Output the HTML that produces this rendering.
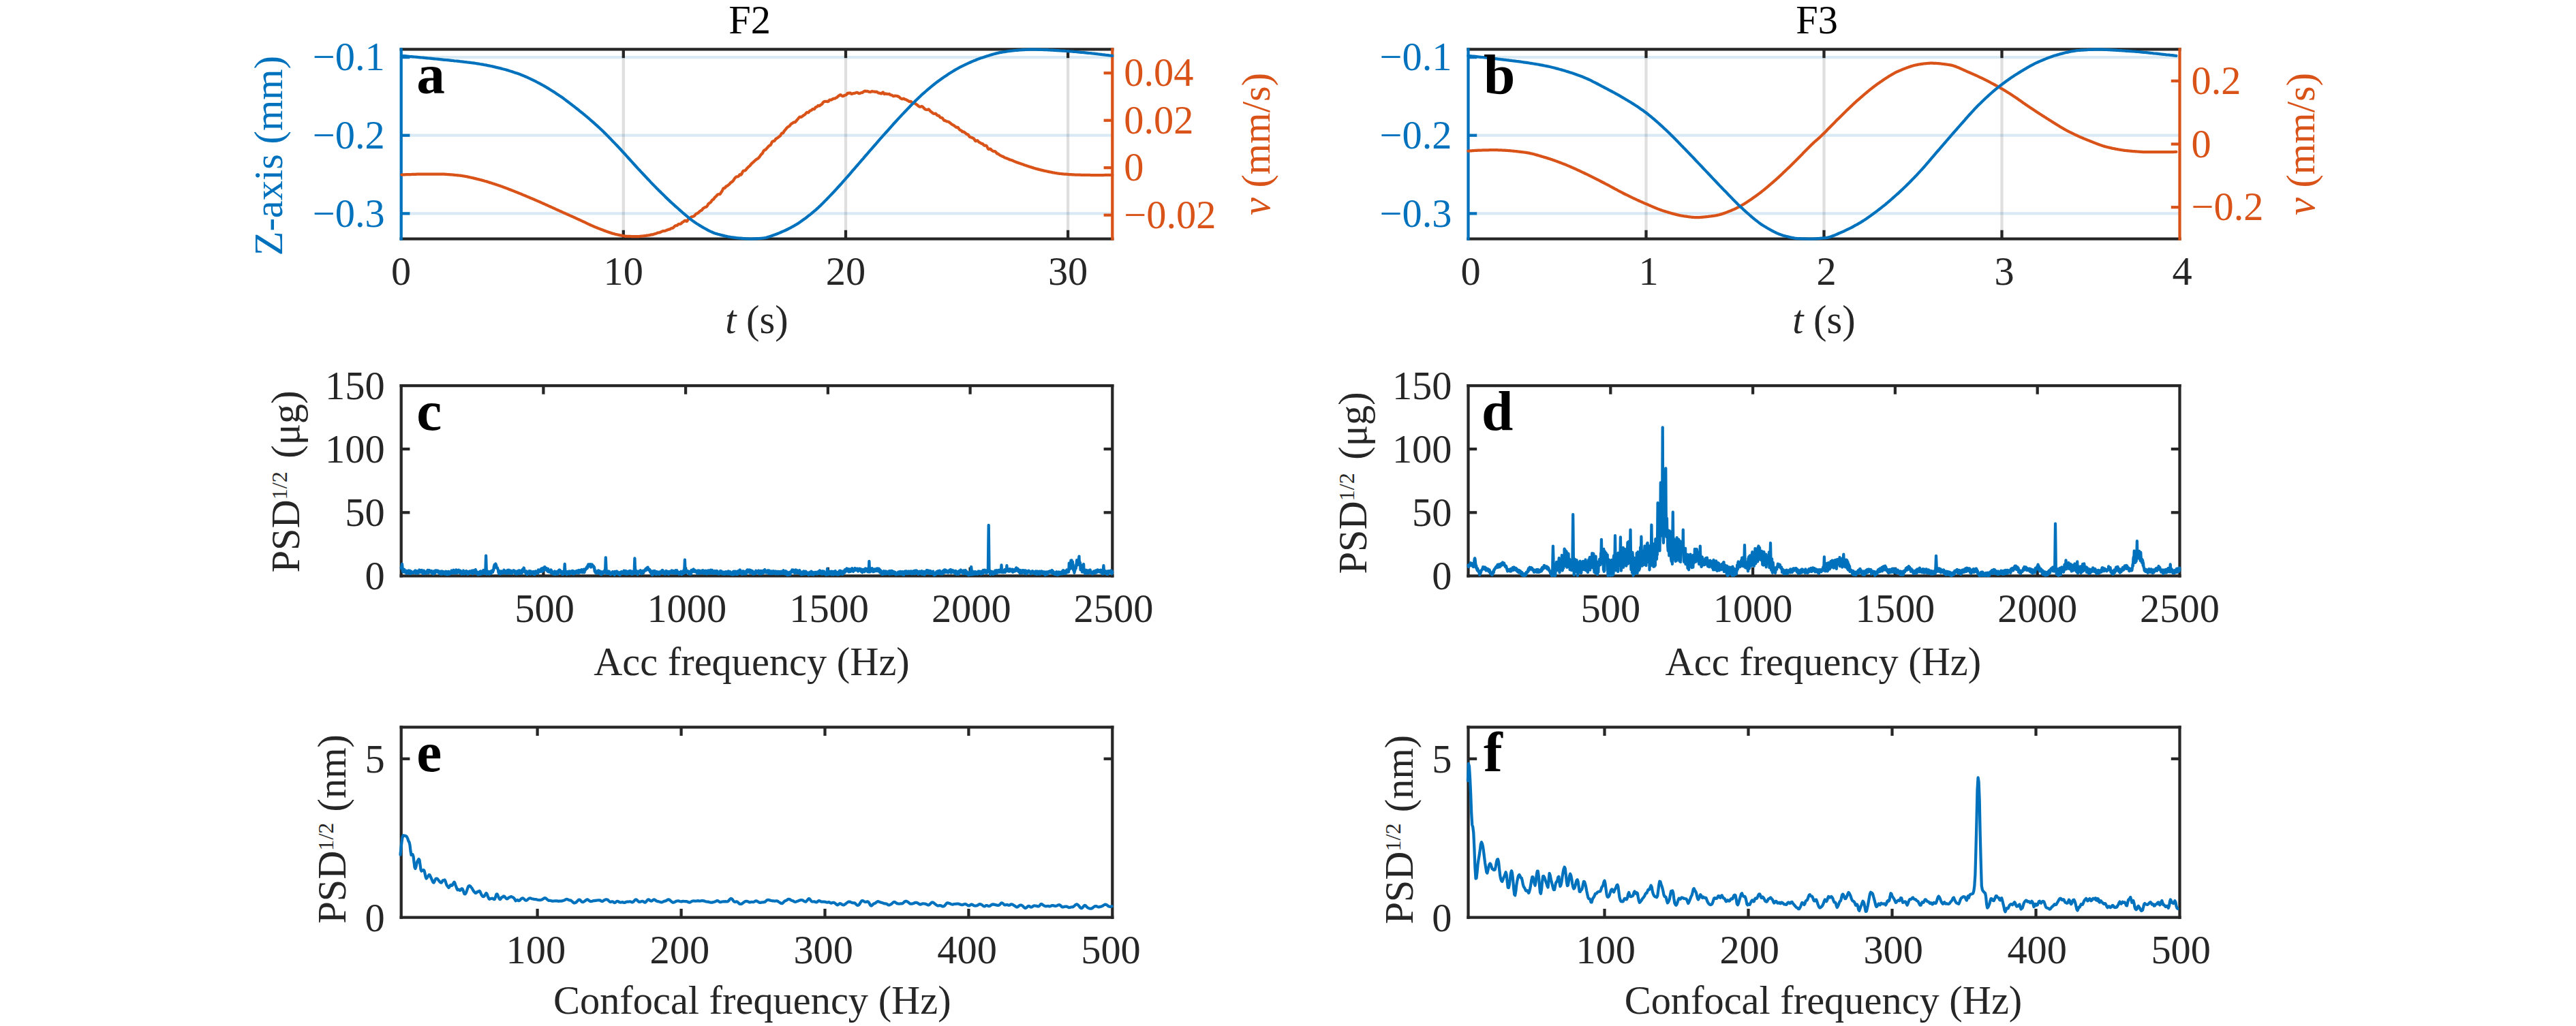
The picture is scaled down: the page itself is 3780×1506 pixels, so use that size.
<!DOCTYPE html>
<html><head><meta charset="utf-8"><title>Figure</title>
<style>html,body{margin:0;padding:0;background:#fff;overflow:hidden;}svg{display:block;}</style>
</head><body>
<svg width="3780" height="1506" viewBox="0 0 3780 1506" font-family="'Liberation Serif', serif">
<rect width="3780" height="1506" fill="#ffffff"/>
<line x1="914.8" y1="72.4" x2="914.8" y2="350.5" stroke="#262626" stroke-opacity="0.15" stroke-width="4.25"/>
<line x1="1241" y1="72.4" x2="1241" y2="350.5" stroke="#262626" stroke-opacity="0.15" stroke-width="4.25"/>
<line x1="1567.1" y1="72.4" x2="1567.1" y2="350.5" stroke="#262626" stroke-opacity="0.15" stroke-width="4.25"/>
<line x1="588.7" y1="84.1" x2="1632.3" y2="84.1" stroke="#0072BD" stroke-opacity="0.15" stroke-width="4.25"/>
<line x1="588.7" y1="198.7" x2="1632.3" y2="198.7" stroke="#0072BD" stroke-opacity="0.15" stroke-width="4.25"/>
<line x1="588.7" y1="313.4" x2="1632.3" y2="313.4" stroke="#0072BD" stroke-opacity="0.15" stroke-width="4.25"/>
<line x1="588.7" y1="72.4" x2="1632.3" y2="72.4" stroke="#262626" stroke-width="4.25" stroke-linecap="square"/>
<line x1="588.7" y1="350.5" x2="1632.3" y2="350.5" stroke="#262626" stroke-width="4.25" stroke-linecap="square"/>
<text x="588.7" y="417.7" font-size="58.4" fill="#262626" text-anchor="middle" font-weight="normal">0</text>
<line x1="914.8" y1="350.5" x2="914.8" y2="337.8" stroke="#262626" stroke-width="4.25" stroke-linecap="butt"/>
<line x1="914.8" y1="72.4" x2="914.8" y2="85.1" stroke="#262626" stroke-width="4.25" stroke-linecap="butt"/>
<text x="914.8" y="417.7" font-size="58.4" fill="#262626" text-anchor="middle" font-weight="normal">10</text>
<line x1="1241" y1="350.5" x2="1241" y2="337.8" stroke="#262626" stroke-width="4.25" stroke-linecap="butt"/>
<line x1="1241" y1="72.4" x2="1241" y2="85.1" stroke="#262626" stroke-width="4.25" stroke-linecap="butt"/>
<text x="1241" y="417.7" font-size="58.4" fill="#262626" text-anchor="middle" font-weight="normal">20</text>
<line x1="1567.1" y1="350.5" x2="1567.1" y2="337.8" stroke="#262626" stroke-width="4.25" stroke-linecap="butt"/>
<line x1="1567.1" y1="72.4" x2="1567.1" y2="85.1" stroke="#262626" stroke-width="4.25" stroke-linecap="butt"/>
<text x="1567.1" y="417.7" font-size="58.4" fill="#262626" text-anchor="middle" font-weight="normal">30</text>
<line x1="588.7" y1="72.4" x2="588.7" y2="350.5" stroke="#0072BD" stroke-width="4.25" stroke-linecap="square"/>
<line x1="1632.3" y1="72.4" x2="1632.3" y2="350.5" stroke="#D95319" stroke-width="4.25" stroke-linecap="square"/>
<line x1="588.7" y1="84.1" x2="601.4" y2="84.1" stroke="#0072BD" stroke-width="4.25" stroke-linecap="butt"/>
<text x="564.7" y="103.3" font-size="58.4" fill="#0072BD" text-anchor="end" font-weight="normal">−0.1</text>
<line x1="588.7" y1="198.7" x2="601.4" y2="198.7" stroke="#0072BD" stroke-width="4.25" stroke-linecap="butt"/>
<text x="564.7" y="217.9" font-size="58.4" fill="#0072BD" text-anchor="end" font-weight="normal">−0.2</text>
<line x1="588.7" y1="313.4" x2="601.4" y2="313.4" stroke="#0072BD" stroke-width="4.25" stroke-linecap="butt"/>
<text x="564.7" y="332.6" font-size="58.4" fill="#0072BD" text-anchor="end" font-weight="normal">−0.3</text>
<line x1="1632.3" y1="107.2" x2="1619.6" y2="107.2" stroke="#D95319" stroke-width="4.25" stroke-linecap="butt"/>
<text x="1649.3" y="126.4" font-size="58.4" fill="#D95319" text-anchor="start" font-weight="normal">0.04</text>
<line x1="1632.3" y1="176.7" x2="1619.6" y2="176.7" stroke="#D95319" stroke-width="4.25" stroke-linecap="butt"/>
<text x="1649.3" y="195.9" font-size="58.4" fill="#D95319" text-anchor="start" font-weight="normal">0.02</text>
<line x1="1632.3" y1="246.2" x2="1619.6" y2="246.2" stroke="#D95319" stroke-width="4.25" stroke-linecap="butt"/>
<text x="1649.3" y="265.4" font-size="58.4" fill="#D95319" text-anchor="start" font-weight="normal">0</text>
<line x1="1632.3" y1="315.7" x2="1619.6" y2="315.7" stroke="#D95319" stroke-width="4.25" stroke-linecap="butt"/>
<text x="1649.3" y="334.9" font-size="58.4" fill="#D95319" text-anchor="start" font-weight="normal">−0.02</text>
<polyline points="589.4,256.5 590.4,256.5 591.4,256.4 592.4,256.4 593.4,256.3 594.4,256.3 595.4,256.2 596.4,256.2 597.4,256.2 598.4,256.1 599.4,256.1 600.4,256.1 601.4,256 602.4,256 603.4,256 604.4,255.9 605.4,255.9 606.4,255.9 607.4,255.8 608.4,255.8 609.4,255.8 610.4,255.8 611.4,255.7 612.4,255.7 613.4,255.7 614.4,255.7 615.4,255.7 616.4,255.6 617.5,255.6 618.5,255.6 619.5,255.6 620.5,255.6 621.5,255.6 622.5,255.6 623.5,255.6 624.5,255.6 625.5,255.6 626.5,255.6 627.5,255.6 628.5,255.5 629.5,255.5 630.5,255.5 631.5,255.5 632.5,255.5 633.5,255.5 634.5,255.5 635.5,255.5 636.5,255.5 637.5,255.5 638.5,255.5 639.5,255.5 640.5,255.5 641.5,255.5 642.5,255.5 643.5,255.5 644.5,255.5 645.5,255.5 646.5,255.5 647.5,255.6 648.5,255.6 649.5,255.6 650.5,255.7 651.5,255.7 652.5,255.7 653.5,255.8 654.5,255.9 655.5,255.9 656.5,256 657.5,256.1 658.5,256.1 659.5,256.2 660.5,256.3 661.5,256.4 662.5,256.4 663.5,256.5 664.5,256.6 665.5,256.7 666.5,256.8 667.5,256.9 668.5,257 669.5,257.1 670.5,257.2 671.5,257.3 672.6,257.4 673.6,257.5 674.6,257.6 675.6,257.7 676.6,257.9 677.6,258 678.6,258.1 679.6,258.3 680.6,258.5 681.6,258.6 682.6,258.8 683.6,259 684.6,259.2 685.6,259.4 686.6,259.6 687.6,259.8 688.6,260 689.6,260.3 690.6,260.5 691.6,260.7 692.6,261 693.6,261.2 694.6,261.4 695.6,261.7 696.6,261.9 697.6,262.1 698.6,262.4 699.6,262.6 700.6,262.9 701.6,263.1 702.6,263.3 703.6,263.6 704.6,263.8 705.6,264.1 706.6,264.4 707.6,264.6 708.6,264.9 709.6,265.2 710.6,265.5 711.6,265.8 712.6,266 713.6,266.3 714.6,266.6 715.6,266.9 716.6,267.3 717.6,267.6 718.6,267.9 719.6,268.2 720.6,268.5 721.6,268.8 722.6,269.2 723.6,269.5 724.6,269.8 725.6,270.1 726.7,270.5 727.7,270.8 728.7,271.1 729.7,271.5 730.7,271.8 731.7,272.2 732.7,272.5 733.7,272.8 734.7,273.2 735.7,273.5 736.7,273.9 737.7,274.3 738.7,274.6 739.7,275 740.7,275.4 741.7,275.7 742.7,276.1 743.7,276.5 744.7,276.9 745.7,277.3 746.7,277.7 747.7,278.1 748.7,278.4 749.7,278.8 750.7,279.2 751.7,279.6 752.7,280 753.7,280.4 754.7,280.8 755.7,281.2 756.7,281.6 757.7,282 758.7,282.4 759.7,282.8 760.7,283.2 761.7,283.6 762.7,284 763.7,284.4 764.7,284.8 765.7,285.2 766.7,285.7 767.7,286.1 768.7,286.5 769.7,286.9 770.7,287.3 771.7,287.7 772.7,288.1 773.7,288.6 774.7,289 775.7,289.4 776.7,289.8 777.7,290.3 778.7,290.7 779.7,291.1 780.7,291.5 781.8,292 782.8,292.4 783.8,292.8 784.8,293.3 785.8,293.7 786.8,294.1 787.8,294.6 788.8,295 789.8,295.4 790.8,295.9 791.8,296.3 792.8,296.7 793.8,297.2 794.8,297.6 795.8,298.1 796.8,298.5 797.8,299 798.8,299.4 799.8,299.9 800.8,300.3 801.8,300.8 802.8,301.2 803.8,301.7 804.8,302.1 805.8,302.6 806.8,303 807.8,303.5 808.8,303.9 809.8,304.4 810.8,304.8 811.8,305.3 812.8,305.7 813.8,306.2 814.8,306.7 815.8,307.1 816.8,307.6 817.8,308 818.8,308.5 819.8,308.9 820.8,309.4 821.8,309.8 822.8,310.3 823.8,310.7 824.8,311.2 825.8,311.6 826.8,312.1 827.8,312.5 828.8,313 829.8,313.4 830.8,313.9 831.8,314.3 832.8,314.8 833.8,315.2 834.8,315.7 835.8,316.1 836.9,316.6 837.9,317 838.9,317.5 839.9,317.9 840.9,318.4 841.9,318.8 842.9,319.3 843.9,319.7 844.9,320.2 845.9,320.6 846.9,321.1 847.9,321.6 848.9,322 849.9,322.5 850.9,322.9 851.9,323.4 852.9,323.9 853.9,324.3 854.9,324.8 855.9,325.3 856.9,325.7 857.9,326.2 858.9,326.7 859.9,327.2 860.9,327.7 861.9,328.1 862.9,328.6 863.9,329.1 864.9,329.5 865.9,330 866.9,330.5 867.9,330.9 868.9,331.4 869.9,331.8 870.9,332.2 871.9,332.7 872.9,333.1 873.9,333.5 874.9,333.9 875.9,334.3 876.9,334.7 877.9,335.1 878.9,335.5 879.9,335.9 880.9,336.3 881.9,336.6 882.9,337 883.9,337.4 884.9,337.8 885.9,338.2 886.9,338.6 887.9,338.9 888.9,339.3 889.9,339.7 890.9,340 892,340.4 893,340.7 894,341.1 895,341.4 896,341.7 897,342.1 898,342.4 899,342.7 900,343 901,343.2 902,343.5 903,343.8 904,344 905,344.2 906,344.5 907,344.7 908,344.9 909,345.1 910,345.3 911,345.5 912,345.7 913,345.9 914,346.1 915,346.3 916,346.4 917,346.6 918,346.7 919,346.8 920,346.9 921,346.9 922,346.9 923,346.9 924,346.9 925,346.9 926,347 927,347 928,347 929,347 930,347 931,347 932,347 933,347 934,347 935,347 936,347 937,347 938,347 939,346.9 940,346.8 941,346.7 942,346.6 943,346.5 944,346.4 945,346.3 946,346.1 947.1,346 948.1,345.9 949.1,345.7 950.1,345.6 951.1,345.5 952.1,345.3 953.1,345.1 954.1,344.8 955.1,344.6 956.1,344.4 957.1,344.3 958.1,344.3 959.1,343.9 960.1,343.5 961.1,343.2 962.1,343 963.1,342.6 964.1,342.1 965.1,341.8 966.1,341.5 967.1,341.4 968.1,341.3 969.1,340.9 970.1,340.3 971.1,339.9 972.1,339.4 973.1,339 974.1,339 975.1,339 976.1,338.8 977.1,338.4 978.1,338 979.1,337.5 980.1,337.2 981.1,336.9 982.1,336.7 983.1,336.5 984.1,335.7 985.1,335.1 986.1,334.9 987.1,334.8 988.1,334.1 989.1,332.9 990.1,331.9 991.1,331.4 992.1,331.2 993.1,331.1 994.1,330.5 995.1,329.4 996.1,328.9 997.1,328.8 998.1,328.8 999.1,328.4 1000.1,327.4 1001.2,326.4 1002.2,325.9 1003.2,325.3 1004.2,324.3 1005.2,323.7 1006.2,324 1007.2,324.8 1008.2,324.6 1009.2,323 1010.2,321.4 1011.2,320.6 1012.2,320.1 1013.2,319.5 1014.2,318.7 1015.2,318.2 1016.2,318 1017.2,317.7 1018.2,317.3 1019.2,316.6 1020.2,315.3 1021.2,314 1022.2,313.7 1023.2,313.1 1024.2,312.5 1025.2,312 1026.2,310.8 1027.2,309.8 1028.2,309.3 1029.2,308.9 1030.2,307.9 1031.2,306.6 1032.2,305.6 1033.2,305.1 1034.2,304.4 1035.2,304 1036.2,303.8 1037.2,303.1 1038.2,301.6 1039.2,299.7 1040.2,298.6 1041.2,298 1042.2,297.4 1043.2,296.5 1044.2,294.9 1045.2,293.5 1046.2,292.9 1047.2,292.2 1048.2,290.7 1049.2,289.4 1050.2,288.6 1051.2,287.8 1052.2,286.4 1053.2,285.5 1054.2,285.2 1055.2,285.2 1056.3,285.2 1057.3,283.9 1058.3,282.2 1059.3,280.9 1060.3,278.8 1061.3,276.8 1062.3,276.1 1063.3,276.1 1064.3,275.2 1065.3,273.7 1066.3,273.2 1067.3,272.8 1068.3,272 1069.3,271.1 1070.3,270.3 1071.3,269.1 1072.3,268 1073.3,267.5 1074.3,266.8 1075.3,265.9 1076.3,264.7 1077.3,263 1078.3,261.6 1079.3,260.4 1080.3,259.6 1081.3,259.4 1082.3,259.3 1083.3,259 1084.3,258 1085.3,256.4 1086.3,256 1087.3,256.5 1088.3,255.5 1089.3,253.1 1090.3,251.2 1091.3,250.5 1092.3,250.5 1093.3,250.3 1094.3,249.5 1095.3,248.2 1096.3,246.9 1097.3,245.9 1098.3,245 1099.3,244.2 1100.3,243.4 1101.3,242.2 1102.3,240.7 1103.3,239.8 1104.3,239.1 1105.3,238.1 1106.3,237.2 1107.3,236.1 1108.3,235.3 1109.3,234.6 1110.3,233.7 1111.4,233.1 1112.4,232.6 1113.4,231.6 1114.4,230.4 1115.4,228.9 1116.4,227.4 1117.4,226.3 1118.4,225.6 1119.4,223.9 1120.4,221.7 1121.4,220.6 1122.4,220.3 1123.4,219.7 1124.4,218.6 1125.4,217.5 1126.4,216.4 1127.4,215.2 1128.4,214.1 1129.4,213.6 1130.4,213.2 1131.4,211.6 1132.4,209.3 1133.4,207.8 1134.4,207.2 1135.4,207.1 1136.4,206.8 1137.4,205.4 1138.4,203.8 1139.4,203.2 1140.4,202.8 1141.4,202.1 1142.4,201.3 1143.4,200.3 1144.4,199.8 1145.4,198.7 1146.4,196.6 1147.4,195.5 1148.4,195.6 1149.4,194.9 1150.4,192.9 1151.4,191.6 1152.4,190.6 1153.4,189.2 1154.4,187.9 1155.4,187 1156.4,186.1 1157.4,185.6 1158.4,185.1 1159.4,183.8 1160.4,182.5 1161.4,181.7 1162.4,181.1 1163.4,180.4 1164.4,179.6 1165.4,179.4 1166.5,179.5 1167.5,178.7 1168.5,177.3 1169.5,176.2 1170.5,175 1171.5,173.8 1172.5,172.5 1173.5,171.6 1174.5,171.6 1175.5,171.9 1176.5,171.4 1177.5,170.6 1178.5,169.7 1179.5,169.1 1180.5,168.5 1181.5,167.8 1182.5,166.5 1183.5,165.2 1184.5,164.9 1185.5,165.3 1186.5,165.1 1187.5,163.6 1188.5,162.5 1189.5,162.4 1190.5,161.9 1191.5,160.9 1192.5,160.1 1193.5,160 1194.5,160.3 1195.5,159.5 1196.5,157.8 1197.5,157.1 1198.5,156.9 1199.5,156.1 1200.5,155 1201.5,155.3 1202.5,155.4 1203.5,154.4 1204.5,153.7 1205.5,153.4 1206.5,152.3 1207.5,150.7 1208.5,149.6 1209.5,149.1 1210.5,148.9 1211.5,148.9 1212.5,148.9 1213.5,148.9 1214.5,149.2 1215.5,149 1216.5,147.6 1217.5,146.6 1218.5,146.7 1219.5,146.7 1220.5,146.3 1221.6,145.5 1222.6,145 1223.6,144.7 1224.6,144.6 1225.6,144.4 1226.6,143.6 1227.6,143.2 1228.6,142.6 1229.6,141.6 1230.6,140.7 1231.6,140.1 1232.6,139.3 1233.6,139.2 1234.6,140 1235.6,140.8 1236.6,141.1 1237.6,140.9 1238.6,140.2 1239.6,139.8 1240.6,139.6 1241.6,139.2 1242.6,138.3 1243.6,137 1244.6,136.6 1245.6,136.8 1246.6,136.5 1247.6,136.3 1248.6,137.2 1249.6,137.9 1250.6,137.6 1251.6,137.2 1252.6,137.1 1253.6,136.8 1254.6,136.6 1255.6,136.3 1256.6,135.9 1257.6,135.8 1258.6,136.1 1259.6,136.8 1260.6,137.2 1261.6,137.1 1262.6,136.6 1263.6,136.2 1264.6,136.1 1265.6,135.9 1266.6,135 1267.6,134.3 1268.6,133.9 1269.6,133.6 1270.6,133.8 1271.6,134 1272.6,133.8 1273.6,134.1 1274.6,134.6 1275.7,134.8 1276.7,135 1277.7,135 1278.7,134.4 1279.7,134 1280.7,134.4 1281.7,134.5 1282.7,134.4 1283.7,134.8 1284.7,134.9 1285.7,134.7 1286.7,134.8 1287.7,135.5 1288.7,136.3 1289.7,136.6 1290.7,136.6 1291.7,136.8 1292.7,137.4 1293.7,137.3 1294.7,136.1 1295.7,135.4 1296.7,136.7 1297.7,138.1 1298.7,137.7 1299.7,137.3 1300.7,137.8 1301.7,137.9 1302.7,138.1 1303.7,138.1 1304.7,137.8 1305.7,138.5 1306.7,139.3 1307.7,139.5 1308.7,139.7 1309.7,140.3 1310.7,141.1 1311.7,141.2 1312.7,140.5 1313.7,140.5 1314.7,140.9 1315.7,140.9 1316.7,141 1317.7,141.5 1318.7,142 1319.7,142.5 1320.7,143.5 1321.7,144.4 1322.7,144.9 1323.7,145.3 1324.7,145.1 1325.7,144.6 1326.7,145 1327.7,145.7 1328.7,146 1329.7,146.3 1330.8,147.1 1331.8,147.4 1332.8,148 1333.8,148.9 1334.8,149.1 1335.8,148.9 1336.8,149.1 1337.8,150.1 1338.8,151 1339.8,151.5 1340.8,151.3 1341.8,151.1 1342.8,151.7 1343.8,152.8 1344.8,153.2 1345.8,153.9 1346.8,154.8 1347.8,155.7 1348.8,156.4 1349.8,156.8 1350.8,156.7 1351.8,156.3 1352.8,156.1 1353.8,156.7 1354.8,157.6 1355.8,158.7 1356.8,159.8 1357.8,160.5 1358.8,160.9 1359.8,161 1360.8,161.1 1361.8,160.7 1362.8,160.4 1363.8,161.4 1364.8,162.8 1365.8,163.8 1366.8,164.4 1367.8,165.2 1368.8,166.1 1369.8,166.6 1370.8,166.8 1371.8,166.8 1372.8,166.7 1373.8,167.5 1374.8,168.9 1375.8,169.7 1376.8,169.6 1377.8,169.8 1378.8,171.2 1379.8,172.5 1380.8,172.7 1381.8,172.8 1382.8,173.4 1383.8,174.6 1384.8,176.1 1385.9,177 1386.9,177 1387.9,177.4 1388.9,178.2 1389.9,178.4 1390.9,178.5 1391.9,178.8 1392.9,179.4 1393.9,180.3 1394.9,181 1395.9,181.9 1396.9,182.6 1397.9,183.2 1398.9,183.6 1399.9,184.2 1400.9,185.1 1401.9,185.9 1402.9,186.7 1403.9,187.2 1404.9,186.8 1405.9,187.2 1406.9,188.7 1407.9,190.1 1408.9,190.9 1409.9,191.2 1410.9,191.8 1411.9,193.2 1412.9,193.6 1413.9,193.4 1414.9,193.9 1415.9,194.7 1416.9,195.5 1417.9,196.5 1418.9,197.1 1419.9,197.1 1420.9,197.9 1421.9,199.5 1422.9,200.9 1423.9,201.2 1424.9,201.5 1425.9,202.1 1426.9,202.4 1427.9,202.7 1428.9,203.5 1429.9,204.7 1430.9,206.6 1431.9,207.1 1432.9,206.5 1433.9,206.2 1434.9,206.7 1435.9,208 1436.9,208.9 1437.9,209.3 1438.9,209.9 1439.9,210.6 1441,210.8 1442,211.1 1443,212.3 1444,213.4 1445,213.8 1446,213.5 1447,213.5 1448,214.6 1449,216.6 1450,218.5 1451,219.1 1452,218.7 1453,218.4 1454,219.1 1455,220.3 1456,221.1 1457,221.8 1458,222.2 1459,222.1 1460,222.1 1461,222.9 1462,224.2 1463,225.4 1464,225.7 1465,225.9 1466,226.9 1467,227.7 1468,228.1 1469,228.7 1470,229.2 1471,229.6 1472,229.9 1473,230.5 1474,231.2 1475,231.6 1476,232 1477,232.4 1478,232.6 1479,233.1 1480,233.5 1481,234 1482,234.5 1483,234.8 1484,234.9 1485,235.3 1486,235.7 1487,236.2 1488,236.7 1489,237.1 1490,237.5 1491,237.9 1492,238.2 1493,238.6 1494,238.9 1495,239.3 1496.1,239.6 1497.1,240 1498.1,240.4 1499.1,240.7 1500.1,241 1501.1,241.4 1502.1,241.8 1503.1,242.1 1504.1,242.5 1505.1,242.8 1506.1,243.1 1507.1,243.5 1508.1,243.8 1509.1,244.1 1510.1,244.5 1511.1,244.8 1512.1,245.1 1513.1,245.4 1514.1,245.7 1515.1,246.1 1516.1,246.4 1517.1,246.7 1518.1,247 1519.1,247.3 1520.1,247.6 1521.1,247.8 1522.1,248.1 1523.1,248.4 1524.1,248.7 1525.1,248.9 1526.1,249.2 1527.1,249.4 1528.1,249.7 1529.1,249.9 1530.1,250.1 1531.1,250.3 1532.1,250.6 1533.1,250.8 1534.1,251 1535.1,251.2 1536.1,251.5 1537.1,251.7 1538.1,251.9 1539.1,252.1 1540.1,252.3 1541.1,252.5 1542.1,252.7 1543.1,252.9 1544.1,253.1 1545.1,253.3 1546.1,253.5 1547.1,253.7 1548.1,253.9 1549.1,254 1550.2,254.2 1551.2,254.4 1552.2,254.5 1553.2,254.6 1554.2,254.8 1555.2,254.9 1556.2,255 1557.2,255.1 1558.2,255.2 1559.2,255.3 1560.2,255.4 1561.2,255.5 1562.2,255.5 1563.2,255.6 1564.2,255.7 1565.2,255.7 1566.2,255.8 1567.2,255.9 1568.2,256 1569.2,256 1570.2,256.1 1571.2,256.1 1572.2,256.2 1573.2,256.3 1574.2,256.3 1575.2,256.4 1576.2,256.4 1577.2,256.5 1578.2,256.5 1579.2,256.5 1580.2,256.6 1581.2,256.6 1582.2,256.6 1583.2,256.7 1584.2,256.7 1585.2,256.7 1586.2,256.8 1587.2,256.8 1588.2,256.8 1589.2,256.8 1590.2,256.8 1591.2,256.8 1592.2,256.9 1593.2,256.9 1594.2,256.9 1595.2,256.9 1596.2,256.9 1597.2,256.9 1598.2,256.9 1599.2,256.9 1600.2,257 1601.2,257 1602.2,257 1603.2,257 1604.2,257 1605.3,257 1606.3,257 1607.3,257 1608.3,257 1609.3,257 1610.3,257 1611.3,257 1612.3,257 1613.3,257 1614.3,257 1615.3,257 1616.3,257 1617.3,257 1618.3,257 1619.3,257 1620.3,257 1621.3,256.9 1622.3,256.9 1623.3,256.9 1624.3,256.9 1625.3,256.9 1626.3,256.9 1627.3,256.9 1628.3,256.9 1629.3,256.9 1630.3,256.8 1631.3,256.8 1632.3,256.8" fill="none" stroke="#D95319" stroke-width="4.25" stroke-linejoin="round" stroke-linecap="round"/>
<polyline points="589.4,81.9 591.5,82.1 593.6,82.2 595.7,82.4 597.8,82.6 599.8,82.8 601.9,83 604,83.1 606.1,83.3 608.2,83.5 610.3,83.7 612.4,83.9 614.5,84.1 616.6,84.3 618.7,84.5 620.7,84.7 622.8,84.9 624.9,85.1 627,85.3 629.1,85.5 631.2,85.7 633.3,85.9 635.4,86.1 637.5,86.3 639.6,86.5 641.6,86.7 643.7,86.9 645.8,87.1 647.9,87.3 650,87.6 652.1,87.8 654.2,88 656.3,88.2 658.4,88.4 660.5,88.6 662.5,88.8 664.6,89 666.7,89.3 668.8,89.5 670.9,89.7 673,89.9 675.1,90.2 677.2,90.4 679.3,90.6 681.4,90.9 683.4,91.1 685.5,91.4 687.6,91.6 689.7,91.9 691.8,92.2 693.9,92.4 696,92.7 698.1,93 700.2,93.3 702.3,93.6 704.3,94 706.4,94.3 708.5,94.7 710.6,95.1 712.7,95.4 714.8,95.9 716.9,96.3 719,96.7 721.1,97.2 723.2,97.6 725.2,98.1 727.3,98.6 729.4,99.1 731.5,99.6 733.6,100.1 735.7,100.6 737.8,101.2 739.9,101.7 742,102.3 744.1,102.9 746.1,103.5 748.2,104.2 750.3,104.8 752.4,105.5 754.5,106.2 756.6,106.9 758.7,107.6 760.8,108.3 762.9,109.1 765,109.9 767,110.8 769.1,111.6 771.2,112.5 773.3,113.4 775.4,114.4 777.5,115.4 779.6,116.4 781.7,117.4 783.8,118.4 785.9,119.4 787.9,120.5 790,121.6 792.1,122.7 794.2,123.8 796.3,125 798.4,126.2 800.5,127.4 802.6,128.6 804.7,129.9 806.8,131.2 808.8,132.5 810.9,133.8 813,135.1 815.1,136.5 817.2,137.9 819.3,139.3 821.4,140.7 823.5,142.1 825.6,143.6 827.7,145.1 829.7,146.6 831.8,148.2 833.9,149.8 836,151.4 838.1,153 840.2,154.6 842.3,156.2 844.4,157.9 846.5,159.5 848.6,161.2 850.6,162.9 852.7,164.5 854.8,166.2 856.9,167.9 859,169.7 861.1,171.4 863.2,173.2 865.3,175 867.4,176.8 869.5,178.6 871.5,180.4 873.6,182.3 875.7,184.2 877.8,186.1 879.9,188 882,190 884.1,192 886.2,194.1 888.3,196.1 890.4,198.2 892.4,200.3 894.5,202.5 896.6,204.6 898.7,206.8 900.8,208.9 902.9,211.1 905,213.3 907.1,215.5 909.2,217.7 911.3,220 913.3,222.2 915.4,224.5 917.5,226.8 919.6,229.1 921.7,231.5 923.8,233.8 925.9,236.1 928,238.4 930.1,240.7 932.2,243 934.2,245.3 936.3,247.6 938.4,249.8 940.5,252.1 942.6,254.3 944.7,256.5 946.8,258.8 948.9,261 951,263.2 953.1,265.4 955.1,267.6 957.2,269.8 959.3,271.9 961.4,274.1 963.5,276.2 965.6,278.3 967.7,280.4 969.8,282.4 971.9,284.5 974,286.6 976,288.6 978.1,290.6 980.2,292.6 982.3,294.6 984.4,296.6 986.5,298.5 988.6,300.4 990.7,302.3 992.8,304.2 994.9,306 996.9,307.8 999,309.7 1001.1,311.5 1003.2,313.3 1005.3,315.1 1007.4,316.9 1009.5,318.6 1011.6,320.3 1013.7,322 1015.8,323.6 1017.8,325.1 1019.9,326.6 1022,328 1024.1,329.3 1026.2,330.6 1028.3,331.9 1030.4,333.1 1032.5,334.3 1034.6,335.5 1036.7,336.7 1038.7,337.8 1040.8,338.9 1042.9,339.9 1045,340.8 1047.1,341.7 1049.2,342.5 1051.3,343.1 1053.4,343.8 1055.5,344.3 1057.6,344.9 1059.6,345.4 1061.7,345.9 1063.8,346.4 1065.9,346.8 1068,347.3 1070.1,347.6 1072.2,348 1074.3,348.3 1076.4,348.6 1078.5,348.9 1080.5,349.2 1082.6,349.4 1084.7,349.6 1086.8,349.7 1088.9,349.9 1091,350.1 1093.1,350.2 1095.2,350.4 1097.3,350.4 1099.4,350.5 1101.4,350.5 1103.5,350.5 1105.6,350.4 1107.7,350.3 1109.8,350.2 1111.9,350.1 1114,350 1116.1,349.8 1118.2,349.7 1120.3,349.5 1122.3,349.2 1124.4,348.7 1126.5,348.1 1128.6,347.4 1130.7,346.7 1132.8,346 1134.9,345.2 1137,344.5 1139.1,343.7 1141.2,342.9 1143.2,342.1 1145.3,341.2 1147.4,340.3 1149.5,339.4 1151.6,338.5 1153.7,337.5 1155.8,336.5 1157.9,335.4 1160,334.3 1162.1,333.2 1164.1,332.1 1166.2,330.9 1168.3,329.7 1170.4,328.4 1172.5,327 1174.6,325.6 1176.7,324.1 1178.8,322.6 1180.9,321.1 1183,319.5 1185,317.9 1187.1,316.2 1189.2,314.6 1191.3,312.9 1193.4,311.1 1195.5,309.4 1197.6,307.6 1199.7,305.7 1201.8,303.7 1203.9,301.8 1205.9,299.7 1208,297.7 1210.1,295.6 1212.2,293.4 1214.3,291.3 1216.4,289.1 1218.5,286.9 1220.6,284.7 1222.7,282.6 1224.8,280.3 1226.8,278.1 1228.9,275.8 1231,273.5 1233.1,271.2 1235.2,268.8 1237.3,266.4 1239.4,264.1 1241.5,261.7 1243.6,259.3 1245.7,257 1247.7,254.6 1249.8,252.2 1251.9,249.7 1254,247.3 1256.1,244.9 1258.2,242.5 1260.3,240 1262.4,237.6 1264.5,235.2 1266.6,232.8 1268.6,230.4 1270.7,228 1272.8,225.6 1274.9,223.1 1277,220.7 1279.1,218.3 1281.2,215.9 1283.3,213.5 1285.4,211.1 1287.5,208.7 1289.5,206.3 1291.6,203.9 1293.7,201.6 1295.8,199.2 1297.9,196.9 1300,194.5 1302.1,192.2 1304.2,189.8 1306.3,187.5 1308.4,185.1 1310.4,182.8 1312.5,180.5 1314.6,178.2 1316.7,175.9 1318.8,173.6 1320.9,171.4 1323,169.1 1325.1,166.9 1327.2,164.7 1329.3,162.6 1331.3,160.4 1333.4,158.2 1335.5,156 1337.6,153.8 1339.7,151.7 1341.8,149.6 1343.9,147.5 1346,145.5 1348.1,143.4 1350.2,141.5 1352.2,139.5 1354.3,137.6 1356.4,135.8 1358.5,134 1360.6,132.2 1362.7,130.4 1364.8,128.6 1366.9,126.9 1369,125.2 1371.1,123.5 1373.1,121.9 1375.2,120.3 1377.3,118.7 1379.4,117.2 1381.5,115.7 1383.6,114.2 1385.7,112.8 1387.8,111.4 1389.9,110 1392,108.6 1394,107.3 1396.1,106 1398.2,104.7 1400.3,103.4 1402.4,102.2 1404.5,101 1406.6,99.8 1408.7,98.7 1410.8,97.6 1412.9,96.6 1414.9,95.6 1417,94.6 1419.1,93.6 1421.2,92.6 1423.3,91.7 1425.4,90.8 1427.5,89.9 1429.6,89 1431.7,88.2 1433.8,87.3 1435.8,86.6 1437.9,85.8 1440,85.1 1442.1,84.4 1444.2,83.7 1446.3,83 1448.4,82.3 1450.5,81.7 1452.6,81 1454.7,80.4 1456.7,79.8 1458.8,79.2 1460.9,78.6 1463,78.1 1465.1,77.6 1467.2,77.2 1469.3,76.8 1471.4,76.4 1473.5,76.1 1475.6,75.8 1477.6,75.5 1479.7,75.2 1481.8,74.9 1483.9,74.7 1486,74.5 1488.1,74.2 1490.2,74 1492.3,73.8 1494.4,73.6 1496.5,73.5 1498.5,73.3 1500.6,73.2 1502.7,73.1 1504.8,73 1506.9,72.8 1509,72.7 1511.1,72.7 1513.2,72.6 1515.3,72.6 1517.4,72.6 1519.4,72.7 1521.5,72.7 1523.6,72.8 1525.7,72.8 1527.8,72.9 1529.9,73 1532,73.1 1534.1,73.2 1536.2,73.2 1538.3,73.3 1540.3,73.5 1542.4,73.6 1544.5,73.7 1546.6,73.8 1548.7,73.9 1550.8,74.1 1552.9,74.2 1555,74.3 1557.1,74.5 1559.2,74.6 1561.2,74.7 1563.3,74.9 1565.4,75 1567.5,75.2 1569.6,75.4 1571.7,75.5 1573.8,75.7 1575.9,75.9 1578,76 1580.1,76.2 1582.1,76.4 1584.2,76.6 1586.3,76.8 1588.4,77 1590.5,77.2 1592.6,77.4 1594.7,77.6 1596.8,77.8 1598.9,78 1601,78.2 1603,78.5 1605.1,78.7 1607.2,78.9 1609.3,79.1 1611.4,79.4 1613.5,79.6 1615.6,79.8 1617.7,80.1 1619.8,80.3 1621.9,80.6 1623.9,80.8 1626,81.1 1628.1,81.4 1630.2,81.6 1632.3,81.9" fill="none" stroke="#0072BD" stroke-width="4.25" stroke-linejoin="round" stroke-linecap="round"/>
<text x="1100" y="49" font-size="58.4" fill="#000000" text-anchor="middle" font-weight="normal">F2</text>
<text x="1110.5" y="488.7" font-size="58.4" fill="#262626" text-anchor="middle" font-weight="normal"><tspan font-style="italic">t</tspan> (s)</text>
<text x="1862.7" y="211.5" font-size="58.4" fill="#D95319" text-anchor="middle" font-weight="normal" transform="rotate(-90 1862.7 211.5)"><tspan font-style="italic">v</tspan> (mm/s)</text>
<text x="611.2" y="136.9" font-size="83.3" font-weight="bold" fill="#000000">a</text>
<line x1="2415.5" y1="72.4" x2="2415.5" y2="350.5" stroke="#262626" stroke-opacity="0.15" stroke-width="4.25"/>
<line x1="2676.5" y1="72.4" x2="2676.5" y2="350.5" stroke="#262626" stroke-opacity="0.15" stroke-width="4.25"/>
<line x1="2937.5" y1="72.4" x2="2937.5" y2="350.5" stroke="#262626" stroke-opacity="0.15" stroke-width="4.25"/>
<line x1="2154.5" y1="84.1" x2="3198.5" y2="84.1" stroke="#0072BD" stroke-opacity="0.15" stroke-width="4.25"/>
<line x1="2154.5" y1="198.7" x2="3198.5" y2="198.7" stroke="#0072BD" stroke-opacity="0.15" stroke-width="4.25"/>
<line x1="2154.5" y1="313.4" x2="3198.5" y2="313.4" stroke="#0072BD" stroke-opacity="0.15" stroke-width="4.25"/>
<line x1="2154.5" y1="72.4" x2="3198.5" y2="72.4" stroke="#262626" stroke-width="4.25" stroke-linecap="square"/>
<line x1="2154.5" y1="350.5" x2="3198.5" y2="350.5" stroke="#262626" stroke-width="4.25" stroke-linecap="square"/>
<text x="2158" y="417.7" font-size="58.4" fill="#262626" text-anchor="middle" font-weight="normal">0</text>
<line x1="2415.5" y1="350.5" x2="2415.5" y2="337.8" stroke="#262626" stroke-width="4.25" stroke-linecap="butt"/>
<line x1="2415.5" y1="72.4" x2="2415.5" y2="85.1" stroke="#262626" stroke-width="4.25" stroke-linecap="butt"/>
<text x="2419" y="417.7" font-size="58.4" fill="#262626" text-anchor="middle" font-weight="normal">1</text>
<line x1="2676.5" y1="350.5" x2="2676.5" y2="337.8" stroke="#262626" stroke-width="4.25" stroke-linecap="butt"/>
<line x1="2676.5" y1="72.4" x2="2676.5" y2="85.1" stroke="#262626" stroke-width="4.25" stroke-linecap="butt"/>
<text x="2680" y="417.7" font-size="58.4" fill="#262626" text-anchor="middle" font-weight="normal">2</text>
<line x1="2937.5" y1="350.5" x2="2937.5" y2="337.8" stroke="#262626" stroke-width="4.25" stroke-linecap="butt"/>
<line x1="2937.5" y1="72.4" x2="2937.5" y2="85.1" stroke="#262626" stroke-width="4.25" stroke-linecap="butt"/>
<text x="2941" y="417.7" font-size="58.4" fill="#262626" text-anchor="middle" font-weight="normal">3</text>
<text x="3202" y="417.7" font-size="58.4" fill="#262626" text-anchor="middle" font-weight="normal">4</text>
<line x1="2154.5" y1="72.4" x2="2154.5" y2="350.5" stroke="#0072BD" stroke-width="4.25" stroke-linecap="square"/>
<line x1="3198.5" y1="72.4" x2="3198.5" y2="350.5" stroke="#D95319" stroke-width="4.25" stroke-linecap="square"/>
<line x1="2154.5" y1="84.1" x2="2167.2" y2="84.1" stroke="#0072BD" stroke-width="4.25" stroke-linecap="butt"/>
<text x="2130.5" y="103.3" font-size="58.4" fill="#0072BD" text-anchor="end" font-weight="normal">−0.1</text>
<line x1="2154.5" y1="198.7" x2="2167.2" y2="198.7" stroke="#0072BD" stroke-width="4.25" stroke-linecap="butt"/>
<text x="2130.5" y="217.9" font-size="58.4" fill="#0072BD" text-anchor="end" font-weight="normal">−0.2</text>
<line x1="2154.5" y1="313.4" x2="2167.2" y2="313.4" stroke="#0072BD" stroke-width="4.25" stroke-linecap="butt"/>
<text x="2130.5" y="332.6" font-size="58.4" fill="#0072BD" text-anchor="end" font-weight="normal">−0.3</text>
<line x1="3198.5" y1="118.8" x2="3185.8" y2="118.8" stroke="#D95319" stroke-width="4.25" stroke-linecap="butt"/>
<text x="3215.5" y="137.9" font-size="58.4" fill="#D95319" text-anchor="start" font-weight="normal">0.2</text>
<line x1="3198.5" y1="211.5" x2="3185.8" y2="211.5" stroke="#D95319" stroke-width="4.25" stroke-linecap="butt"/>
<text x="3215.5" y="230.7" font-size="58.4" fill="#D95319" text-anchor="start" font-weight="normal">0</text>
<line x1="3198.5" y1="304.2" x2="3185.8" y2="304.2" stroke="#D95319" stroke-width="4.25" stroke-linecap="butt"/>
<text x="3215.5" y="323.4" font-size="58.4" fill="#D95319" text-anchor="start" font-weight="normal">−0.2</text>
<polyline points="2154.4,221.7 2155.4,221.6 2156.4,221.5 2157.4,221.4 2158.4,221.4 2159.4,221.3 2160.4,221.2 2161.4,221.1 2162.4,221.1 2163.4,221 2164.4,220.9 2165.4,220.9 2166.4,220.8 2167.4,220.8 2168.4,220.7 2169.4,220.7 2170.4,220.6 2171.4,220.6 2172.4,220.5 2173.4,220.5 2174.4,220.5 2175.4,220.4 2176.4,220.4 2177.4,220.4 2178.4,220.4 2179.4,220.3 2180.4,220.3 2181.4,220.3 2182.4,220.3 2183.4,220.3 2184.4,220.3 2185.4,220.2 2186.4,220.2 2187.4,220.2 2188.4,220.2 2189.4,220.2 2190.4,220.2 2191.4,220.2 2192.4,220.2 2193.4,220.2 2194.4,220.2 2195.4,220.2 2196.4,220.2 2197.4,220.2 2198.4,220.3 2199.4,220.3 2200.4,220.3 2201.4,220.3 2202.4,220.4 2203.4,220.4 2204.4,220.5 2205.4,220.5 2206.5,220.6 2207.5,220.6 2208.5,220.7 2209.5,220.8 2210.5,220.8 2211.5,220.9 2212.5,221 2213.5,221.1 2214.5,221.1 2215.5,221.2 2216.5,221.3 2217.5,221.4 2218.5,221.5 2219.5,221.6 2220.5,221.7 2221.5,221.8 2222.5,221.9 2223.5,222 2224.5,222.1 2225.5,222.2 2226.5,222.3 2227.5,222.5 2228.5,222.6 2229.5,222.7 2230.5,222.8 2231.5,222.9 2232.5,223.1 2233.5,223.2 2234.5,223.3 2235.5,223.4 2236.5,223.5 2237.5,223.7 2238.5,223.8 2239.5,223.9 2240.5,224.1 2241.5,224.3 2242.5,224.4 2243.5,224.6 2244.5,224.8 2245.5,225.1 2246.5,225.3 2247.5,225.5 2248.5,225.7 2249.5,226 2250.5,226.2 2251.5,226.5 2252.5,226.8 2253.5,227.1 2254.5,227.3 2255.5,227.6 2256.5,227.9 2257.5,228.2 2258.5,228.5 2259.5,228.8 2260.5,229.1 2261.5,229.4 2262.5,229.7 2263.5,230 2264.5,230.3 2265.5,230.6 2266.5,230.9 2267.5,231.1 2268.5,231.4 2269.5,231.8 2270.5,232.1 2271.5,232.4 2272.5,232.7 2273.5,233 2274.5,233.3 2275.5,233.7 2276.5,234 2277.5,234.3 2278.5,234.7 2279.5,235 2280.5,235.4 2281.5,235.7 2282.5,236.1 2283.5,236.5 2284.5,236.8 2285.5,237.2 2286.5,237.6 2287.5,238 2288.5,238.3 2289.5,238.7 2290.5,239.1 2291.5,239.5 2292.5,239.9 2293.5,240.3 2294.5,240.6 2295.5,241 2296.5,241.4 2297.5,241.8 2298.5,242.2 2299.5,242.6 2300.5,243.1 2301.5,243.5 2302.5,243.9 2303.5,244.3 2304.5,244.8 2305.5,245.2 2306.5,245.7 2307.5,246.1 2308.5,246.5 2309.5,247 2310.6,247.4 2311.6,247.9 2312.6,248.4 2313.6,248.8 2314.6,249.3 2315.6,249.8 2316.6,250.2 2317.6,250.7 2318.6,251.2 2319.6,251.6 2320.6,252.1 2321.6,252.6 2322.6,253.1 2323.6,253.5 2324.6,254 2325.6,254.5 2326.6,255 2327.6,255.4 2328.6,255.9 2329.6,256.4 2330.6,256.9 2331.6,257.4 2332.6,257.9 2333.6,258.4 2334.6,258.9 2335.6,259.4 2336.6,259.8 2337.6,260.4 2338.6,260.9 2339.6,261.4 2340.6,261.9 2341.6,262.4 2342.6,262.9 2343.6,263.4 2344.6,263.9 2345.6,264.4 2346.6,264.9 2347.6,265.4 2348.6,266 2349.6,266.5 2350.6,267 2351.6,267.5 2352.6,268 2353.6,268.5 2354.6,269 2355.6,269.6 2356.6,270.1 2357.6,270.6 2358.6,271.1 2359.6,271.7 2360.6,272.2 2361.6,272.7 2362.6,273.3 2363.6,273.8 2364.6,274.4 2365.6,274.9 2366.6,275.5 2367.6,276 2368.6,276.5 2369.6,277.1 2370.6,277.6 2371.6,278.2 2372.6,278.7 2373.6,279.2 2374.6,279.8 2375.6,280.3 2376.6,280.8 2377.6,281.4 2378.6,281.9 2379.6,282.4 2380.6,282.9 2381.6,283.5 2382.6,284 2383.6,284.5 2384.6,285 2385.6,285.5 2386.6,285.9 2387.6,286.4 2388.6,286.9 2389.6,287.4 2390.6,287.9 2391.6,288.4 2392.6,288.9 2393.6,289.4 2394.6,289.8 2395.6,290.3 2396.6,290.8 2397.6,291.3 2398.6,291.7 2399.6,292.2 2400.6,292.7 2401.6,293.1 2402.6,293.6 2403.6,294 2404.6,294.5 2405.6,295 2406.6,295.4 2407.6,295.9 2408.6,296.3 2409.6,296.7 2410.6,297.2 2411.6,297.6 2412.6,298.1 2413.6,298.5 2414.7,298.9 2415.7,299.4 2416.7,299.8 2417.7,300.2 2418.7,300.7 2419.7,301.1 2420.7,301.5 2421.7,302 2422.7,302.4 2423.7,302.8 2424.7,303.3 2425.7,303.7 2426.7,304.1 2427.7,304.5 2428.7,305 2429.7,305.4 2430.7,305.8 2431.7,306.2 2432.7,306.6 2433.7,307 2434.7,307.3 2435.7,307.7 2436.7,308.1 2437.7,308.4 2438.7,308.8 2439.7,309.1 2440.7,309.5 2441.7,309.8 2442.7,310.1 2443.7,310.4 2444.7,310.7 2445.7,311 2446.7,311.3 2447.7,311.6 2448.7,311.9 2449.7,312.2 2450.7,312.5 2451.7,312.8 2452.7,313.1 2453.7,313.4 2454.7,313.6 2455.7,313.9 2456.7,314.2 2457.7,314.4 2458.7,314.7 2459.7,314.9 2460.7,315.2 2461.7,315.4 2462.7,315.7 2463.7,315.9 2464.7,316.1 2465.7,316.3 2466.7,316.5 2467.7,316.7 2468.7,316.8 2469.7,317 2470.7,317.2 2471.7,317.3 2472.7,317.5 2473.7,317.6 2474.7,317.7 2475.7,317.9 2476.7,318 2477.7,318.2 2478.7,318.3 2479.7,318.4 2480.7,318.5 2481.7,318.7 2482.7,318.8 2483.7,318.8 2484.7,318.9 2485.7,319 2486.7,319 2487.7,319.1 2488.7,319.1 2489.7,319.1 2490.7,319.1 2491.7,319.1 2492.7,319 2493.7,319 2494.7,319 2495.7,318.9 2496.7,318.8 2497.7,318.8 2498.7,318.7 2499.7,318.6 2500.7,318.5 2501.7,318.4 2502.7,318.3 2503.7,318.2 2504.7,318.1 2505.7,318 2506.7,317.9 2507.7,317.7 2508.7,317.6 2509.7,317.5 2510.7,317.4 2511.7,317.2 2512.7,317.1 2513.7,316.9 2514.7,316.8 2515.7,316.7 2516.7,316.5 2517.7,316.3 2518.8,316.1 2519.8,315.9 2520.8,315.7 2521.8,315.5 2522.8,315.2 2523.8,314.9 2524.8,314.7 2525.8,314.4 2526.8,314.1 2527.8,313.7 2528.8,313.4 2529.8,313.1 2530.8,312.7 2531.8,312.3 2532.8,312 2533.8,311.6 2534.8,311.2 2535.8,310.8 2536.8,310.4 2537.8,310 2538.8,309.6 2539.8,309.2 2540.8,308.8 2541.8,308.3 2542.8,307.9 2543.8,307.5 2544.8,307.1 2545.8,306.6 2546.8,306.2 2547.8,305.7 2548.8,305.2 2549.8,304.7 2550.8,304.2 2551.8,303.7 2552.8,303.1 2553.8,302.6 2554.8,302 2555.8,301.4 2556.8,300.8 2557.8,300.2 2558.8,299.6 2559.8,299 2560.8,298.4 2561.8,297.7 2562.8,297.1 2563.8,296.4 2564.8,295.8 2565.8,295.1 2566.8,294.4 2567.8,293.7 2568.8,293.1 2569.8,292.4 2570.8,291.7 2571.8,291 2572.8,290.3 2573.8,289.6 2574.8,288.9 2575.8,288.2 2576.8,287.5 2577.8,286.8 2578.8,286.1 2579.8,285.3 2580.8,284.6 2581.8,283.8 2582.8,283.1 2583.8,282.3 2584.8,281.5 2585.8,280.7 2586.8,279.9 2587.8,279.1 2588.8,278.3 2589.8,277.5 2590.8,276.6 2591.8,275.8 2592.8,275 2593.8,274.1 2594.8,273.3 2595.8,272.4 2596.8,271.6 2597.8,270.7 2598.8,269.9 2599.8,269 2600.8,268.2 2601.8,267.3 2602.8,266.4 2603.8,265.5 2604.8,264.7 2605.8,263.8 2606.8,262.9 2607.8,262 2608.8,261.1 2609.8,260.2 2610.8,259.2 2611.8,258.3 2612.8,257.4 2613.8,256.4 2614.8,255.5 2615.8,254.6 2616.8,253.6 2617.8,252.6 2618.8,251.7 2619.8,250.7 2620.8,249.8 2621.8,248.8 2622.9,247.8 2623.9,246.8 2624.9,245.9 2625.9,244.9 2626.9,243.9 2627.9,242.9 2628.9,242 2629.9,241 2630.9,240 2631.9,239 2632.9,238 2633.9,237.1 2634.9,236.1 2635.9,235.1 2636.9,234.1 2637.9,233.1 2638.9,232 2639.9,231 2640.9,230 2641.9,229 2642.9,227.9 2643.9,226.9 2644.9,225.9 2645.9,224.8 2646.9,223.8 2647.9,222.8 2648.9,221.8 2649.9,220.7 2650.9,219.7 2651.9,218.7 2652.9,217.7 2653.9,216.7 2654.9,215.7 2655.9,214.7 2656.9,213.7 2657.9,212.7 2658.9,211.8 2659.9,210.8 2660.9,209.9 2661.9,208.9 2662.9,208 2663.9,207.1 2664.9,206.3 2665.9,205.4 2666.9,204.6 2667.9,203.7 2668.9,202.8 2669.9,201.9 2670.9,201 2671.9,200 2672.9,199.1 2673.9,198.1 2674.9,197.1 2675.9,196.2 2676.9,195.2 2677.9,194.2 2678.9,193.2 2679.9,192.2 2680.9,191.1 2681.9,190.1 2682.9,189.1 2683.9,188.1 2684.9,187.1 2685.9,186 2686.9,185 2687.9,184 2688.9,182.9 2689.9,181.9 2690.9,180.9 2691.9,179.9 2692.9,178.9 2693.9,177.8 2694.9,176.8 2695.9,175.8 2696.9,174.8 2697.9,173.9 2698.9,172.9 2699.9,171.9 2700.9,170.9 2701.9,169.9 2702.9,169 2703.9,168 2704.9,167 2705.9,166 2706.9,165 2707.9,164.1 2708.9,163.1 2709.9,162.1 2710.9,161.1 2711.9,160.2 2712.9,159.2 2713.9,158.2 2714.9,157.3 2715.9,156.3 2716.9,155.4 2717.9,154.4 2718.9,153.5 2719.9,152.5 2720.9,151.6 2721.9,150.7 2722.9,149.8 2723.9,148.8 2724.9,147.9 2726,147 2727,146.2 2728,145.3 2729,144.4 2730,143.5 2731,142.7 2732,141.8 2733,140.9 2734,140.1 2735,139.2 2736,138.4 2737,137.5 2738,136.7 2739,135.8 2740,135 2741,134.2 2742,133.4 2743,132.5 2744,131.7 2745,130.9 2746,130.1 2747,129.3 2748,128.5 2749,127.8 2750,127 2751,126.2 2752,125.5 2753,124.8 2754,124 2755,123.3 2756,122.6 2757,121.9 2758,121.2 2759,120.5 2760,119.8 2761,119.2 2762,118.5 2763,117.8 2764,117.1 2765,116.4 2766,115.8 2767,115.1 2768,114.5 2769,113.8 2770,113.2 2771,112.5 2772,111.9 2773,111.3 2774,110.7 2775,110.1 2776,109.5 2777,108.9 2778,108.3 2779,107.8 2780,107.2 2781,106.7 2782,106.2 2783,105.7 2784,105.2 2785,104.8 2786,104.3 2787,103.9 2788,103.5 2789,103.1 2790,102.6 2791,102.2 2792,101.8 2793,101.4 2794,101 2795,100.6 2796,100.3 2797,99.9 2798,99.5 2799,99.1 2800,98.8 2801,98.4 2802,98.1 2803,97.7 2804,97.4 2805,97.1 2806,96.8 2807,96.5 2808,96.2 2809,96 2810,95.7 2811,95.5 2812,95.3 2813,95.1 2814,94.9 2815,94.7 2816,94.5 2817,94.4 2818,94.2 2819,94.1 2820,93.9 2821,93.8 2822,93.6 2823,93.5 2824,93.4 2825,93.3 2826,93.2 2827,93 2828,93 2829,92.9 2830.1,92.8 2831.1,92.8 2832.1,92.7 2833.1,92.7 2834.1,92.7 2835.1,92.7 2836.1,92.7 2837.1,92.8 2838.1,92.8 2839.1,92.8 2840.1,92.9 2841.1,92.9 2842.1,93 2843.1,93.1 2844.1,93.2 2845.1,93.2 2846.1,93.3 2847.1,93.4 2848.1,93.5 2849.1,93.7 2850.1,93.8 2851.1,93.9 2852.1,94 2853.1,94.1 2854.1,94.3 2855.1,94.4 2856.1,94.5 2857.1,94.7 2858.1,94.8 2859.1,95 2860.1,95.1 2861.1,95.3 2862.1,95.4 2863.1,95.7 2864.1,95.9 2865.1,96.2 2866.1,96.4 2867.1,96.8 2868.1,97.1 2869.1,97.4 2870.1,97.8 2871.1,98.2 2872.1,98.6 2873.1,99 2874.1,99.4 2875.1,99.8 2876.1,100.3 2877.1,100.7 2878.1,101.1 2879.1,101.6 2880.1,102.1 2881.1,102.5 2882.1,103 2883.1,103.4 2884.1,103.9 2885.1,104.4 2886.1,104.8 2887.1,105.3 2888.1,105.7 2889.1,106.1 2890.1,106.5 2891.1,107 2892.1,107.4 2893.1,107.8 2894.1,108.3 2895.1,108.7 2896.1,109.1 2897.1,109.6 2898.1,110 2899.1,110.5 2900.1,110.9 2901.1,111.4 2902.1,111.9 2903.1,112.3 2904.1,112.8 2905.1,113.3 2906.1,113.8 2907.1,114.2 2908.1,114.7 2909.1,115.2 2910.1,115.7 2911.1,116.2 2912.1,116.7 2913.1,117.2 2914.1,117.7 2915.1,118.2 2916.1,118.7 2917.1,119.2 2918.1,119.7 2919.1,120.2 2920.1,120.7 2921.1,121.3 2922.1,121.8 2923.1,122.3 2924.1,122.9 2925.1,123.4 2926.1,124 2927.1,124.5 2928.1,125 2929.1,125.6 2930.1,126.2 2931.1,126.7 2932.1,127.3 2933.1,127.9 2934.2,128.4 2935.2,129 2936.2,129.6 2937.2,130.2 2938.2,130.8 2939.2,131.4 2940.2,131.9 2941.2,132.5 2942.2,133.1 2943.2,133.8 2944.2,134.4 2945.2,135 2946.2,135.6 2947.2,136.2 2948.2,136.8 2949.2,137.5 2950.2,138.1 2951.2,138.7 2952.2,139.4 2953.2,140.1 2954.2,140.7 2955.2,141.4 2956.2,142.1 2957.2,142.8 2958.2,143.4 2959.2,144.1 2960.2,144.8 2961.2,145.5 2962.2,146.2 2963.2,146.9 2964.2,147.6 2965.2,148.3 2966.2,149 2967.2,149.7 2968.2,150.5 2969.2,151.2 2970.2,151.8 2971.2,152.5 2972.2,153.2 2973.2,153.9 2974.2,154.6 2975.2,155.3 2976.2,156 2977.2,156.6 2978.2,157.3 2979.2,158 2980.2,158.6 2981.2,159.3 2982.2,159.9 2983.2,160.6 2984.2,161.3 2985.2,161.9 2986.2,162.6 2987.2,163.2 2988.2,163.9 2989.2,164.6 2990.2,165.2 2991.2,165.9 2992.2,166.5 2993.2,167.2 2994.2,167.8 2995.2,168.5 2996.2,169.1 2997.2,169.7 2998.2,170.4 2999.2,171 3000.2,171.7 3001.2,172.3 3002.2,172.9 3003.2,173.6 3004.2,174.2 3005.2,174.8 3006.2,175.5 3007.2,176.1 3008.2,176.7 3009.2,177.3 3010.2,178 3011.2,178.6 3012.2,179.2 3013.2,179.9 3014.2,180.5 3015.2,181.1 3016.2,181.7 3017.2,182.4 3018.2,183 3019.2,183.6 3020.2,184.2 3021.2,184.8 3022.2,185.5 3023.2,186.1 3024.2,186.7 3025.2,187.3 3026.2,187.9 3027.2,188.4 3028.2,189 3029.2,189.6 3030.2,190.2 3031.2,190.7 3032.2,191.3 3033.2,191.8 3034.2,192.3 3035.2,192.9 3036.2,193.4 3037.2,193.9 3038.3,194.4 3039.3,194.9 3040.3,195.4 3041.3,195.9 3042.3,196.4 3043.3,196.9 3044.3,197.3 3045.3,197.8 3046.3,198.3 3047.3,198.7 3048.3,199.2 3049.3,199.7 3050.3,200.1 3051.3,200.6 3052.3,201 3053.3,201.5 3054.3,201.9 3055.3,202.3 3056.3,202.7 3057.3,203.2 3058.3,203.6 3059.3,204 3060.3,204.4 3061.3,204.8 3062.3,205.2 3063.3,205.6 3064.3,206 3065.3,206.4 3066.3,206.8 3067.3,207.2 3068.3,207.6 3069.3,208 3070.3,208.4 3071.3,208.8 3072.3,209.2 3073.3,209.6 3074.3,210 3075.3,210.4 3076.3,210.8 3077.3,211.1 3078.3,211.5 3079.3,211.9 3080.3,212.2 3081.3,212.6 3082.3,213 3083.3,213.3 3084.3,213.6 3085.3,214 3086.3,214.3 3087.3,214.6 3088.3,214.9 3089.3,215.2 3090.3,215.5 3091.3,215.7 3092.3,216 3093.3,216.2 3094.3,216.5 3095.3,216.7 3096.3,216.9 3097.3,217.1 3098.3,217.4 3099.3,217.6 3100.3,217.8 3101.3,218 3102.3,218.2 3103.3,218.4 3104.3,218.6 3105.3,218.8 3106.3,219 3107.3,219.2 3108.3,219.4 3109.3,219.5 3110.3,219.7 3111.3,219.9 3112.3,220 3113.3,220.2 3114.3,220.3 3115.3,220.5 3116.3,220.6 3117.3,220.8 3118.3,220.9 3119.3,221 3120.3,221.1 3121.3,221.2 3122.3,221.3 3123.3,221.4 3124.3,221.5 3125.3,221.6 3126.3,221.7 3127.3,221.8 3128.3,221.9 3129.3,222 3130.3,222 3131.3,222.1 3132.3,222.2 3133.3,222.3 3134.3,222.4 3135.3,222.4 3136.3,222.5 3137.3,222.6 3138.3,222.7 3139.3,222.7 3140.3,222.8 3141.3,222.9 3142.4,222.9 3143.4,223 3144.4,223 3145.4,223.1 3146.4,223.1 3147.4,223.1 3148.4,223.1 3149.4,223.2 3150.4,223.2 3151.4,223.2 3152.4,223.2 3153.4,223.2 3154.4,223.2 3155.4,223.2 3156.4,223.2 3157.4,223.2 3158.4,223.2 3159.4,223.2 3160.4,223.2 3161.4,223.2 3162.4,223.2 3163.4,223.2 3164.4,223.2 3165.4,223.2 3166.4,223.2 3167.4,223.2 3168.4,223.2 3169.4,223.2 3170.4,223.2 3171.4,223.2 3172.4,223.2 3173.4,223.2 3174.4,223.2 3175.4,223.1 3176.4,223.1 3177.4,223.1 3178.4,223.1 3179.4,223.1 3180.4,223.1 3181.4,223.1 3182.4,223.1 3183.4,223.1 3184.4,223.1 3185.4,223 3186.4,223 3187.4,223 3188.4,223 3189.4,223 3190.4,223 3191.4,222.9 3192.4,222.9 3193.4,222.9" fill="none" stroke="#D95319" stroke-width="4.25" stroke-linejoin="round" stroke-linecap="round"/>
<polyline points="2154.4,81.9 2156.5,82.1 2158.6,82.3 2160.6,82.5 2162.7,82.7 2164.8,82.9 2166.9,83.1 2169,83.4 2171.1,83.6 2173.1,83.8 2175.2,84 2177.3,84.2 2179.4,84.5 2181.5,84.7 2183.6,84.9 2185.6,85.1 2187.7,85.4 2189.8,85.6 2191.9,85.9 2194,86.1 2196,86.3 2198.1,86.6 2200.2,86.8 2202.3,87.1 2204.4,87.3 2206.5,87.6 2208.5,87.8 2210.6,88.1 2212.7,88.3 2214.8,88.6 2216.9,88.8 2218.9,89.1 2221,89.3 2223.1,89.6 2225.2,89.9 2227.3,90.1 2229.4,90.4 2231.4,90.7 2233.5,91 2235.6,91.3 2237.7,91.6 2239.8,91.9 2241.9,92.2 2243.9,92.5 2246,92.8 2248.1,93.2 2250.2,93.5 2252.3,93.8 2254.3,94.2 2256.4,94.5 2258.5,94.9 2260.6,95.3 2262.7,95.7 2264.8,96.1 2266.8,96.5 2268.9,96.9 2271,97.3 2273.1,97.8 2275.2,98.3 2277.2,98.8 2279.3,99.3 2281.4,99.8 2283.5,100.4 2285.6,100.9 2287.7,101.5 2289.7,102 2291.8,102.6 2293.9,103.2 2296,103.8 2298.1,104.5 2300.2,105.1 2302.2,105.7 2304.3,106.4 2306.4,107.1 2308.5,107.8 2310.6,108.5 2312.6,109.2 2314.7,110 2316.8,110.7 2318.9,111.5 2321,112.3 2323.1,113.1 2325.1,114 2327.2,114.9 2329.3,115.8 2331.4,116.7 2333.5,117.7 2335.5,118.7 2337.6,119.8 2339.7,120.8 2341.8,121.9 2343.9,123 2346,124.1 2348,125.2 2350.1,126.3 2352.2,127.4 2354.3,128.5 2356.4,129.6 2358.5,130.7 2360.5,131.8 2362.6,132.9 2364.7,134 2366.8,135.1 2368.9,136.2 2370.9,137.4 2373,138.5 2375.1,139.7 2377.2,140.9 2379.3,142.1 2381.4,143.3 2383.4,144.5 2385.5,145.8 2387.6,147 2389.7,148.3 2391.8,149.5 2393.8,150.8 2395.9,152.1 2398,153.4 2400.1,154.8 2402.2,156.1 2404.3,157.5 2406.3,158.9 2408.4,160.4 2410.5,161.8 2412.6,163.4 2414.7,164.9 2416.8,166.5 2418.8,168.1 2420.9,169.8 2423,171.5 2425.1,173.3 2427.2,175 2429.2,176.8 2431.3,178.7 2433.4,180.5 2435.5,182.4 2437.6,184.3 2439.7,186.2 2441.7,188.1 2443.8,190 2445.9,192 2448,194 2450.1,196 2452.1,198.1 2454.2,200.1 2456.3,202.2 2458.4,204.3 2460.5,206.5 2462.6,208.6 2464.6,210.7 2466.7,212.9 2468.8,215 2470.9,217.2 2473,219.3 2475.1,221.5 2477.1,223.6 2479.2,225.8 2481.3,228 2483.4,230.1 2485.5,232.3 2487.5,234.5 2489.6,236.7 2491.7,238.9 2493.8,241.1 2495.9,243.3 2498,245.5 2500,247.7 2502.1,249.9 2504.2,252.1 2506.3,254.3 2508.4,256.5 2510.5,258.7 2512.5,260.9 2514.6,263.1 2516.7,265.3 2518.8,267.5 2520.9,269.7 2522.9,271.9 2525,274.1 2527.1,276.2 2529.2,278.4 2531.3,280.5 2533.4,282.6 2535.4,284.8 2537.5,287 2539.6,289.1 2541.7,291.3 2543.8,293.4 2545.8,295.5 2547.9,297.6 2550,299.7 2552.1,301.7 2554.2,303.7 2556.3,305.6 2558.3,307.6 2560.4,309.4 2562.5,311.3 2564.6,313.1 2566.7,315 2568.8,316.8 2570.8,318.6 2572.9,320.3 2575,322.1 2577.1,323.7 2579.2,325.4 2581.2,326.9 2583.3,328.4 2585.4,329.9 2587.5,331.2 2589.6,332.5 2591.7,333.7 2593.7,335 2595.8,336.2 2597.9,337.3 2600,338.5 2602.1,339.6 2604.1,340.7 2606.2,341.7 2608.3,342.6 2610.4,343.5 2612.5,344.3 2614.6,345 2616.6,345.7 2618.7,346.2 2620.8,346.8 2622.9,347.3 2625,347.9 2627.1,348.4 2629.1,348.8 2631.2,349.2 2633.3,349.6 2635.4,349.8 2637.5,350.1 2639.5,350.2 2641.6,350.2 2643.7,350.3 2645.8,350.4 2647.9,350.4 2650,350.4 2652,350.5 2654.1,350.5 2656.2,350.5 2658.3,350.5 2660.4,350.5 2662.4,350.4 2664.5,350.3 2666.6,350.2 2668.7,350.1 2670.8,349.9 2672.9,349.7 2674.9,349.5 2677,349.3 2679.1,349.1 2681.2,348.8 2683.3,348.4 2685.4,347.8 2687.4,347.1 2689.5,346.3 2691.6,345.5 2693.7,344.6 2695.8,343.7 2697.8,342.8 2699.9,341.9 2702,341 2704.1,340.1 2706.2,339.2 2708.3,338.2 2710.3,337.2 2712.4,336.2 2714.5,335.2 2716.6,334.1 2718.7,333 2720.7,331.9 2722.8,330.7 2724.9,329.6 2727,328.4 2729.1,327.2 2731.2,325.9 2733.2,324.6 2735.3,323.3 2737.4,321.9 2739.5,320.5 2741.6,319 2743.7,317.6 2745.7,316.1 2747.8,314.6 2749.9,313 2752,311.5 2754.1,309.9 2756.1,308.3 2758.2,306.7 2760.3,305.1 2762.4,303.4 2764.5,301.8 2766.6,300.1 2768.6,298.3 2770.7,296.6 2772.8,294.8 2774.9,293 2777,291.2 2779,289.4 2781.1,287.5 2783.2,285.7 2785.3,283.8 2787.4,281.9 2789.5,279.9 2791.5,278 2793.6,276 2795.7,274 2797.8,271.9 2799.9,269.9 2802,267.8 2804,265.7 2806.1,263.6 2808.2,261.4 2810.3,259.3 2812.4,257.1 2814.4,254.9 2816.5,252.6 2818.6,250.4 2820.7,248.1 2822.8,245.8 2824.9,243.4 2826.9,241 2829,238.6 2831.1,236.1 2833.2,233.7 2835.3,231.2 2837.3,228.8 2839.4,226.3 2841.5,223.9 2843.6,221.5 2845.7,219.1 2847.8,216.7 2849.8,214.3 2851.9,211.9 2854,209.5 2856.1,207 2858.2,204.6 2860.3,202.2 2862.3,199.8 2864.4,197.4 2866.5,195 2868.6,192.6 2870.7,190.3 2872.7,187.9 2874.8,185.6 2876.9,183.2 2879,180.8 2881.1,178.5 2883.2,176.1 2885.2,173.7 2887.3,171.4 2889.4,169 2891.5,166.7 2893.6,164.4 2895.7,162.2 2897.7,159.9 2899.8,157.7 2901.9,155.6 2904,153.5 2906.1,151.5 2908.1,149.5 2910.2,147.5 2912.3,145.5 2914.4,143.5 2916.5,141.6 2918.6,139.7 2920.6,137.8 2922.7,136 2924.8,134.2 2926.9,132.4 2929,130.7 2931,129 2933.1,127.4 2935.2,125.7 2937.3,124.1 2939.4,122.5 2941.5,121 2943.5,119.5 2945.6,118 2947.7,116.5 2949.8,115 2951.9,113.6 2954,112.2 2956,110.8 2958.1,109.5 2960.2,108.2 2962.3,106.9 2964.4,105.6 2966.4,104.3 2968.5,103.1 2970.6,101.8 2972.7,100.6 2974.8,99.4 2976.9,98.2 2978.9,97 2981,95.9 2983.1,94.8 2985.2,93.7 2987.3,92.7 2989.3,91.7 2991.4,90.8 2993.5,89.9 2995.6,89 2997.7,88.1 2999.8,87.2 3001.8,86.4 3003.9,85.5 3006,84.7 3008.1,84 3010.2,83.2 3012.3,82.5 3014.3,81.8 3016.4,81.2 3018.5,80.6 3020.6,80 3022.7,79.4 3024.7,78.9 3026.8,78.4 3028.9,77.8 3031,77.3 3033.1,76.8 3035.2,76.4 3037.2,75.9 3039.3,75.5 3041.4,75.1 3043.5,74.8 3045.6,74.5 3047.6,74.2 3049.7,74 3051.8,73.9 3053.9,73.7 3056,73.6 3058.1,73.4 3060.1,73.3 3062.2,73.2 3064.3,73 3066.4,72.9 3068.5,72.8 3070.6,72.8 3072.6,72.7 3074.7,72.6 3076.8,72.6 3078.9,72.6 3081,72.6 3083,72.6 3085.1,72.7 3087.2,72.8 3089.3,72.8 3091.4,72.9 3093.5,73.1 3095.5,73.2 3097.6,73.3 3099.7,73.4 3101.8,73.6 3103.9,73.7 3105.9,73.8 3108,74 3110.1,74.1 3112.2,74.2 3114.3,74.3 3116.4,74.5 3118.4,74.6 3120.5,74.8 3122.6,74.9 3124.7,75.1 3126.8,75.2 3128.9,75.4 3130.9,75.5 3133,75.7 3135.1,75.9 3137.2,76 3139.3,76.2 3141.3,76.4 3143.4,76.6 3145.5,76.8 3147.6,77 3149.7,77.2 3151.8,77.4 3153.8,77.6 3155.9,77.8 3158,78 3160.1,78.3 3162.2,78.5 3164.2,78.7 3166.3,78.9 3168.4,79.1 3170.5,79.4 3172.6,79.6 3174.7,79.8 3176.7,80 3178.8,80.3 3180.9,80.5 3183,80.7 3185.1,81 3187.2,81.2 3189.2,81.4 3191.3,81.7 3193.4,81.9" fill="none" stroke="#0072BD" stroke-width="4.25" stroke-linejoin="round" stroke-linecap="round"/>
<text x="2666" y="49" font-size="58.4" fill="#000000" text-anchor="middle" font-weight="normal">F3</text>
<text x="2676.5" y="488.7" font-size="58.4" fill="#262626" text-anchor="middle" font-weight="normal"><tspan font-style="italic">t</tspan> (s)</text>
<text x="3395.6" y="211.5" font-size="58.4" fill="#D95319" text-anchor="middle" font-weight="normal" transform="rotate(-90 3395.6 211.5)"><tspan font-style="italic">v</tspan> (mm/s)</text>
<text x="2177" y="136.9" font-size="83.3" font-weight="bold" fill="#000000">b</text>
<text x="414.2" y="228.5" font-size="58.4" fill="#0072BD" text-anchor="middle" font-weight="normal" transform="rotate(-90 414.2 228.5)">Z-axis (mm)</text>
<line x1="588.7" y1="566" x2="1632.3" y2="566" stroke="#262626" stroke-width="4.25" stroke-linecap="square"/>
<line x1="588.7" y1="845.4" x2="1632.3" y2="845.4" stroke="#262626" stroke-width="4.25" stroke-linecap="square"/>
<line x1="588.7" y1="566" x2="588.7" y2="845.4" stroke="#262626" stroke-width="4.25" stroke-linecap="square"/>
<line x1="1632.3" y1="566" x2="1632.3" y2="845.4" stroke="#262626" stroke-width="4.25" stroke-linecap="square"/>
<line x1="797.4" y1="845.4" x2="797.4" y2="832.7" stroke="#262626" stroke-width="4.25" stroke-linecap="butt"/>
<line x1="797.4" y1="566" x2="797.4" y2="578.7" stroke="#262626" stroke-width="4.25" stroke-linecap="butt"/>
<text x="799.1" y="912.6" font-size="58.4" fill="#262626" text-anchor="middle" font-weight="normal">500</text>
<line x1="1006.1" y1="845.4" x2="1006.1" y2="832.7" stroke="#262626" stroke-width="4.25" stroke-linecap="butt"/>
<line x1="1006.1" y1="566" x2="1006.1" y2="578.7" stroke="#262626" stroke-width="4.25" stroke-linecap="butt"/>
<text x="1007.8" y="912.6" font-size="58.4" fill="#262626" text-anchor="middle" font-weight="normal">1000</text>
<line x1="1214.9" y1="845.4" x2="1214.9" y2="832.7" stroke="#262626" stroke-width="4.25" stroke-linecap="butt"/>
<line x1="1214.9" y1="566" x2="1214.9" y2="578.7" stroke="#262626" stroke-width="4.25" stroke-linecap="butt"/>
<text x="1216.6" y="912.6" font-size="58.4" fill="#262626" text-anchor="middle" font-weight="normal">1500</text>
<line x1="1423.6" y1="845.4" x2="1423.6" y2="832.7" stroke="#262626" stroke-width="4.25" stroke-linecap="butt"/>
<line x1="1423.6" y1="566" x2="1423.6" y2="578.7" stroke="#262626" stroke-width="4.25" stroke-linecap="butt"/>
<text x="1425.3" y="912.6" font-size="58.4" fill="#262626" text-anchor="middle" font-weight="normal">2000</text>
<text x="1634" y="912.6" font-size="58.4" fill="#262626" text-anchor="middle" font-weight="normal">2500</text>
<text x="564.7" y="865.4" font-size="58.4" fill="#262626" text-anchor="end" font-weight="normal">0</text>
<line x1="588.7" y1="752.3" x2="601.4" y2="752.3" stroke="#262626" stroke-width="4.25" stroke-linecap="butt"/>
<line x1="1632.3" y1="752.3" x2="1619.6" y2="752.3" stroke="#262626" stroke-width="4.25" stroke-linecap="butt"/>
<text x="564.7" y="772.3" font-size="58.4" fill="#262626" text-anchor="end" font-weight="normal">50</text>
<line x1="588.7" y1="659.1" x2="601.4" y2="659.1" stroke="#262626" stroke-width="4.25" stroke-linecap="butt"/>
<line x1="1632.3" y1="659.1" x2="1619.6" y2="659.1" stroke="#262626" stroke-width="4.25" stroke-linecap="butt"/>
<text x="564.7" y="679.1" font-size="58.4" fill="#262626" text-anchor="end" font-weight="normal">100</text>
<text x="564.7" y="586" font-size="58.4" fill="#262626" text-anchor="end" font-weight="normal">150</text>
<text x="1103" y="990.5" font-size="58.4" fill="#262626" text-anchor="middle" font-weight="normal">Acc frequency (Hz)</text>
<text x="439.3" y="840.5" font-size="58.4" fill="#262626" text-anchor="start" font-weight="normal" transform="rotate(-90 439.3 840.5)">PSD<tspan font-size="32.2" dy="-18">1/2</tspan><tspan dy="18" dx="5.0"> (μg)</tspan></text>
<text x="611.2" y="630.5" font-size="83.3" font-weight="bold" fill="#000000">c</text>
<polyline points="588.7,833.7 589.1,832.7 589.5,831.4 590,827.9 590.4,831.4 590.8,837.7 591.2,839.3 591.6,838.1 592,839.2 592.5,835.5 592.9,839.7 593.3,835.8 593.7,838.2 594.1,838.1 594.5,839.8 595,838.1 595.4,840.6 595.8,839.3 596.2,837.9 596.6,841.5 597,839.2 597.5,841.7 597.9,840.4 598.3,839.4 598.7,841.2 599.1,837.7 599.6,838.7 600,837.7 600.4,838.6 600.8,840.9 601.2,837.6 601.6,841.5 602.1,842 602.5,841.7 602.9,841.4 603.3,838.7 603.7,839.2 604.1,841.1 604.6,840.3 605,841.1 605.4,840.4 605.8,840.7 606.2,839.9 606.6,839.6 607.1,840.9 607.5,840.2 607.9,840.6 608.3,839.6 608.7,838 609.2,837.6 609.6,838.6 610,840.7 610.4,841.5 610.8,838 611.2,839.7 611.7,838.3 612.1,838.6 612.5,840.3 612.9,838.5 613.3,841.3 613.7,840.7 614.2,841 614.6,839.2 615,840 615.4,836.5 615.8,840 616.3,839.7 616.7,839.9 617.1,838.2 617.5,837.2 617.9,837.7 618.3,838.5 618.8,836.8 619.2,840.5 619.6,837.9 620,838.3 620.4,841.3 620.8,841.4 621.3,842 621.7,841.9 622.1,837.5 622.5,839.9 622.9,840.9 623.3,841.4 623.8,840.2 624.2,840.6 624.6,839.7 625,840.7 625.4,840.4 625.9,841.3 626.3,839 626.7,839.1 627.1,838.7 627.5,836.8 627.9,837.7 628.4,840.8 628.8,841 629.2,839.3 629.6,839.4 630,837 630.4,839.9 630.9,837.9 631.3,838 631.7,838.5 632.1,840.2 632.5,840.3 632.9,838.8 633.4,838.1 633.8,841.4 634.2,840.7 634.6,840 635,841 635.5,842.2 635.9,842.4 636.3,840.8 636.7,840.1 637.1,838.1 637.5,841.2 638,839 638.4,841.1 638.8,838.4 639.2,837.4 639.6,837.8 640,838.8 640.5,837.4 640.9,837.5 641.3,838.8 641.7,838.1 642.1,839.8 642.5,837.6 643,839 643.4,839.4 643.8,839.1 644.2,841.2 644.6,839.7 645.1,841.4 645.5,838.6 645.9,842.4 646.3,840.7 646.7,840 647.1,839.2 647.6,841.4 648,842.5 648.4,838.3 648.8,842.5 649.2,841.1 649.6,839 650.1,842 650.5,841.9 650.9,839.2 651.3,839.6 651.7,842 652.2,842 652.6,841.4 653,842.6 653.4,841.1 653.8,840 654.2,838.8 654.7,841.6 655.1,839.2 655.5,843.1 655.9,839.2 656.3,843.3 656.7,839.7 657.2,840.3 657.6,842.7 658,842.7 658.4,838.8 658.8,841.1 659.2,839.8 659.7,842.7 660.1,840.4 660.5,840.2 660.9,842 661.3,840.1 661.8,839 662.2,840.7 662.6,837.5 663,838.1 663.4,838 663.8,841.2 664.3,838.9 664.7,839 665.1,838.4 665.5,836.7 665.9,839.7 666.3,840.1 666.8,839.9 667.2,841.3 667.6,838.4 668,841.1 668.4,838.3 668.8,840 669.3,836.4 669.7,836.9 670.1,836.9 670.5,841.1 670.9,838.4 671.4,838.6 671.8,838.8 672.2,837.5 672.6,839.1 673,836.6 673.4,839.2 673.9,839.9 674.3,840.8 674.7,839 675.1,841.2 675.5,837.6 675.9,839.7 676.4,839.9 676.8,839 677.2,839.7 677.6,842.5 678,839.9 678.4,838.9 678.9,841.9 679.3,838.5 679.7,840.9 680.1,837.5 680.5,841.6 681,842.2 681.4,841.2 681.8,839.6 682.2,842 682.6,841.3 683,840.4 683.5,838.8 683.9,838.8 684.3,838.1 684.7,839.5 685.1,840.5 685.5,841.3 686,841.4 686.4,842.8 686.8,839.1 687.2,842.3 687.6,840.2 688.1,841.4 688.5,839.2 688.9,840.4 689.3,838.4 689.7,838.7 690.1,839.7 690.6,838.7 691,840.6 691.4,840.8 691.8,841.3 692.2,840.8 692.6,837.7 693.1,840.2 693.5,842.2 693.9,840.7 694.3,837.4 694.7,839.8 695.1,838.9 695.6,840.6 696,840.3 696.4,837.2 696.8,840.9 697.2,837.8 697.7,836.1 698.1,838.4 698.5,840.1 698.9,838.4 699.3,841.7 699.7,842 700.2,840.1 700.6,841.8 701,840.1 701.4,843.2 701.8,842.5 702.2,843.2 702.7,839.9 703.1,839.7 703.5,840.2 703.9,839.8 704.3,839.1 704.7,842.9 705.2,838.3 705.6,842.6 706,840 706.4,839.1 706.8,839.8 707.3,840 707.7,842 708.1,841.6 708.5,839 708.9,837.7 709.3,837 709.8,837.2 710.2,837.1 710.6,840.3 711,841.4 711.4,840.3 711.8,840 712.3,841.4 712.7,827.3 713.1,815.6 713.5,827.3 713.9,840.7 714.3,842.5 714.8,839.1 715.2,841.8 715.6,841.2 716,839.5 716.4,838.8 716.9,842.1 717.3,842.4 717.7,839.3 718.1,842.6 718.5,840.7 718.9,840.6 719.4,840.4 719.8,838.6 720.2,839.5 720.6,841.9 721,838.1 721.4,839.2 721.9,839.3 722.3,837.4 722.7,839.5 723.1,839.8 723.5,836.6 724,837.5 724.4,835.5 724.8,831.5 725.2,834.2 725.6,828.8 726,831.2 726.5,829.1 726.9,830.6 727.3,827.5 727.7,829.2 728.1,829.4 728.5,831.4 729,833.6 729.4,833.7 729.8,833.2 730.2,834.8 730.6,835.7 731,836.8 731.5,840.7 731.9,839.1 732.3,842.2 732.7,838.6 733.1,841.6 733.6,838.3 734,839.1 734.4,842.3 734.8,838.9 735.2,840.7 735.6,838.4 736.1,838.6 736.5,840.8 736.9,841.3 737.3,840.5 737.7,840.7 738.1,840.2 738.6,838.8 739,838.7 739.4,836.7 739.8,838.1 740.2,841.2 740.6,837.6 741.1,839.9 741.5,838 741.9,840 742.3,840.8 742.7,838.8 743.2,840.9 743.6,841.9 744,838 744.4,841 744.8,836.9 745.2,840.9 745.7,841.2 746.1,836.9 746.5,836.7 746.9,839.6 747.3,837.1 747.7,840.7 748.2,839.2 748.6,837.6 749,841.1 749.4,841.7 749.8,837.9 750.2,838.2 750.7,840.7 751.1,841.8 751.5,840.8 751.9,839 752.3,840.4 752.8,838.8 753.2,837.3 753.6,839.8 754,837.3 754.4,838.1 754.8,839.2 755.3,841 755.7,838.8 756.1,838.4 756.5,842 756.9,839.5 757.3,840.7 757.8,839.1 758.2,842.5 758.6,839.2 759,838.6 759.4,841.2 759.9,841.9 760.3,840.5 760.7,837.8 761.1,838.5 761.5,837.5 761.9,841.2 762.4,840.2 762.8,837.5 763.2,841.8 763.6,840.8 764,838.9 764.4,841.2 764.9,838.3 765.3,837.6 765.7,841.5 766.1,840.2 766.5,837.7 766.9,835.7 767.4,836.9 767.8,836.1 768.2,836.5 768.6,833.5 769,833.9 769.5,838.7 769.9,838.1 770.3,840.2 770.7,840.4 771.1,840.5 771.5,839.4 772,842.3 772.4,838.3 772.8,839.2 773.2,842.9 773.6,843.1 774,839.8 774.5,840.2 774.9,840.7 775.3,839.8 775.7,839.3 776.1,839.3 776.5,838.1 777,840.6 777.4,840.6 777.8,841.5 778.2,842.5 778.6,838.3 779.1,841.3 779.5,840.9 779.9,839.4 780.3,841.6 780.7,841.4 781.1,839.9 781.6,839.3 782,839.2 782.4,840.7 782.8,839.9 783.2,842.8 783.6,839 784.1,841.8 784.5,843.2 784.9,841.8 785.3,842.6 785.7,842.2 786.1,838.4 786.6,839.3 787,840.5 787.4,839.2 787.8,839.3 788.2,840.7 788.7,839.3 789.1,840.2 789.5,841.3 789.9,836.4 790.3,838.2 790.7,839.5 791.2,837.5 791.6,836.6 792,838.5 792.4,837.4 792.8,839.1 793.2,838.1 793.7,837.2 794.1,835 794.5,834.6 794.9,837.8 795.3,837.7 795.8,838.9 796.2,838.7 796.6,835.4 797,833.7 797.4,835.3 797.8,834.4 798.3,835.1 798.7,836.4 799.1,832.2 799.5,832.2 799.9,835.3 800.3,835.9 800.8,834.1 801.2,836.1 801.6,833.8 802,836.9 802.4,837.2 802.8,837.6 803.3,838.4 803.7,836.6 804.1,834.9 804.5,837.8 804.9,839.4 805.4,839.3 805.8,837.1 806.2,838.9 806.6,839.5 807,839.7 807.4,839.5 807.9,840.3 808.3,836.3 808.7,841.1 809.1,837.1 809.5,838.2 809.9,841.3 810.4,839.5 810.8,841 811.2,841 811.6,841.4 812,839.6 812.4,842.6 812.9,839.8 813.3,842.5 813.7,840.9 814.1,838.5 814.5,840.7 815,843 815.4,841.6 815.8,840.3 816.2,842.4 816.6,839.8 817,839.4 817.5,839 817.9,839.2 818.3,842.5 818.7,840.6 819.1,839.1 819.5,838 820,840.7 820.4,836.7 820.8,838.2 821.2,836.6 821.6,839.1 822,837.3 822.5,838.6 822.9,839.7 823.3,839.3 823.7,841.6 824.1,840.9 824.6,839 825,842.7 825.4,840.9 825.8,843.2 826.2,841.8 826.6,838.9 827.1,838.5 827.5,839.8 827.9,841.9 828.3,834.8 828.7,827.9 829.1,834.8 829.6,839.4 830,838.3 830.4,840.9 830.8,838.9 831.2,842.8 831.7,843 832.1,840 832.5,840.4 832.9,839.2 833.3,840.2 833.7,842.2 834.2,838.8 834.6,839.1 835,841.1 835.4,838.5 835.8,838.6 836.2,842.3 836.7,841.4 837.1,839.1 837.5,840.5 837.9,839.4 838.3,840.2 838.7,838.3 839.2,838 839.6,839 840,840.4 840.4,837.8 840.8,842.2 841.3,842.2 841.7,842.6 842.1,838.8 842.5,842.2 842.9,838.9 843.3,839.1 843.8,839.1 844.2,840.6 844.6,840.7 845,838.5 845.4,841 845.8,840 846.3,840.6 846.7,840.3 847.1,837.7 847.5,839.7 847.9,839.4 848.3,838.2 848.8,841.4 849.2,840.1 849.6,837 850,838.8 850.4,839.7 850.9,840.2 851.3,838 851.7,839.7 852.1,836.8 852.5,838.1 852.9,837.5 853.4,836.1 853.8,840 854.2,837 854.6,838.4 855,840.4 855.4,837 855.9,838.9 856.3,836.6 856.7,835.7 857.1,840.3 857.5,840.1 857.9,837.1 858.4,836.7 858.8,837 859.2,834.8 859.6,835 860,834.6 860.5,835 860.9,832.5 861.3,832 861.7,834.2 862.1,833.3 862.5,830.5 863,829.4 863.4,828.4 863.8,831.4 864.2,828.9 864.6,830.2 865,830.6 865.5,830.4 865.9,828.2 866.3,830 866.7,828.7 867.1,832.6 867.5,829.6 868,828.6 868.4,828.4 868.8,830 869.2,829.2 869.6,831.4 870.1,831.4 870.5,830.4 870.9,831.7 871.3,831.4 871.7,833.9 872.1,832.8 872.6,838.5 873,836.7 873.4,838.4 873.8,840.5 874.2,840.2 874.6,838.4 875.1,841.5 875.5,839.2 875.9,840.1 876.3,838.6 876.7,840.4 877.2,840.8 877.6,840.6 878,837.4 878.4,841.2 878.8,840 879.2,841.7 879.7,839.3 880.1,838.3 880.5,842.3 880.9,841.6 881.3,842.2 881.7,840.8 882.2,843.2 882.6,839.5 883,839.3 883.4,840.1 883.8,840.4 884.2,842 884.7,840.9 885.1,839.6 885.5,839.4 885.9,840.8 886.3,839.4 886.8,839.6 887.2,837.1 887.6,838.4 888,840.7 888.4,829 888.8,818.4 889.3,829 889.7,837.8 890.1,841.4 890.5,840.1 890.9,841.8 891.3,839.3 891.8,841.3 892.2,840.2 892.6,840.6 893,838.5 893.4,841.7 893.8,839.9 894.3,839.1 894.7,840.8 895.1,841.3 895.5,843.1 895.9,842.8 896.4,842.7 896.8,842.9 897.2,840.9 897.6,840.9 898,841.7 898.4,842 898.9,839.2 899.3,840.5 899.7,839.6 900.1,841.2 900.5,842 900.9,840 901.4,840.9 901.8,843.8 902.2,838.9 902.6,841.3 903,840.2 903.4,840.7 903.9,840 904.3,840.7 904.7,840.8 905.1,838.5 905.5,839.2 906,839.3 906.4,842.4 906.8,840.6 907.2,840.9 907.6,840.1 908,841.3 908.5,843.1 908.9,842.3 909.3,842.8 909.7,843.8 910.1,842.6 910.5,839.8 911,839.9 911.4,840.6 911.8,839.1 912.2,839.8 912.6,840.3 913.1,839.9 913.5,841.2 913.9,840.1 914.3,839.8 914.7,841.7 915.1,840.8 915.6,837.7 916,839.1 916.4,840.3 916.8,841.9 917.2,840.8 917.6,841.8 918.1,837.8 918.5,840.2 918.9,842.7 919.3,840.2 919.7,840.4 920.1,841.3 920.6,840.3 921,838.9 921.4,842.3 921.8,842.3 922.2,839.6 922.7,839.8 923.1,838.5 923.5,838.7 923.9,838 924.3,837.9 924.7,839.1 925.2,840.8 925.6,841.3 926,842.4 926.4,842.3 926.8,838.5 927.2,842.9 927.7,839.1 928.1,839.9 928.5,841.5 928.9,842.3 929.3,840.1 929.7,838.5 930.2,840.8 930.6,841.9 931,829.7 931.4,819.5 931.8,829.7 932.3,837.8 932.7,840.4 933.1,840.4 933.5,837.9 933.9,839.6 934.3,841.9 934.8,838.6 935.2,842 935.6,843.2 936,840.2 936.4,841.2 936.8,839.9 937.3,840.6 937.7,838.3 938.1,838.9 938.5,839.5 938.9,838.3 939.3,838.1 939.8,837.3 940.2,838.9 940.6,841.6 941,839.3 941.4,842.1 941.9,840.2 942.3,838.8 942.7,841.5 943.1,840.7 943.5,837.9 943.9,840.8 944.4,840.9 944.8,837.6 945.2,838.1 945.6,838.3 946,837.1 946.4,837.1 946.9,837.3 947.3,835.2 947.7,837.4 948.1,834.4 948.5,835.6 949,835.8 949.4,833.3 949.8,834.6 950.2,835.2 950.6,832.6 951,834.8 951.5,836.6 951.9,836.9 952.3,836.7 952.7,836.4 953.1,835.8 953.5,836.6 954,839.3 954.4,840.2 954.8,837.6 955.2,840.6 955.6,841.5 956,840.1 956.5,842.9 956.9,843.6 957.3,843.3 957.7,843.6 958.1,840.2 958.6,838.2 959,840.8 959.4,838.6 959.8,839.4 960.2,839.6 960.6,837.9 961.1,841.7 961.5,841 961.9,842.1 962.3,842.6 962.7,840.7 963.1,840.4 963.6,839.1 964,842.9 964.4,841.1 964.8,841.5 965.2,840.7 965.6,839.8 966.1,840.9 966.5,842 966.9,840.9 967.3,839.6 967.7,842.9 968.2,839.9 968.6,841.3 969,839.7 969.4,839.4 969.8,838.6 970.2,839.7 970.7,840.6 971.1,841 971.5,839.8 971.9,836.9 972.3,837.3 972.7,837.5 973.2,839.4 973.6,840.8 974,839.3 974.4,840.4 974.8,842.4 975.2,842.3 975.7,841.6 976.1,842.5 976.5,840 976.9,840.2 977.3,837.8 977.8,840.6 978.2,841.4 978.6,838.7 979,841.3 979.4,840.3 979.8,839 980.3,839.1 980.7,842.3 981.1,842.8 981.5,842.5 981.9,842.1 982.3,838.9 982.8,840.6 983.2,838.9 983.6,840.4 984,839.8 984.4,841.2 984.9,839.9 985.3,840.3 985.7,837.4 986.1,837.6 986.5,840.2 986.9,838.2 987.4,841.2 987.8,840 988.2,838 988.6,838.1 989,841.4 989.4,839.5 989.9,841.6 990.3,838.3 990.7,839.1 991.1,837.9 991.5,837.3 991.9,839.2 992.4,841.6 992.8,837.6 993.2,837.3 993.6,838 994,841.1 994.5,841.1 994.9,839.5 995.3,840.6 995.7,840.8 996.1,841.1 996.5,842.8 997,842.5 997.4,839.9 997.8,839.8 998.2,842 998.6,841.7 999,839.8 999.5,838.8 999.9,840.5 1000.3,843.1 1000.7,839.5 1001.1,842.1 1001.5,839.7 1002,841.6 1002.4,841.7 1002.8,840.7 1003.2,837.2 1003.6,841.5 1004.1,837.9 1004.5,830.9 1004.9,821.6 1005.3,830.9 1005.7,840.7 1006.1,836.3 1006.6,836.7 1007,840.4 1007.4,837.2 1007.8,838.8 1008.2,840.2 1008.6,837.9 1009.1,839 1009.5,839.3 1009.9,838.7 1010.3,838.6 1010.7,839.9 1011.1,842.4 1011.6,840.5 1012,839.1 1012.4,842.1 1012.8,841.1 1013.2,842.7 1013.7,840.6 1014.1,842.1 1014.5,836.8 1014.9,839.4 1015.3,839.8 1015.7,838.7 1016.2,837.7 1016.6,838.5 1017,836 1017.4,836.3 1017.8,835.6 1018.2,839.1 1018.7,839.2 1019.1,837 1019.5,838.5 1019.9,839.1 1020.3,837.3 1020.8,839.6 1021.2,837.8 1021.6,838.4 1022,839.3 1022.4,840 1022.8,840.7 1023.3,841.8 1023.7,841.7 1024.1,841.7 1024.5,837.4 1024.9,837.9 1025.3,841.4 1025.8,840.7 1026.2,840.7 1026.6,837.6 1027,841.2 1027.4,841.6 1027.8,840.2 1028.3,839.1 1028.7,839.5 1029.1,838.6 1029.5,838.3 1029.9,840.9 1030.4,838.5 1030.8,837.2 1031.2,838.3 1031.6,837.6 1032,837.4 1032.4,841.6 1032.9,837.9 1033.3,840.8 1033.7,841.4 1034.1,841.8 1034.5,840 1034.9,839.7 1035.4,837.7 1035.8,837.9 1036.2,841.1 1036.6,838.9 1037,839.2 1037.4,842.3 1037.9,837.8 1038.3,840.9 1038.7,841 1039.1,837.3 1039.5,837.4 1040,838.4 1040.4,840.4 1040.8,840.8 1041.2,841.6 1041.6,838.8 1042,837.1 1042.5,839.2 1042.9,836.6 1043.3,841.3 1043.7,838.6 1044.1,840.2 1044.5,839.9 1045,836.8 1045.4,838.1 1045.8,837.9 1046.2,841.1 1046.6,841.9 1047,841.2 1047.5,840.1 1047.9,841.6 1048.3,839.9 1048.7,840.5 1049.1,838 1049.6,838.8 1050,840.3 1050.4,840.8 1050.8,841.3 1051.2,838.1 1051.6,839.3 1052.1,838 1052.5,841.9 1052.9,838.8 1053.3,842 1053.7,841.5 1054.1,840.3 1054.6,842.6 1055,839.8 1055.4,839.8 1055.8,841.9 1056.2,841.8 1056.7,838.7 1057.1,838 1057.5,838.3 1057.9,839.6 1058.3,839.5 1058.7,838.4 1059.2,839.8 1059.6,840.1 1060,842.3 1060.4,842.2 1060.8,842.5 1061.2,841.8 1061.7,839.7 1062.1,839.6 1062.5,841.4 1062.9,840.8 1063.3,842.7 1063.7,842.2 1064.2,840.1 1064.6,842.4 1065,839.2 1065.4,840.5 1065.8,842.2 1066.3,839.7 1066.7,839.5 1067.1,841.6 1067.5,840.2 1067.9,839.6 1068.3,842.5 1068.8,838.4 1069.2,841 1069.6,840 1070,841.2 1070.4,842 1070.8,841.6 1071.3,839.1 1071.7,839.2 1072.1,842.8 1072.5,841.4 1072.9,841.9 1073.3,842 1073.8,841.3 1074.2,841.3 1074.6,843.4 1075,840.1 1075.4,842.9 1075.9,839.1 1076.3,843.2 1076.7,838.7 1077.1,843 1077.5,842.7 1077.9,839.5 1078.4,842.1 1078.8,839.9 1079.2,838.8 1079.6,839.3 1080,842.7 1080.4,842.9 1080.9,841.7 1081.3,841.6 1081.7,842.3 1082.1,842.9 1082.5,838.5 1082.9,838.9 1083.4,841.1 1083.8,839.7 1084.2,841.6 1084.6,837.5 1085,840.6 1085.5,838.8 1085.9,836.5 1086.3,839.4 1086.7,839.7 1087.1,841 1087.5,840.9 1088,839.9 1088.4,839.3 1088.8,842.8 1089.2,842.6 1089.6,838.4 1090,838.8 1090.5,839.8 1090.9,838.3 1091.3,841.5 1091.7,842.1 1092.1,840.7 1092.6,842.4 1093,839.2 1093.4,841.3 1093.8,840 1094.2,839 1094.6,842.3 1095.1,840.6 1095.5,837.8 1095.9,837.2 1096.3,838.3 1096.7,836.4 1097.1,836.5 1097.6,839.5 1098,840.1 1098.4,839.7 1098.8,838.8 1099.2,838.1 1099.6,836.5 1100.1,837 1100.5,840.9 1100.9,837.4 1101.3,837 1101.7,837.2 1102.2,840.5 1102.6,839 1103,840.9 1103.4,841.4 1103.8,838 1104.2,838.2 1104.7,842.4 1105.1,842.2 1105.5,842.1 1105.9,840.5 1106.3,842.5 1106.7,839.8 1107.2,841.4 1107.6,842 1108,840.8 1108.4,841.6 1108.8,838.7 1109.2,837.7 1109.7,840.3 1110.1,838.1 1110.5,840.9 1110.9,839.5 1111.3,839.4 1111.8,839.4 1112.2,838.5 1112.6,837.9 1113,837.6 1113.4,840.1 1113.8,840.9 1114.3,842.4 1114.7,841.9 1115.1,840.2 1115.5,838.4 1115.9,840.7 1116.3,837.9 1116.8,841.8 1117.2,842.2 1117.6,840.5 1118,838.1 1118.4,839.7 1118.8,839.1 1119.3,839.8 1119.7,839.8 1120.1,841 1120.5,840 1120.9,837.1 1121.4,837.3 1121.8,838.3 1122.2,836.1 1122.6,837.2 1123,840.1 1123.4,837.9 1123.9,838.9 1124.3,839.2 1124.7,840.7 1125.1,839.1 1125.5,839.8 1125.9,839.3 1126.4,837.3 1126.8,838.8 1127.2,838.2 1127.6,838 1128,841.9 1128.4,837.3 1128.9,837.6 1129.3,841.3 1129.7,840.2 1130.1,842 1130.5,841.6 1131,840 1131.4,839.8 1131.8,838.5 1132.2,842.1 1132.6,840.7 1133,840.1 1133.5,838.5 1133.9,842.1 1134.3,840.9 1134.7,838.3 1135.1,838.2 1135.5,841 1136,840.5 1136.4,838.9 1136.8,839.1 1137.2,840.9 1137.6,841 1138.1,842.3 1138.5,838.5 1138.9,839.8 1139.3,838.9 1139.7,842.2 1140.1,841.5 1140.6,838.8 1141,840.7 1141.4,840.5 1141.8,842.4 1142.2,838.9 1142.6,838.9 1143.1,841 1143.5,839.9 1143.9,839.1 1144.3,840.2 1144.7,839.2 1145.1,842.2 1145.6,841 1146,840.2 1146.4,839.6 1146.8,838.8 1147.2,839.4 1147.7,839.6 1148.1,842.2 1148.5,840.6 1148.9,839.7 1149.3,839 1149.7,837.2 1150.2,838.4 1150.6,840.1 1151,840.3 1151.4,841.8 1151.8,842.4 1152.2,839.2 1152.7,838.8 1153.1,838.3 1153.5,841.2 1153.9,843.2 1154.3,839 1154.7,841.5 1155.2,841.9 1155.6,844.2 1156,840.4 1156.4,842.6 1156.8,841.8 1157.3,840.7 1157.7,841.2 1158.1,840.1 1158.5,843.4 1158.9,839.8 1159.3,843.5 1159.8,840 1160.2,839.1 1160.6,839.6 1161,840.4 1161.4,838.6 1161.8,838.8 1162.3,836.3 1162.7,839.4 1163.1,839 1163.5,836.9 1163.9,838.7 1164.3,836.7 1164.8,838.2 1165.2,840.4 1165.6,840 1166,838 1166.4,841.2 1166.9,839.5 1167.3,840 1167.7,836.4 1168.1,840.7 1168.5,837.6 1168.9,840.8 1169.4,840.4 1169.8,837.3 1170.2,841.1 1170.6,839.1 1171,839.5 1171.4,839.1 1171.9,838.8 1172.3,841 1172.7,838.4 1173.1,837.1 1173.5,837.8 1174,842.1 1174.4,839 1174.8,842.5 1175.2,840.5 1175.6,839.9 1176,843.3 1176.5,839.9 1176.9,839.7 1177.3,841.2 1177.7,842.8 1178.1,842.7 1178.5,842.1 1179,842.5 1179.4,838.4 1179.8,841.7 1180.2,839.6 1180.6,841.5 1181,842.5 1181.5,841.1 1181.9,839.5 1182.3,838.6 1182.7,840 1183.1,841.9 1183.6,842.1 1184,840 1184.4,841.8 1184.8,840.7 1185.2,842.6 1185.6,841.4 1186.1,841.9 1186.5,843.8 1186.9,843.1 1187.3,840.3 1187.7,841.8 1188.1,841.8 1188.6,840.1 1189,841.9 1189.4,839.5 1189.8,842.9 1190.2,842 1190.6,838.7 1191.1,839.8 1191.5,840.3 1191.9,843.1 1192.3,839.8 1192.7,841.5 1193.2,843.3 1193.6,843.2 1194,843.4 1194.4,841.6 1194.8,840.4 1195.2,840.9 1195.7,840.5 1196.1,839.9 1196.5,841.4 1196.9,839.9 1197.3,841.3 1197.7,841.6 1198.2,842.3 1198.6,842.5 1199,840.3 1199.4,839.7 1199.8,842.1 1200.2,840.7 1200.7,839.2 1201.1,840.8 1201.5,839.4 1201.9,838.9 1202.3,841.8 1202.8,837.4 1203.2,838.4 1203.6,837.9 1204,841.7 1204.4,840.4 1204.8,839.3 1205.3,841.7 1205.7,842.5 1206.1,839.3 1206.5,838.6 1206.9,842.6 1207.3,838.4 1207.8,839.7 1208.2,841.8 1208.6,841.4 1209,838.7 1209.4,839.4 1209.9,842.3 1210.3,840.3 1210.7,842.9 1211.1,841.3 1211.5,842.2 1211.9,842.7 1212.4,843.6 1212.8,842 1213.2,839.9 1213.6,839.1 1214,835 1214.4,839.1 1214.9,839.6 1215.3,843.2 1215.7,841.3 1216.1,840.5 1216.5,842.2 1216.9,840.4 1217.4,838.7 1217.8,841.8 1218.2,840.4 1218.6,842.5 1219,840.8 1219.5,841.3 1219.9,838.7 1220.3,843.4 1220.7,841.1 1221.1,840.9 1221.5,841.1 1222,839 1222.4,840.1 1222.8,840.4 1223.2,843.3 1223.6,842.7 1224,839.7 1224.5,838.7 1224.9,842.1 1225.3,839.8 1225.7,838.1 1226.1,841.4 1226.5,842.7 1227,840.7 1227.4,841.6 1227.8,841.6 1228.2,843.1 1228.6,840.2 1229.1,843.6 1229.5,840 1229.9,841.1 1230.3,842.9 1230.7,840.1 1231.1,843.1 1231.6,838.1 1232,838.5 1232.4,837.6 1232.8,842.3 1233.2,841.5 1233.6,838 1234.1,841.9 1234.5,840.7 1234.9,842.5 1235.3,838.7 1235.7,841.6 1236.1,840 1236.6,842.8 1237,840.1 1237.4,838.4 1237.8,840.9 1238.2,840.2 1238.7,840.7 1239.1,838.8 1239.5,840.6 1239.9,836.1 1240.3,839.2 1240.7,838.1 1241.2,838.6 1241.6,837.5 1242,838 1242.4,834.4 1242.8,837.9 1243.2,838 1243.7,834.8 1244.1,835.3 1244.5,838.5 1244.9,835.7 1245.3,838.6 1245.8,839.4 1246.2,835.3 1246.6,835.3 1247,836.9 1247.4,835.6 1247.8,837.3 1248.3,838.8 1248.7,837 1249.1,835.5 1249.5,835.1 1249.9,836.9 1250.3,834.1 1250.8,836.4 1251.2,838 1251.6,838.6 1252,838.9 1252.4,835.8 1252.8,838.2 1253.3,836.3 1253.7,836.9 1254.1,835.9 1254.5,834 1254.9,834.3 1255.4,837 1255.8,836 1256.2,834.8 1256.6,835.1 1257,836.1 1257.4,836.3 1257.9,834.6 1258.3,835.2 1258.7,838.2 1259.1,838.6 1259.5,835.9 1259.9,837.5 1260.4,837.6 1260.8,835.6 1261.2,834.6 1261.6,837.2 1262,835.4 1262.4,835.1 1262.9,836.3 1263.3,835.2 1263.7,838.8 1264.1,835.5 1264.5,837.8 1265,838.9 1265.4,840.2 1265.8,839 1266.2,836 1266.6,838.8 1267,839.2 1267.5,839.2 1267.9,839.2 1268.3,839.3 1268.7,835.5 1269.1,838.4 1269.5,838 1270,834.4 1270.4,837.4 1270.8,837 1271.2,837.5 1271.6,837.3 1272,836.2 1272.5,838.5 1272.9,835 1273.3,838.3 1273.7,839.4 1274.1,838.5 1274.6,837.7 1275,832.3 1275.4,823.8 1275.8,832.3 1276.2,839.7 1276.6,836.1 1277.1,839 1277.5,838.7 1277.9,837.2 1278.3,835.8 1278.7,836.1 1279.1,837.7 1279.6,834.2 1280,836.3 1280.4,835.6 1280.8,837.8 1281.2,839.3 1281.7,836.1 1282.1,838 1282.5,839 1282.9,835.5 1283.3,836 1283.7,836.8 1284.2,836.1 1284.6,838 1285,835.6 1285.4,837.4 1285.8,838.1 1286.2,834.6 1286.7,837.7 1287.1,835.2 1287.5,836.8 1287.9,834.5 1288.3,835 1288.7,838.4 1289.2,835.4 1289.6,834.6 1290,835.1 1290.4,838.1 1290.8,836.2 1291.3,840.5 1291.7,836.9 1292.1,837 1292.5,840.6 1292.9,839.2 1293.3,841.5 1293.8,839.3 1294.2,842.8 1294.6,842 1295,839.2 1295.4,840.2 1295.8,843 1296.3,838.5 1296.7,838.3 1297.1,841.2 1297.5,842 1297.9,838.7 1298.3,842 1298.8,839.9 1299.2,838.6 1299.6,842.4 1300,838.7 1300.4,841.5 1300.9,838.9 1301.3,841.9 1301.7,840.8 1302.1,840.1 1302.5,839.7 1302.9,840.4 1303.4,839.9 1303.8,841.8 1304.2,842 1304.6,838.5 1305,842.9 1305.4,838.1 1305.9,839.2 1306.3,839.4 1306.7,840.8 1307.1,840 1307.5,841.1 1307.9,838 1308.4,842.4 1308.8,837.8 1309.2,838.3 1309.6,839.9 1310,838.7 1310.5,842.2 1310.9,840.1 1311.3,839.4 1311.7,839.2 1312.1,839.3 1312.5,839.7 1313,841.8 1313.4,842.2 1313.8,840.2 1314.2,843.2 1314.6,843.4 1315,842.9 1315.5,842.9 1315.9,842.4 1316.3,842.2 1316.7,841.7 1317.1,842.5 1317.6,841.6 1318,839.7 1318.4,842.7 1318.8,841.7 1319.2,839.5 1319.6,842 1320.1,842 1320.5,840.8 1320.9,838.8 1321.3,842.6 1321.7,840.9 1322.1,841.4 1322.6,840.9 1323,842.2 1323.4,840.2 1323.8,839.2 1324.2,839.2 1324.6,843.3 1325.1,841 1325.5,842 1325.9,839.6 1326.3,843.8 1326.7,841.7 1327.2,838.8 1327.6,841.1 1328,840.8 1328.4,838.3 1328.8,839.5 1329.2,839.7 1329.7,840.9 1330.1,838.4 1330.5,839.9 1330.9,839.4 1331.3,842.3 1331.7,840.8 1332.2,840.9 1332.6,838.9 1333,838.7 1333.4,840.5 1333.8,839.7 1334.2,838.7 1334.7,841.6 1335.1,839.7 1335.5,840.8 1335.9,840.9 1336.3,841 1336.8,838.4 1337.2,842 1337.6,838.9 1338,842.4 1338.4,839.8 1338.8,839.5 1339.3,841.8 1339.7,840.3 1340.1,838.9 1340.5,838.3 1340.9,840 1341.3,842.1 1341.8,841.8 1342.2,842.2 1342.6,837.7 1343,838.4 1343.4,837.8 1343.8,840.5 1344.3,839.9 1344.7,841.1 1345.1,837.5 1345.5,839.5 1345.9,838.7 1346.4,841.4 1346.8,838.9 1347.2,840.8 1347.6,842.8 1348,840.2 1348.4,841.7 1348.9,841.1 1349.3,839.7 1349.7,838.8 1350.1,841.9 1350.5,840.8 1350.9,839.5 1351.4,841.5 1351.8,841.8 1352.2,842.5 1352.6,838.2 1353,839.8 1353.5,842.8 1353.9,841.7 1354.3,841.1 1354.7,842.1 1355.1,841 1355.5,838.8 1356,840.9 1356.4,843.6 1356.8,841.2 1357.2,842 1357.6,842.5 1358,840.5 1358.5,838.6 1358.9,838.6 1359.3,839.4 1359.7,837.2 1360.1,838.2 1360.5,837.3 1361,839.4 1361.4,841.1 1361.8,838.5 1362.2,837.5 1362.6,838.3 1363.1,840.1 1363.5,841.4 1363.9,837.8 1364.3,839.2 1364.7,842.2 1365.1,839.1 1365.6,838.2 1366,841.7 1366.4,840.4 1366.8,841.7 1367.2,839.4 1367.6,839.5 1368.1,841.6 1368.5,841.9 1368.9,840.9 1369.3,838.7 1369.7,840.6 1370.1,840.4 1370.6,843.9 1371,841.7 1371.4,842.7 1371.8,844 1372.2,843.5 1372.7,842 1373.1,841.6 1373.5,842.8 1373.9,840.8 1374.3,839.1 1374.7,840.3 1375.2,840.8 1375.6,841.3 1376,842 1376.4,838.1 1376.8,838.2 1377.2,840.5 1377.7,841.5 1378.1,837.8 1378.5,841.6 1378.9,837.7 1379.3,840.1 1379.7,842.3 1380.2,840.3 1380.6,839.2 1381,841.5 1381.4,840.1 1381.8,839.8 1382.3,842.6 1382.7,842.4 1383.1,842.3 1383.5,838.1 1383.9,837.8 1384.3,841.1 1384.8,837.7 1385.2,837.3 1385.6,840.7 1386,836.3 1386.4,840.2 1386.8,839.8 1387.3,836.7 1387.7,839.6 1388.1,837 1388.5,839.8 1388.9,837.6 1389.3,838 1389.8,838.8 1390.2,839.2 1390.6,840.4 1391,838.7 1391.4,840.6 1391.9,838.2 1392.3,837.6 1392.7,837.7 1393.1,839.4 1393.5,836.6 1393.9,838.6 1394.4,838.6 1394.8,836.2 1395.2,840.2 1395.6,840.7 1396,840.3 1396.4,839.2 1396.9,836.9 1397.3,837.3 1397.7,837.3 1398.1,837.8 1398.5,838.9 1399,837.5 1399.4,840.4 1399.8,838.1 1400.2,839.1 1400.6,839.4 1401,838.6 1401.5,839.9 1401.9,842 1402.3,837.9 1402.7,840.7 1403.1,839.8 1403.5,842.8 1404,842.5 1404.4,841.3 1404.8,841.7 1405.2,840.9 1405.6,839 1406,839.7 1406.5,842.8 1406.9,842 1407.3,838.6 1407.7,838 1408.1,840.7 1408.6,838.2 1409,837.9 1409.4,838.2 1409.8,836.5 1410.2,838.8 1410.6,840.3 1411.1,839.3 1411.5,838.2 1411.9,837.8 1412.3,840 1412.7,840.5 1413.1,839.6 1413.6,842 1414,839.2 1414.4,837.4 1414.8,840.6 1415.2,838.1 1415.6,837.8 1416.1,840 1416.5,837.2 1416.9,837.2 1417.3,842.3 1417.7,842 1418.2,842.3 1418.6,839.1 1419,841.5 1419.4,841.3 1419.8,840.3 1420.2,842.1 1420.7,842.1 1421.1,844.1 1421.5,841.4 1421.9,841.6 1422.3,842.1 1422.7,843.7 1423.2,840 1423.6,840.8 1424,840.9 1424.4,843.3 1424.8,837.3 1425.2,832 1425.7,837.3 1426.1,843.4 1426.5,839.3 1426.9,843.3 1427.3,838.7 1427.8,840.9 1428.2,841.8 1428.6,842.8 1429,842.5 1429.4,839.6 1429.8,840.7 1430.3,840.7 1430.7,842.6 1431.1,839 1431.5,841.5 1431.9,841.2 1432.3,839.9 1432.8,841.8 1433.2,841.5 1433.6,841.1 1434,842.8 1434.4,840.7 1434.9,840.6 1435.3,838.7 1435.7,842 1436.1,838.7 1436.5,839.3 1436.9,841.4 1437.4,839.1 1437.8,838.7 1438.2,842 1438.6,840.7 1439,841.8 1439.4,839.9 1439.9,842.5 1440.3,840.9 1440.7,838.8 1441.1,838.4 1441.5,838.2 1441.9,841.8 1442.4,839.3 1442.8,836.9 1443.2,839.4 1443.6,838.3 1444,840.5 1444.5,840.2 1444.9,837.6 1445.3,836.8 1445.7,838.1 1446.1,840.6 1446.5,837.6 1447,841 1447.4,837.3 1447.8,841.2 1448.2,839.7 1448.6,838.3 1449,836.9 1449.5,839.6 1449.9,835.3 1450.3,800.2 1450.7,770.9 1451.1,800.2 1451.5,835.3 1452,839.6 1452.4,838.6 1452.8,841.2 1453.2,843.1 1453.6,840.7 1454.1,838.5 1454.5,842.1 1454.9,840.9 1455.3,839.3 1455.7,839.2 1456.1,839.1 1456.6,839.3 1457,840.3 1457.4,843 1457.8,842.5 1458.2,840 1458.6,841.3 1459.1,840 1459.5,839.7 1459.9,839.1 1460.3,837.5 1460.7,837.7 1461.1,841.7 1461.6,839.9 1462,839.3 1462.4,837.2 1462.8,840 1463.2,841.1 1463.7,839.8 1464.1,840.2 1464.5,838.6 1464.9,838.7 1465.3,837 1465.7,839.5 1466.2,837.3 1466.6,836.8 1467,839.9 1467.4,838.6 1467.8,839.5 1468.2,838.2 1468.7,839.2 1469.1,835.7 1469.5,829.4 1469.9,835.7 1470.3,840.2 1470.8,839.8 1471.2,837.9 1471.6,838.2 1472,838.7 1472.4,840.3 1472.8,840.1 1473.3,838.4 1473.7,837.6 1474.1,836.1 1474.5,839.7 1474.9,840 1475.3,836.5 1475.8,836.4 1476.2,838.3 1476.6,836.4 1477,835.9 1477.4,830.1 1477.8,836.1 1478.3,838 1478.7,835.9 1479.1,837.1 1479.5,836.4 1479.9,838.7 1480.4,838.2 1480.8,837.8 1481.2,835.1 1481.6,838.6 1482,837.3 1482.4,835.6 1482.9,835.5 1483.3,836.9 1483.7,837 1484.1,838.2 1484.5,837.8 1484.9,836.7 1485.4,836.4 1485.8,835.7 1486.2,839.9 1486.6,838.5 1487,838 1487.4,837.2 1487.9,836.6 1488.3,836.3 1488.7,838.7 1489.1,838.3 1489.5,835.7 1490,835.4 1490.4,838 1490.8,836.9 1491.2,833.3 1491.6,833.9 1492,833.8 1492.5,837 1492.9,836.6 1493.3,836.3 1493.7,834.8 1494.1,838.5 1494.5,839 1495,836.5 1495.4,839 1495.8,840.2 1496.2,839.6 1496.6,841.3 1497,836.9 1497.5,839.4 1497.9,837.3 1498.3,837.6 1498.7,840.3 1499.1,839.2 1499.6,841.2 1500,838.9 1500.4,839.5 1500.8,837.1 1501.2,837 1501.6,837 1502.1,839.2 1502.5,838.3 1502.9,841 1503.3,837.5 1503.7,841.6 1504.1,840.2 1504.6,837.3 1505,838 1505.4,837.7 1505.8,841.3 1506.2,842.2 1506.7,841.4 1507.1,838.9 1507.5,838.4 1507.9,838.9 1508.3,840.7 1508.7,838.8 1509.2,839.6 1509.6,837.7 1510,838 1510.4,839.6 1510.8,838.6 1511.2,839.5 1511.7,840.7 1512.1,839.6 1512.5,842.2 1512.9,839.2 1513.3,839.3 1513.7,838.9 1514.2,839.1 1514.6,839.2 1515,838.3 1515.4,840.5 1515.8,838.7 1516.3,841 1516.7,839 1517.1,841.4 1517.5,840.3 1517.9,840.1 1518.3,842.1 1518.8,841.5 1519.2,839.5 1519.6,841.6 1520,838.4 1520.4,839.9 1520.8,838.7 1521.3,842.9 1521.7,840.3 1522.1,838.6 1522.5,839.4 1522.9,842.4 1523.3,839 1523.8,841.7 1524.2,841.9 1524.6,839 1525,838.7 1525.4,841.8 1525.9,842.6 1526.3,841.1 1526.7,839.1 1527.1,840.5 1527.5,840.5 1527.9,838.4 1528.4,840.5 1528.8,839 1529.2,840.5 1529.6,838.8 1530,841 1530.4,841.7 1530.9,840.4 1531.3,840.1 1531.7,840.3 1532.1,842.2 1532.5,839.4 1532.9,839.9 1533.4,843.6 1533.8,843.9 1534.2,842.7 1534.6,841.5 1535,842.6 1535.5,839.5 1535.9,841.9 1536.3,840.6 1536.7,842.9 1537.1,840.6 1537.5,841 1538,839.2 1538.4,840.8 1538.8,840.3 1539.2,840.4 1539.6,838.5 1540,838.5 1540.5,840.4 1540.9,838.1 1541.3,839.1 1541.7,838.5 1542.1,840.2 1542.6,840.3 1543,840.9 1543.4,841.1 1543.8,837 1544.2,838.3 1544.6,837.8 1545.1,839.1 1545.5,839 1545.9,842 1546.3,842.2 1546.7,842.3 1547.1,840.7 1547.6,840.8 1548,843.1 1548.4,842.3 1548.8,840.1 1549.2,841.4 1549.6,842.1 1550.1,839.4 1550.5,840.7 1550.9,839.5 1551.3,843.9 1551.7,840 1552.2,841.6 1552.6,841.4 1553,843.5 1553.4,841 1553.8,839.5 1554.2,840.3 1554.7,841.1 1555.1,842.7 1555.5,841.5 1555.9,839.8 1556.3,842.1 1556.7,841.9 1557.2,842.2 1557.6,840.6 1558,842.4 1558.4,839.2 1558.8,838.5 1559.2,840 1559.7,841.8 1560.1,837.2 1560.5,839.5 1560.9,840.8 1561.3,838.2 1561.8,841.4 1562.2,838.2 1562.6,840.5 1563,841.6 1563.4,841.9 1563.8,840.8 1564.3,841.1 1564.7,840.8 1565.1,837.2 1565.5,836.4 1565.9,837.1 1566.3,840.2 1566.8,836.5 1567.2,837.6 1567.6,837.1 1568,839.6 1568.4,836.8 1568.8,826.6 1569.3,833.3 1569.7,835.5 1570.1,828.8 1570.5,827.4 1570.9,830.9 1571.4,822.6 1571.8,834.1 1572.2,828.4 1572.6,822.3 1573,827.6 1573.4,829.3 1573.9,824.5 1574.3,833.1 1574.7,828.8 1575.1,836.8 1575.5,835.8 1575.9,834.8 1576.4,840.9 1576.8,838.1 1577.2,838 1577.6,834.7 1578,834.2 1578.5,834.7 1578.9,833.6 1579.3,829.1 1579.7,826.7 1580.1,822.2 1580.5,827.3 1581,829.5 1581.4,827 1581.8,825.4 1582.2,827.6 1582.6,826 1583,820.8 1583.5,816.6 1583.9,828.7 1584.3,824.4 1584.7,829.8 1585.1,826.3 1585.5,836.4 1586,834.5 1586.4,830.3 1586.8,833.2 1587.2,832.6 1587.6,837.7 1588.1,839.7 1588.5,832.2 1588.9,829.7 1589.3,830.4 1589.7,835.7 1590.1,828 1590.6,840 1591,838.3 1591.4,837.1 1591.8,841.1 1592.2,841.8 1592.6,836.5 1593.1,841.8 1593.5,839.2 1593.9,840.3 1594.3,836.8 1594.7,838.5 1595.1,840.6 1595.6,841.3 1596,841.4 1596.4,841.4 1596.8,839.9 1597.2,837.3 1597.7,841.2 1598.1,840.8 1598.5,839.5 1598.9,839 1599.3,837.3 1599.7,836.6 1600.2,838.7 1600.6,841 1601,839.4 1601.4,839.9 1601.8,840.7 1602.2,840.4 1602.7,841 1603.1,842.3 1603.5,840.3 1603.9,841.3 1604.3,839.9 1604.7,838.7 1605.2,838.5 1605.6,840.4 1606,839.4 1606.4,841.4 1606.8,840.5 1607.3,840.2 1607.7,837.6 1608.1,837.3 1608.5,837.4 1608.9,840.7 1609.3,838.7 1609.8,838.3 1610.2,837.4 1610.6,836.4 1611,839.3 1611.4,838.7 1611.8,838.2 1612.3,836.9 1612.7,837.3 1613.1,839.3 1613.5,838.9 1613.9,838.7 1614.4,838.6 1614.8,840.1 1615.2,836.7 1615.6,837.6 1616,837.1 1616.4,838.9 1616.9,841.1 1617.3,841.8 1617.7,841 1618.1,842.2 1618.5,839.7 1618.9,836.1 1619.4,830.1 1619.8,836.1 1620.2,839 1620.6,840.9 1621,839.9 1621.4,841.3 1621.9,838.3 1622.3,841.3 1622.7,839.7 1623.1,838.5 1623.5,838.6 1624,841.6 1624.4,842.8 1624.8,839.2 1625.2,841.7 1625.6,842.7 1626,838.1 1626.5,840 1626.9,840.5 1627.3,840.6 1627.7,840.5 1628.1,838.2 1628.5,840.3 1629,839.6 1629.4,839.3 1629.8,840.6 1630.2,837.3 1630.6,840.6 1631,839.6 1631.5,842.3 1631.9,838.3 1632.3,840.4" fill="none" stroke="#0072BD" stroke-width="4.25" stroke-linejoin="round" stroke-linecap="round"/>
<line x1="2154.5" y1="566" x2="3198.5" y2="566" stroke="#262626" stroke-width="4.25" stroke-linecap="square"/>
<line x1="2154.5" y1="845.4" x2="3198.5" y2="845.4" stroke="#262626" stroke-width="4.25" stroke-linecap="square"/>
<line x1="2154.5" y1="566" x2="2154.5" y2="845.4" stroke="#262626" stroke-width="4.25" stroke-linecap="square"/>
<line x1="3198.5" y1="566" x2="3198.5" y2="845.4" stroke="#262626" stroke-width="4.25" stroke-linecap="square"/>
<line x1="2363.3" y1="845.4" x2="2363.3" y2="832.7" stroke="#262626" stroke-width="4.25" stroke-linecap="butt"/>
<line x1="2363.3" y1="566" x2="2363.3" y2="578.7" stroke="#262626" stroke-width="4.25" stroke-linecap="butt"/>
<text x="2363.3" y="912.6" font-size="58.4" fill="#262626" text-anchor="middle" font-weight="normal">500</text>
<line x1="2572.1" y1="845.4" x2="2572.1" y2="832.7" stroke="#262626" stroke-width="4.25" stroke-linecap="butt"/>
<line x1="2572.1" y1="566" x2="2572.1" y2="578.7" stroke="#262626" stroke-width="4.25" stroke-linecap="butt"/>
<text x="2572.1" y="912.6" font-size="58.4" fill="#262626" text-anchor="middle" font-weight="normal">1000</text>
<line x1="2780.9" y1="845.4" x2="2780.9" y2="832.7" stroke="#262626" stroke-width="4.25" stroke-linecap="butt"/>
<line x1="2780.9" y1="566" x2="2780.9" y2="578.7" stroke="#262626" stroke-width="4.25" stroke-linecap="butt"/>
<text x="2780.9" y="912.6" font-size="58.4" fill="#262626" text-anchor="middle" font-weight="normal">1500</text>
<line x1="2989.7" y1="845.4" x2="2989.7" y2="832.7" stroke="#262626" stroke-width="4.25" stroke-linecap="butt"/>
<line x1="2989.7" y1="566" x2="2989.7" y2="578.7" stroke="#262626" stroke-width="4.25" stroke-linecap="butt"/>
<text x="2989.7" y="912.6" font-size="58.4" fill="#262626" text-anchor="middle" font-weight="normal">2000</text>
<text x="3198.5" y="912.6" font-size="58.4" fill="#262626" text-anchor="middle" font-weight="normal">2500</text>
<text x="2130.5" y="865.4" font-size="58.4" fill="#262626" text-anchor="end" font-weight="normal">0</text>
<line x1="2154.5" y1="752.3" x2="2167.2" y2="752.3" stroke="#262626" stroke-width="4.25" stroke-linecap="butt"/>
<line x1="3198.5" y1="752.3" x2="3185.8" y2="752.3" stroke="#262626" stroke-width="4.25" stroke-linecap="butt"/>
<text x="2130.5" y="772.3" font-size="58.4" fill="#262626" text-anchor="end" font-weight="normal">50</text>
<line x1="2154.5" y1="659.1" x2="2167.2" y2="659.1" stroke="#262626" stroke-width="4.25" stroke-linecap="butt"/>
<line x1="3198.5" y1="659.1" x2="3185.8" y2="659.1" stroke="#262626" stroke-width="4.25" stroke-linecap="butt"/>
<text x="2130.5" y="679.1" font-size="58.4" fill="#262626" text-anchor="end" font-weight="normal">100</text>
<text x="2130.5" y="586" font-size="58.4" fill="#262626" text-anchor="end" font-weight="normal">150</text>
<text x="2675.4" y="990.5" font-size="58.4" fill="#262626" text-anchor="middle" font-weight="normal">Acc frequency (Hz)</text>
<text x="2005.1" y="842.5" font-size="58.4" fill="#262626" text-anchor="start" font-weight="normal" transform="rotate(-90 2005.1 842.5)">PSD<tspan font-size="32.2" dy="-18">1/2</tspan><tspan dy="18" dx="5.0"> (μg)</tspan></text>
<text x="2174" y="630.5" font-size="83.3" font-weight="bold" fill="#000000">d</text>
<polyline points="2154.5,829.5 2154.9,832 2155.3,831.6 2155.8,831.4 2156.2,829.9 2156.6,830.4 2157,828.6 2157.4,829.9 2157.8,826.2 2158.3,828.1 2158.7,827.7 2159.1,827.2 2159.5,827 2159.9,829.8 2160.3,830.6 2160.8,829 2161.2,831.2 2161.6,829.5 2162,832.1 2162.4,831.2 2162.9,829.6 2163.3,824.5 2163.7,820.7 2164.1,819.3 2164.5,820.7 2164.9,824.5 2165.4,829.1 2165.8,833 2166.2,830 2166.6,833.1 2167,834.8 2167.4,836.3 2167.9,837.4 2168.3,834.6 2168.7,837.6 2169.1,837.1 2169.5,839.2 2170,838.7 2170.4,840.9 2170.8,839.8 2171.2,843.9 2171.6,839.9 2172,842.2 2172.5,838.2 2172.9,840.6 2173.3,838.3 2173.7,837.6 2174.1,836.8 2174.5,836.4 2175,835.9 2175.4,834.9 2175.8,833.4 2176.2,832.2 2176.6,832.2 2177.1,832.5 2177.5,833.9 2177.9,834.6 2178.3,835.2 2178.7,834.5 2179.1,832.5 2179.6,836 2180,836.5 2180.4,833.9 2180.8,837.5 2181.2,836.7 2181.6,836.2 2182.1,835.5 2182.5,834.8 2182.9,834.9 2183.3,837.3 2183.7,836 2184.1,838 2184.6,838.8 2185,837.3 2185.4,836.2 2185.8,837.1 2186.2,838.2 2186.7,841.6 2187.1,840.1 2187.5,841.7 2187.9,840.9 2188.3,840.5 2188.7,843.2 2189.2,841 2189.6,843.9 2190,843.1 2190.4,841.3 2190.8,839.5 2191.2,838.4 2191.7,840.4 2192.1,837.3 2192.5,835.8 2192.9,836.2 2193.3,835.4 2193.8,834.1 2194.2,833.8 2194.6,833 2195,832.4 2195.4,831.8 2195.8,831.4 2196.3,833.3 2196.7,831.9 2197.1,831.3 2197.5,828.8 2197.9,830.5 2198.3,832.7 2198.8,832.5 2199.2,828.3 2199.6,828.9 2200,830 2200.4,831.8 2200.9,832.1 2201.3,828.6 2201.7,829.4 2202.1,827.6 2202.5,830.4 2202.9,827.1 2203.4,827.7 2203.8,828.7 2204.2,826.8 2204.6,829.3 2205,825.5 2205.4,828.5 2205.9,827.6 2206.3,827 2206.7,829.2 2207.1,826.5 2207.5,829 2208,829 2208.4,831.1 2208.8,829.9 2209.2,832.3 2209.6,831.6 2210,830.8 2210.5,832.4 2210.9,834 2211.3,835.5 2211.7,837 2212.1,838.5 2212.5,836 2213,835.9 2213.4,836.9 2213.8,837.3 2214.2,837.6 2214.6,836.2 2215.1,838.4 2215.5,836.4 2215.9,836.8 2216.3,835.9 2216.7,835 2217.1,838.7 2217.6,836.8 2218,834.8 2218.4,837.1 2218.8,835.7 2219.2,837.1 2219.6,833.1 2220.1,835.2 2220.5,833.8 2220.9,836.2 2221.3,836.7 2221.7,832.5 2222.2,835.5 2222.6,834.4 2223,836.2 2223.4,833.8 2223.8,836.2 2224.2,833.8 2224.7,837.2 2225.1,837 2225.5,834.9 2225.9,835.3 2226.3,838.6 2226.7,838 2227.2,839.3 2227.6,838.1 2228,838.3 2228.4,840.4 2228.8,836.8 2229.3,839.7 2229.7,839.9 2230.1,840.4 2230.5,838 2230.9,838.1 2231.3,839.8 2231.8,842.1 2232.2,840.5 2232.6,841.7 2233,843.8 2233.4,840.1 2233.8,842 2234.3,844.7 2234.7,844.6 2235.1,842.2 2235.5,842.6 2235.9,842.4 2236.3,844.8 2236.8,844.7 2237.2,843 2237.6,842.5 2238,844.8 2238.4,841.7 2238.9,842.4 2239.3,843.9 2239.7,839.9 2240.1,841.1 2240.5,840.2 2240.9,840.5 2241.4,839.9 2241.8,838.2 2242.2,836.6 2242.6,838.6 2243,834.3 2243.4,834.5 2243.9,837 2244.3,834.1 2244.7,832.7 2245.1,835.8 2245.5,834.5 2246,835.5 2246.4,833.1 2246.8,835.7 2247.2,835.6 2247.6,833.5 2248,833.8 2248.5,835.3 2248.9,836.2 2249.3,837.2 2249.7,837.6 2250.1,836 2250.5,837.2 2251,839.8 2251.4,837.3 2251.8,839.6 2252.2,836.8 2252.6,838.7 2253.1,838.9 2253.5,837.3 2253.9,837.5 2254.3,837.2 2254.7,836.1 2255.1,839.8 2255.6,839.8 2256,839.8 2256.4,838.5 2256.8,835.8 2257.2,838 2257.6,839.2 2258.1,838.9 2258.5,839.8 2258.9,837.3 2259.3,838.6 2259.7,839.4 2260.2,838.3 2260.6,839 2261,837.7 2261.4,835.4 2261.8,838.4 2262.2,837.9 2262.7,834.1 2263.1,832.9 2263.5,836 2263.9,834.1 2264.3,834.8 2264.7,834.3 2265.2,834 2265.6,830.2 2266,833.8 2266.4,830 2266.8,831.7 2267.3,832.3 2267.7,832.1 2268.1,833.2 2268.5,832.9 2268.9,833.6 2269.3,832.8 2269.8,831.5 2270.2,833.9 2270.6,835.3 2271,833.8 2271.4,832.8 2271.8,833.3 2272.3,833.9 2272.7,835.4 2273.1,837.6 2273.5,836.8 2273.9,837.5 2274.4,838.8 2274.8,840.4 2275.2,841.5 2275.6,842.6 2276,842.8 2276.4,842.3 2276.9,844.8 2277.3,843 2277.7,844.8 2278.1,839.5 2278.5,818.9 2278.9,801.6 2279.4,818.9 2279.8,839.5 2280.2,839.6 2280.6,844.8 2281,841.4 2281.5,841.2 2281.9,842.7 2282.3,844.8 2282.7,828.9 2283.1,836.4 2283.5,831.7 2284,825 2284.4,836.3 2284.8,831.4 2285.2,837.1 2285.6,825 2286,834.6 2286.5,824.4 2286.9,828.9 2287.3,824.8 2287.7,819.2 2288.1,835.1 2288.5,840.3 2289,833.3 2289.4,827.5 2289.8,829.3 2290.2,830.7 2290.6,829.6 2291.1,823.9 2291.5,836.1 2291.9,815 2292.3,834.4 2292.7,837.5 2293.1,835.2 2293.6,828 2294,817.2 2294.4,833.9 2294.8,816.7 2295.2,831.5 2295.6,805.7 2296.1,820.8 2296.5,806.8 2296.9,829.3 2297.3,827.8 2297.7,827.8 2298.2,823.3 2298.6,809.3 2299,831.6 2299.4,832.7 2299.8,816.6 2300.2,823.6 2300.7,821.2 2301.1,815.2 2301.5,812.5 2301.9,823.5 2302.3,832 2302.7,827.4 2303.2,820.9 2303.6,836.2 2304,825.2 2304.4,833.8 2304.8,826.6 2305.3,830.3 2305.7,827.6 2306.1,837.2 2306.5,830.4 2306.9,832.9 2307.3,833.2 2307.8,790.6 2308.2,755.1 2308.6,790.6 2309,832.2 2309.4,834 2309.8,843.8 2310.3,832 2310.7,820.5 2311.1,830.9 2311.5,837 2311.9,839.2 2312.4,827.8 2312.8,831.7 2313.2,837.4 2313.6,822.1 2314,828.3 2314.4,829 2314.9,844.8 2315.3,840.5 2315.7,825.3 2316.1,836.2 2316.5,837.7 2316.9,830.9 2317.4,840.5 2317.8,826.1 2318.2,830.3 2318.6,823.6 2319,838.4 2319.5,840.9 2319.9,838.3 2320.3,840.9 2320.7,833.4 2321.1,832.5 2321.5,832.3 2322,830.8 2322.4,830.4 2322.8,823.9 2323.2,828.7 2323.6,826.8 2324,836.1 2324.5,830.8 2324.9,828.2 2325.3,825.2 2325.7,827.6 2326.1,827.5 2326.6,821.5 2327,837.3 2327.4,834.1 2327.8,827.9 2328.2,837.3 2328.6,827.8 2329.1,825.7 2329.5,834.4 2329.9,840.2 2330.3,832.1 2330.7,837 2331.1,821.9 2331.6,828.9 2332,827.9 2332.4,819.8 2332.8,817.9 2333.2,836.7 2333.7,824 2334.1,831.1 2334.5,833.1 2334.9,819.6 2335.3,832 2335.7,824.6 2336.2,812.1 2336.6,812.4 2337,833.3 2337.4,816.9 2337.8,817.7 2338.2,812.5 2338.7,816.2 2339.1,833.6 2339.5,839.8 2339.9,817.3 2340.3,822.1 2340.7,837.8 2341.2,841.2 2341.6,816.6 2342,836.6 2342.4,826.2 2342.8,839.6 2343.3,825.5 2343.7,827.5 2344.1,843.1 2344.5,825 2344.9,839.3 2345.3,840 2345.8,827.1 2346.2,830.5 2346.6,825 2347,821 2347.4,825 2347.8,820.5 2348.3,829.1 2348.7,826.3 2349.1,811.7 2349.5,812.9 2349.9,791.8 2350.4,812.9 2350.8,813.3 2351.2,815.1 2351.6,825.7 2352,813.5 2352.4,811.1 2352.9,836.4 2353.3,805.9 2353.7,838.9 2354.1,818.5 2354.5,837.8 2354.9,809.4 2355.4,821.4 2355.8,823.4 2356.2,818.1 2356.6,811.7 2357,819.5 2357.5,825.2 2357.9,822.4 2358.3,817.1 2358.7,814.4 2359.1,834.1 2359.5,844.8 2360,830.6 2360.4,841.2 2360.8,821.4 2361.2,822.5 2361.6,836.1 2362,823.5 2362.5,831.1 2362.9,844.8 2363.3,826.3 2363.7,828.6 2364.1,840.4 2364.6,837.8 2365,821.9 2365.4,831 2365.8,836 2366.2,844.3 2366.6,827.3 2367.1,831.7 2367.5,842.9 2367.9,817.1 2368.3,815.1 2368.7,817.8 2369.1,837.4 2369.6,809.5 2370,786.2 2370.4,809.5 2370.8,837.4 2371.2,824.5 2371.7,828.9 2372.1,837.1 2372.5,815.1 2372.9,833.1 2373.3,825.2 2373.7,827.1 2374.2,839 2374.6,811.7 2375,824.1 2375.4,823.8 2375.8,821.3 2376.2,830.1 2376.7,813.8 2377.1,829.2 2377.5,810.8 2377.9,788.4 2378.3,810.8 2378.8,837.7 2379.2,833.8 2379.6,831.8 2380,806.3 2380.4,822.1 2380.8,825.5 2381.3,819.8 2381.7,803.8 2382.1,832.9 2382.5,824.6 2382.9,822.1 2383.3,824.9 2383.8,818.5 2384.2,805.9 2384.6,817.5 2385,826.7 2385.4,821.8 2385.9,821.1 2386.3,830.7 2386.7,820.4 2387.1,827.9 2387.5,827.8 2387.9,810.9 2388.4,796.2 2388.8,827.7 2389.2,826.9 2389.6,807.7 2390,795 2390.4,813.1 2390.9,814.1 2391.3,798.4 2391.7,800.6 2392.1,804.3 2392.5,777.6 2392.9,804.3 2393.4,836.2 2393.8,832.9 2394.2,810.9 2394.6,814.2 2395,840.7 2395.5,810.8 2395.9,817.6 2396.3,835.6 2396.7,844.8 2397.1,831.4 2397.5,838 2398,838 2398.4,819 2398.8,825.3 2399.2,841.9 2399.6,821.2 2400,821.9 2400.5,830.5 2400.9,832.5 2401.3,825.5 2401.7,812 2402.1,838.5 2402.6,841.1 2403,816.3 2403.4,810.1 2403.8,825.5 2404.2,826.2 2404.6,836.3 2405.1,836.9 2405.5,813.4 2405.9,835.2 2406.3,832.3 2406.7,819.4 2407.1,803.4 2407.6,827.8 2408,810.4 2408.4,787.7 2408.8,810.4 2409.2,820.9 2409.7,830.6 2410.1,814 2410.5,829.8 2410.9,814.7 2411.3,823.5 2411.7,829.2 2412.2,808.3 2412.6,820.8 2413,811.7 2413.4,801.5 2413.8,816.7 2414.2,825.4 2414.7,825.6 2415.1,816.1 2415.5,830.1 2415.9,816.9 2416.3,821.3 2416.8,798.5 2417.2,825.2 2417.6,796.8 2418,815 2418.4,821.8 2418.8,802.7 2419.3,804.3 2419.7,804.8 2420.1,810.2 2420.5,836.5 2420.9,823.1 2421.3,801.2 2421.8,815.5 2422.2,809 2422.6,830.1 2423,800 2423.4,770.5 2423.9,800 2424.3,801.6 2424.7,808 2425.1,817.3 2425.5,806.9 2425.9,821.6 2426.4,831.8 2426.8,798.4 2427.2,811.8 2427.6,831.5 2428,826.2 2428.4,818.5 2428.9,830 2429.3,791.1 2429.7,805.1 2430.1,803.1 2430.5,799.8 2431,820.8 2431.4,798.2 2431.8,814.6 2432.2,780.3 2432.6,738.1 2433,780.3 2433.5,786.8 2433.9,798.1 2434.3,789.2 2434.7,776.3 2435.1,798.5 2435.5,808.5 2436,766.1 2436.4,762.4 2436.8,708.5 2437.2,762.4 2437.6,786.3 2438.1,770.5 2438.5,758.7 2438.9,768.2 2439.3,713.1 2439.7,627.3 2440.1,713.1 2440.6,788.9 2441,796.8 2441.4,779.3 2441.8,778.5 2442.2,753.1 2442.6,746.6 2443.1,785.7 2443.5,784.8 2443.9,749.5 2444.3,687.3 2444.7,749.5 2445.1,776.1 2445.6,788.1 2446,760.8 2446.4,788 2446.8,777.2 2447.2,801.8 2447.7,808.7 2448.1,793.7 2448.5,785.6 2448.9,791 2449.3,815.6 2449.7,779.1 2450.2,784.7 2450.6,780 2451,800.6 2451.4,794.5 2451.8,796.7 2452.2,821 2452.7,824.3 2453.1,818.9 2453.5,791.5 2453.9,828 2454.3,788.6 2454.8,751.7 2455.2,788.6 2455.6,789.7 2456,808.8 2456.4,819.1 2456.8,814.6 2457.3,809 2457.7,805.9 2458.1,820.8 2458.5,823.8 2458.9,816.2 2459.3,791.8 2459.8,823.2 2460.2,806.8 2460.6,789.1 2461,820 2461.4,791.4 2461.9,814.7 2462.3,801.6 2462.7,800.3 2463.1,791.6 2463.5,814 2463.9,821.5 2464.4,823.6 2464.8,793.9 2465.2,804 2465.6,796.9 2466,824.9 2466.4,795.2 2466.9,798.4 2467.3,807.7 2467.7,803.3 2468.1,809.2 2468.5,796 2469,800.5 2469.4,804.3 2469.8,777.6 2470.2,804.3 2470.6,817.5 2471,824.7 2471.5,818.1 2471.9,814.4 2472.3,825.8 2472.7,809.6 2473.1,804.8 2473.5,828.1 2474,822.4 2474.4,813.4 2474.8,826.8 2475.2,814 2475.6,825.5 2476.1,822.1 2476.5,834.2 2476.9,814.2 2477.3,817.2 2477.7,834.5 2478.1,836.3 2478.6,823.7 2479,819.4 2479.4,823 2479.8,827.2 2480.2,825.3 2480.6,813.6 2481.1,818.9 2481.5,819.6 2481.9,816 2482.3,832.4 2482.7,833.1 2483.2,818.6 2483.6,825.1 2484,816.2 2484.4,832.6 2484.8,814.9 2485.2,825.7 2485.7,826.2 2486.1,816.5 2486.5,821.4 2486.9,805.9 2487.3,808 2487.7,822 2488.2,810.6 2488.6,824.7 2489,813.2 2489.4,816.6 2489.8,806 2490.3,810.3 2490.7,810 2491.1,812.6 2491.5,818 2491.9,821 2492.3,820.9 2492.8,822.9 2493.2,828.1 2493.6,815.2 2494,820 2494.4,818.9 2494.8,801.6 2495.3,818.9 2495.7,815.9 2496.1,825.4 2496.5,831.9 2496.9,831.5 2497.3,823.6 2497.8,817.7 2498.2,825.1 2498.6,820.3 2499,822 2499.4,821.8 2499.9,825 2500.3,829.3 2500.7,822.2 2501.1,821.4 2501.5,826 2501.9,828.3 2502.4,828.6 2502.8,819.4 2503.2,821.5 2503.6,823.5 2504,819.9 2504.4,827.4 2504.9,818.7 2505.3,824.4 2505.7,824 2506.1,831.4 2506.5,824.2 2507,830.4 2507.4,823.2 2507.8,830.4 2508.2,832.2 2508.6,825.2 2509,830.7 2509.5,822.6 2509.9,828.9 2510.3,823.8 2510.7,825.2 2511.1,829.6 2511.5,828.5 2512,824.3 2512.4,833.4 2512.8,825.5 2513.2,829.6 2513.6,832.8 2514.1,836.4 2514.5,821.8 2514.9,833.1 2515.3,827.7 2515.7,835.9 2516.1,827 2516.6,825.2 2517,836.3 2517.4,830.5 2517.8,828.4 2518.2,823.4 2518.6,825.4 2519.1,836.1 2519.5,836.5 2519.9,838 2520.3,825.9 2520.7,834.7 2521.2,836.3 2521.6,833 2522,826.5 2522.4,835.1 2522.8,837.3 2523.2,833 2523.7,836.5 2524.1,829 2524.5,829.5 2524.9,836.2 2525.3,831.4 2525.7,833.1 2526.2,836.2 2526.6,827.9 2527,832.5 2527.4,835.4 2527.8,831.2 2528.3,830.9 2528.7,834 2529.1,825.2 2529.5,825.1 2529.9,839.2 2530.3,833.2 2530.8,831.4 2531.2,837.2 2531.6,829.5 2532,831.6 2532.4,835.1 2532.8,831.9 2533.3,836.5 2533.7,842.4 2534.1,830.6 2534.5,836.6 2534.9,844.8 2535.4,836.3 2535.8,844.5 2536.2,838.7 2536.6,832.4 2537,838.1 2537.4,838.1 2537.9,832.7 2538.3,832.9 2538.7,841.9 2539.1,841.7 2539.5,840.8 2539.9,841.7 2540.4,842.7 2540.8,832.7 2541.2,833.5 2541.6,844.7 2542,844.1 2542.5,831.6 2542.9,837.5 2543.3,836.7 2543.7,844.3 2544.1,844.5 2544.5,834.6 2545,838.8 2545.4,839 2545.8,835.4 2546.2,842.3 2546.6,843.2 2547,841.3 2547.5,840.6 2547.9,842.5 2548.3,838 2548.7,837.9 2549.1,829.3 2549.5,833.8 2550,835.3 2550.4,825.5 2550.8,824.4 2551.2,830.5 2551.6,825.3 2552.1,832.3 2552.5,825.9 2552.9,831.4 2553.3,832.1 2553.7,825 2554.1,831.2 2554.6,827.1 2555,822.7 2555.4,824.7 2555.8,829.5 2556.2,818.6 2556.6,830.6 2557.1,826.5 2557.5,830.7 2557.9,821.2 2558.3,831.3 2558.7,821.5 2559.2,816.7 2559.6,816.6 2560,800.1 2560.4,815.9 2560.8,830 2561.2,833.2 2561.7,833.5 2562.1,825 2562.5,828.6 2562.9,827 2563.3,834 2563.7,825.6 2564.2,830.6 2564.6,834.5 2565,838.4 2565.4,819.8 2565.8,826.4 2566.3,817.2 2566.7,834.7 2567.1,834.1 2567.5,827.5 2567.9,815.4 2568.3,828.3 2568.8,818.1 2569.2,829.3 2569.6,816.1 2570,830.6 2570.4,821.5 2570.8,813.5 2571.3,810.2 2571.7,824 2572.1,815.5 2572.5,815.4 2572.9,812.1 2573.4,814.5 2573.8,830.8 2574.2,825.4 2574.6,818.8 2575,821 2575.4,805.2 2575.9,826 2576.3,827.2 2576.7,805.8 2577.1,820.2 2577.5,823.4 2577.9,810.1 2578.4,807.5 2578.8,808.9 2579.2,824.3 2579.6,803.6 2580,807.5 2580.5,801.5 2580.9,809.1 2581.3,821.3 2581.7,804.3 2582.1,804 2582.5,815.8 2583,819.9 2583.4,810.9 2583.8,813.4 2584.2,815.5 2584.6,822.4 2585,808.9 2585.5,810 2585.9,818.2 2586.3,828.9 2586.7,813.3 2587.1,810.3 2587.6,829.6 2588,812.6 2588.4,810 2588.8,828.8 2589.2,818.7 2589.6,825.6 2590.1,815.9 2590.5,816.4 2590.9,824 2591.3,813.6 2591.7,832.5 2592.1,823.3 2592.6,819.4 2593,816.2 2593.4,819.2 2593.8,823.7 2594.2,818.9 2594.7,816.1 2595.1,821.5 2595.5,826.7 2595.9,810.5 2596.3,833.2 2596.7,825.3 2597.2,829.6 2597.6,816 2598,797 2598.4,816 2598.8,834.7 2599.2,836.9 2599.7,822.3 2600.1,820.4 2600.5,838.1 2600.9,840.8 2601.3,838.9 2601.7,825.6 2602.2,832.9 2602.6,832.2 2603,837.9 2603.4,835.9 2603.8,835.3 2604.3,839.8 2604.7,835.2 2605.1,841.1 2605.5,837.6 2605.9,835.5 2606.3,833.1 2606.8,833.9 2607.2,835.7 2607.6,831.7 2608,832.9 2608.4,832.2 2608.8,827.7 2609.3,828.7 2609.7,830.8 2610.1,830.6 2610.5,828.7 2610.9,831.9 2611.4,828.7 2611.8,829 2612.2,831.1 2612.6,833.1 2613,834 2613.4,832.4 2613.9,832.3 2614.3,833.3 2614.7,835.3 2615.1,840 2615.5,837.9 2615.9,839.8 2616.4,836.1 2616.8,839.1 2617.2,838.1 2617.6,842.4 2618,840.4 2618.5,840.2 2618.9,840.3 2619.3,837.3 2619.7,841.3 2620.1,842.1 2620.5,838.3 2621,839.3 2621.4,841.4 2621.8,836.7 2622.2,839.4 2622.6,842 2623,841.7 2623.5,839.1 2623.9,840.2 2624.3,840.5 2624.7,840.4 2625.1,837.1 2625.6,838.7 2626,837.1 2626.4,839.2 2626.8,840.1 2627.2,835.4 2627.6,840.3 2628.1,839.4 2628.5,838.1 2628.9,836.3 2629.3,838.3 2629.7,840.1 2630.1,839.2 2630.6,835.1 2631,836.2 2631.4,837.9 2631.8,834.4 2632.2,837.7 2632.7,834.4 2633.1,836.1 2633.5,836 2633.9,836.6 2634.3,835.4 2634.7,835.1 2635.2,837.5 2635.6,834 2636,835.3 2636.4,836.9 2636.8,835 2637.2,840.2 2637.7,835.9 2638.1,836.9 2638.5,838.3 2638.9,841.6 2639.3,839.5 2639.8,839.8 2640.2,838.6 2640.6,839.4 2641,841.5 2641.4,837.2 2641.8,837.7 2642.3,839.4 2642.7,836.4 2643.1,838.1 2643.5,840 2643.9,840.6 2644.3,835.4 2644.8,836.9 2645.2,836.6 2645.6,836.2 2646,838.3 2646.4,838.9 2646.9,837.7 2647.3,839.3 2647.7,837.5 2648.1,839 2648.5,840.8 2648.9,840.3 2649.4,835.4 2649.8,837.7 2650.2,836.8 2650.6,840.7 2651,839.5 2651.4,837.4 2651.9,839.9 2652.3,837.8 2652.7,840.9 2653.1,838.1 2653.5,839.4 2653.9,839.7 2654.4,835.1 2654.8,838.2 2655.2,838.8 2655.6,836.5 2656,836.4 2656.5,838 2656.9,836.5 2657.3,833.9 2657.7,838.8 2658.1,838.5 2658.5,838.9 2659,836.1 2659.4,837.7 2659.8,833.5 2660.2,833.4 2660.6,834.4 2661,836.7 2661.5,836.1 2661.9,838 2662.3,834.2 2662.7,835 2663.1,837.4 2663.6,839.5 2664,836.6 2664.4,835.6 2664.8,835.4 2665.2,837.5 2665.6,839.2 2666.1,836 2666.5,837.3 2666.9,837.8 2667.3,840.5 2667.7,836.4 2668.1,839 2668.6,836.4 2669,841.9 2669.4,838.5 2669.8,838.4 2670.2,836 2670.7,836 2671.1,837.1 2671.5,838.7 2671.9,836.8 2672.3,839.4 2672.7,836.1 2673.2,836.9 2673.6,837.5 2674,835.4 2674.4,835.5 2674.8,837.7 2675.2,832.6 2675.7,836.6 2676.1,833 2676.5,828.3 2676.9,817.3 2677.3,828.3 2677.8,830.3 2678.2,838.5 2678.6,834 2679,831.6 2679.4,828.2 2679.8,830.4 2680.3,827.2 2680.7,833.9 2681.1,830.9 2681.5,838.5 2681.9,834.6 2682.3,837.4 2682.8,826.1 2683.2,828.2 2683.6,826.1 2684,834 2684.4,827.5 2684.9,835.4 2685.3,829.8 2685.7,828.3 2686.1,827.8 2686.5,824 2686.9,832.8 2687.4,824.6 2687.8,827.7 2688.2,831.2 2688.6,822.7 2689,832.3 2689.4,830.7 2689.9,830.8 2690.3,825.7 2690.7,833.6 2691.1,822.8 2691.5,830.3 2692,832.9 2692.4,833.1 2692.8,822.2 2693.2,825.1 2693.6,827.6 2694,828.9 2694.5,821.7 2694.9,835 2695.3,827.8 2695.7,824 2696.1,821.1 2696.5,825 2697,824.8 2697.4,821.5 2697.8,821.1 2698.2,821.4 2698.6,828.7 2699.1,828.3 2699.5,818.2 2699.9,831.1 2700.3,823.7 2700.7,827 2701.1,821.2 2701.6,820.3 2702,830.2 2702.4,822.6 2702.8,831 2703.2,832.6 2703.6,832.3 2704.1,819.2 2704.5,830.8 2704.9,819 2705.3,813.7 2705.7,826.2 2706.1,820.8 2706.6,826.6 2707,830.9 2707.4,830.1 2707.8,832.4 2708.2,823 2708.7,825 2709.1,821.7 2709.5,831.5 2709.9,822.2 2710.3,822.4 2710.7,834.7 2711.2,829.6 2711.6,825.2 2712,836.7 2712.4,836.1 2712.8,828.4 2713.2,833.8 2713.7,835.8 2714.1,831.2 2714.5,839 2714.9,835.3 2715.3,837.4 2715.8,838.5 2716.2,837.1 2716.6,837 2717,837.6 2717.4,839.2 2717.8,841.1 2718.3,842 2718.7,843 2719.1,840.8 2719.5,838 2719.9,842 2720.3,843.7 2720.8,839.6 2721.2,840.8 2721.6,843.4 2722,842.2 2722.4,842.1 2722.9,839.7 2723.3,844.1 2723.7,842.5 2724.1,840.2 2724.5,840.4 2724.9,841.5 2725.4,839.5 2725.8,838.8 2726.2,838.2 2726.6,840.9 2727,836.9 2727.4,841.3 2727.9,838.4 2728.3,839.1 2728.7,837.6 2729.1,835.1 2729.5,835 2730,838.1 2730.4,837 2730.8,837.1 2731.2,840.1 2731.6,841.3 2732,839.8 2732.5,840.3 2732.9,838.7 2733.3,843.4 2733.7,842.2 2734.1,840.6 2734.5,838.5 2735,843.8 2735.4,842.6 2735.8,839 2736.2,843.7 2736.6,840.7 2737.1,840.5 2737.5,838 2737.9,840.2 2738.3,837.1 2738.7,838.8 2739.1,840.9 2739.6,837.8 2740,835.8 2740.4,839 2740.8,836.9 2741.2,840.1 2741.6,839.3 2742.1,838.5 2742.5,835.5 2742.9,837.2 2743.3,839 2743.7,838.7 2744.2,838.6 2744.6,836.2 2745,836.5 2745.4,836.2 2745.8,837.8 2746.2,842.5 2746.7,842 2747.1,838.2 2747.5,840.8 2747.9,841.5 2748.3,838.7 2748.7,840.5 2749.2,840.1 2749.6,838.8 2750,840.3 2750.4,841.6 2750.8,841.2 2751.3,844.7 2751.7,839.3 2752.1,841.6 2752.5,842.6 2752.9,842.5 2753.3,842.9 2753.8,842.8 2754.2,842.4 2754.6,838.8 2755,840.9 2755.4,838.6 2755.8,836.3 2756.3,837.6 2756.7,835.9 2757.1,839 2757.5,835.4 2757.9,837.9 2758.3,839.3 2758.8,834.5 2759.2,834.6 2759.6,836 2760,837.8 2760.4,835.2 2760.9,837.8 2761.3,833 2761.7,838.4 2762.1,838 2762.5,833 2762.9,832.8 2763.4,831.7 2763.8,835.4 2764.2,834.3 2764.6,833.9 2765,836.3 2765.4,830.9 2765.9,836.4 2766.3,830.7 2766.7,836.5 2767.1,832 2767.5,833.1 2768,836.9 2768.4,837.4 2768.8,836.3 2769.2,837.6 2769.6,835.9 2770,838.9 2770.5,840.3 2770.9,839.4 2771.3,841 2771.7,838.9 2772.1,838 2772.5,840.6 2773,835.8 2773.4,836.2 2773.8,839.9 2774.2,840.1 2774.6,839.9 2775.1,839.8 2775.5,835.8 2775.9,836.7 2776.3,834.9 2776.7,836.8 2777.1,834.9 2777.6,834.7 2778,836.7 2778.4,840.1 2778.8,836.9 2779.2,838.3 2779.6,835.6 2780.1,835.9 2780.5,839.9 2780.9,835.1 2781.3,836.6 2781.7,838.5 2782.2,840.8 2782.6,836.1 2783,840.3 2783.4,839.5 2783.8,841.1 2784.2,839.6 2784.7,836.7 2785.1,839.1 2785.5,840.7 2785.9,839 2786.3,839.6 2786.7,839.6 2787.2,838.7 2787.6,839.7 2788,841.1 2788.4,843.5 2788.8,838.4 2789.3,838.8 2789.7,843.2 2790.1,842.4 2790.5,843.5 2790.9,839.2 2791.3,842.7 2791.8,842.2 2792.2,840.6 2792.6,843.5 2793,843.1 2793.4,838.2 2793.8,839.9 2794.3,838.8 2794.7,838.4 2795.1,839.7 2795.5,836.9 2795.9,836.7 2796.4,837.4 2796.8,834.2 2797.2,835.8 2797.6,837.1 2798,837 2798.4,833 2798.9,836.4 2799.3,835.2 2799.7,834.1 2800.1,834.1 2800.5,835.7 2800.9,831.2 2801.4,832.5 2801.8,833.4 2802.2,832.7 2802.6,834.8 2803,834.7 2803.5,834.9 2803.9,838.9 2804.3,836.7 2804.7,835 2805.1,836.7 2805.5,837.3 2806,836.5 2806.4,838.2 2806.8,839.4 2807.2,838.6 2807.6,841.8 2808,838.5 2808.5,841.8 2808.9,838.4 2809.3,840.4 2809.7,839 2810.1,841.7 2810.5,837.7 2811,838.8 2811.4,840 2811.8,839.3 2812.2,836.3 2812.6,841.1 2813.1,840.2 2813.5,835.5 2813.9,839.5 2814.3,835.6 2814.7,839.1 2815.1,837.7 2815.6,838.6 2816,836.5 2816.4,836.9 2816.8,833.7 2817.2,839.5 2817.6,834.7 2818.1,836.8 2818.5,836.7 2818.9,837.7 2819.3,839.3 2819.7,838.9 2820.2,836.2 2820.6,840.3 2821,838.7 2821.4,838 2821.8,835.2 2822.2,839.7 2822.7,836.1 2823.1,837.5 2823.5,840.8 2823.9,839.8 2824.3,835.6 2824.7,840 2825.2,836.6 2825.6,839.8 2826,836.2 2826.4,840.5 2826.8,835.4 2827.3,839.6 2827.7,838.9 2828.1,841.1 2828.5,840.1 2828.9,836.9 2829.3,838.2 2829.8,836.4 2830.2,838.1 2830.6,840.4 2831,837.1 2831.4,841.5 2831.8,840.8 2832.3,839.7 2832.7,839.3 2833.1,840.1 2833.5,842.6 2833.9,841.1 2834.4,838 2834.8,839.8 2835.2,840.3 2835.6,839.5 2836,842.6 2836.4,842.4 2836.9,838.9 2837.3,840 2837.7,838.4 2838.1,840.9 2838.5,842 2838.9,840.7 2839.4,837.9 2839.8,841.7 2840.2,837.4 2840.6,827.4 2841,815.8 2841.5,827.4 2841.9,837.4 2842.3,838.5 2842.7,838.7 2843.1,836.4 2843.5,837.3 2844,835.2 2844.4,838.7 2844.8,834.3 2845.2,834.9 2845.6,836.3 2846,834.5 2846.5,839 2846.9,838.9 2847.3,835.8 2847.7,835.5 2848.1,840.5 2848.6,838.6 2849,837.8 2849.4,838.4 2849.8,837.1 2850.2,838.7 2850.6,839.1 2851.1,836.9 2851.5,840.2 2851.9,836.5 2852.3,836.7 2852.7,838.8 2853.1,841.8 2853.6,840 2854,842.4 2854.4,840.9 2854.8,839.9 2855.2,843.4 2855.7,838.7 2856.1,843.6 2856.5,839.9 2856.9,839.3 2857.3,838.9 2857.7,839.1 2858.2,841.3 2858.6,839.2 2859,842.6 2859.4,843.3 2859.8,840.8 2860.2,842.2 2860.7,839.6 2861.1,841.3 2861.5,842.2 2861.9,840.4 2862.3,842.5 2862.7,844.8 2863.2,842 2863.6,844.4 2864,844.8 2864.4,844 2864.8,841 2865.3,843.6 2865.7,841.6 2866.1,842.9 2866.5,843.7 2866.9,841 2867.3,839.3 2867.8,842.5 2868.2,838.2 2868.6,839.2 2869,837.6 2869.4,838.8 2869.8,838.9 2870.3,839.5 2870.7,837.4 2871.1,839.6 2871.5,836.1 2871.9,837.7 2872.4,836.3 2872.8,841.2 2873.2,838 2873.6,841.4 2874,841.1 2874.4,837.4 2874.9,837 2875.3,839.9 2875.7,841.2 2876.1,839.3 2876.5,842.3 2876.9,838 2877.4,842.9 2877.8,837.6 2878.2,841.7 2878.6,837.9 2879,837 2879.5,840.5 2879.9,838.7 2880.3,838.8 2880.7,836.4 2881.1,837.5 2881.5,839.9 2882,837.8 2882.4,837.4 2882.8,835.7 2883.2,839.5 2883.6,835.8 2884,834.5 2884.5,838.9 2884.9,837.6 2885.3,837.4 2885.7,838.8 2886.1,833.6 2886.6,834 2887,835.6 2887.4,836.6 2887.8,834.7 2888.2,834.5 2888.6,835.7 2889.1,838.1 2889.5,836.5 2889.9,834.3 2890.3,836.6 2890.7,835 2891.1,840.7 2891.6,840.3 2892,836.8 2892.4,841.5 2892.8,841.1 2893.2,839.1 2893.7,840 2894.1,839 2894.5,837.5 2894.9,839.3 2895.3,835.5 2895.7,836.7 2896.2,835.1 2896.6,840.2 2897,839 2897.4,838.1 2897.8,836.4 2898.2,839.1 2898.7,836.4 2899.1,835.4 2899.5,837.5 2899.9,834.5 2900.3,836.2 2900.8,836 2901.2,837.6 2901.6,840.6 2902,838.3 2902.4,842.2 2902.8,842 2903.3,842.7 2903.7,841.4 2904.1,843.5 2904.5,844.8 2904.9,844.8 2905.3,843.5 2905.8,844.8 2906.2,844.6 2906.6,842.6 2907,840 2907.4,840.4 2907.9,844.4 2908.3,839.6 2908.7,844.1 2909.1,839.7 2909.5,844.8 2909.9,843.4 2910.4,844 2910.8,844.3 2911.2,841.5 2911.6,843.5 2912,844.5 2912.4,844.8 2912.9,844.8 2913.3,841.1 2913.7,841.5 2914.1,842.9 2914.5,841 2914.9,841.2 2915.4,841.5 2915.8,844.5 2916.2,844.8 2916.6,840.6 2917,841.5 2917.5,841.4 2917.9,844.8 2918.3,840.8 2918.7,842.8 2919.1,844.6 2919.5,842.5 2920,840.6 2920.4,839.4 2920.8,840.9 2921.2,841.4 2921.6,838.5 2922,839.4 2922.5,839.8 2922.9,841.2 2923.3,836.8 2923.7,841.8 2924.1,841 2924.6,839.6 2925,839.4 2925.4,836.9 2925.8,836 2926.2,840.4 2926.6,841.6 2927.1,836.3 2927.5,840.8 2927.9,837.8 2928.3,839.9 2928.7,837.9 2929.1,842 2929.6,842.2 2930,841.1 2930.4,842.2 2930.8,842.8 2931.2,842.9 2931.7,841.1 2932.1,838.5 2932.5,842.9 2932.9,840.4 2933.3,840.8 2933.7,841.5 2934.2,841.4 2934.6,841.3 2935,840.9 2935.4,842.1 2935.8,841 2936.2,837.7 2936.7,841.6 2937.1,841.8 2937.5,841 2937.9,838.1 2938.3,840 2938.8,842.8 2939.2,840.6 2939.6,839.6 2940,840.3 2940.4,842.1 2940.8,837.6 2941.3,837.9 2941.7,842.5 2942.1,838.2 2942.5,840.8 2942.9,836.8 2943.3,838.9 2943.8,837.3 2944.2,839.6 2944.6,841.8 2945,841.3 2945.4,836.9 2945.9,837.3 2946.3,836.9 2946.7,841 2947.1,839.5 2947.5,840.3 2947.9,837.9 2948.4,838.9 2948.8,838.9 2949.2,839.2 2949.6,838.6 2950,836.4 2950.4,840.8 2950.9,835.2 2951.3,836.5 2951.7,835.6 2952.1,834.5 2952.5,837.3 2953,833.8 2953.4,834 2953.8,834.9 2954.2,837.5 2954.6,833.9 2955,835.1 2955.5,835.5 2955.9,832.7 2956.3,831.3 2956.7,830.8 2957.1,833.1 2957.5,833.8 2958,830.6 2958.4,832.8 2958.8,833.1 2959.2,836.1 2959.6,834.3 2960.1,836.2 2960.5,832.3 2960.9,834.6 2961.3,835.4 2961.7,833.8 2962.1,839.8 2962.6,840.3 2963,840.1 2963.4,837.2 2963.8,840.4 2964.2,838.1 2964.6,838.2 2965.1,841.9 2965.5,839.8 2965.9,837.8 2966.3,839 2966.7,838.2 2967.1,838.3 2967.6,839 2968,837.7 2968.4,836.6 2968.8,837.5 2969.2,834.3 2969.7,833.6 2970.1,836.8 2970.5,832 2970.9,834.7 2971.3,834.2 2971.7,833.6 2972.2,834.9 2972.6,832.3 2973,832.9 2973.4,834.5 2973.8,837 2974.2,833.8 2974.7,836.2 2975.1,837.1 2975.5,835.3 2975.9,836.3 2976.3,834.9 2976.8,834.9 2977.2,834.6 2977.6,834.9 2978,834.7 2978.4,838.6 2978.8,836.1 2979.3,834.9 2979.7,836.4 2980.1,839.8 2980.5,838.7 2980.9,837.4 2981.3,835.8 2981.8,837.8 2982.2,837.7 2982.6,841.7 2983,839.1 2983.4,836.5 2983.9,837 2984.3,838.1 2984.7,838 2985.1,836.5 2985.5,839.7 2985.9,840.4 2986.4,840 2986.8,833.9 2987.2,835.2 2987.6,835.2 2988,835.7 2988.4,833.1 2988.9,835.4 2989.3,831.4 2989.7,834.9 2990.1,834.6 2990.5,828.6 2991,830.7 2991.4,834.4 2991.8,835.9 2992.2,831.9 2992.6,837.4 2993,838.3 2993.5,836.2 2993.9,835.9 2994.3,838.4 2994.7,834.9 2995.1,836.5 2995.5,836 2996,837.3 2996.4,837.8 2996.8,842.1 2997.2,840 2997.6,837.7 2998.1,843.4 2998.5,841.9 2998.9,840.2 2999.3,840.4 2999.7,839.4 3000.1,842.2 3000.6,839.3 3001,843.6 3001.4,844.6 3001.8,840 3002.2,842.2 3002.6,844.2 3003.1,842.6 3003.5,842.8 3003.9,839.8 3004.3,841.4 3004.7,843.8 3005.2,842.5 3005.6,838.9 3006,840.5 3006.4,838.9 3006.8,837.5 3007.2,839 3007.7,838.7 3008.1,840.8 3008.5,839 3008.9,835.9 3009.3,835.9 3009.7,834.6 3010.2,834.3 3010.6,836.7 3011,834.3 3011.4,833.5 3011.8,833 3012.3,832.6 3012.7,838.3 3013.1,836.1 3013.5,836.8 3013.9,836.7 3014.3,833.4 3014.8,838.5 3015.2,832.8 3015.6,798.9 3016,768.7 3016.4,798.9 3016.8,832.9 3017.3,834.1 3017.7,842.3 3018.1,834.6 3018.5,843.4 3018.9,842.2 3019.3,837.6 3019.8,840.2 3020.2,840.9 3020.6,844.8 3021,840.2 3021.4,841.3 3021.9,844 3022.3,833.8 3022.7,839 3023.1,838 3023.5,841.3 3023.9,843.6 3024.4,836.1 3024.8,833 3025.2,832.5 3025.6,835.4 3026,833.4 3026.4,835 3026.9,832.9 3027.3,838.5 3027.7,839 3028.1,839.7 3028.5,833.9 3029,837.3 3029.4,829 3029.8,828.4 3030.2,829.1 3030.6,828.2 3031,831.4 3031.5,822.3 3031.9,826.7 3032.3,835.4 3032.7,826.4 3033.1,834.1 3033.5,829.9 3034,833.8 3034.4,831.7 3034.8,827.9 3035.2,827.8 3035.6,826 3036.1,830.4 3036.5,835 3036.9,829.5 3037.3,830.1 3037.7,835 3038.1,829.9 3038.6,828 3039,836.6 3039.4,833 3039.8,838.5 3040.2,832.5 3040.6,837.4 3041.1,833.6 3041.5,829.6 3041.9,837.7 3042.3,834.8 3042.7,834 3043.2,835.9 3043.6,832.2 3044,829.1 3044.4,827.5 3044.8,827.6 3045.2,835.7 3045.7,837.4 3046.1,833.3 3046.5,830.4 3046.9,837.5 3047.3,839.6 3047.7,832.6 3048.2,824.4 3048.6,832.6 3049,841.3 3049.4,832.6 3049.8,836.9 3050.3,831.7 3050.7,837.1 3051.1,839.1 3051.5,835.6 3051.9,839.3 3052.3,833.6 3052.8,838.6 3053.2,831.4 3053.6,841.1 3054,837.9 3054.4,833.7 3054.8,839.8 3055.3,836.3 3055.7,835 3056.1,828 3056.5,828.5 3056.9,838.3 3057.4,835.5 3057.8,832.5 3058.2,827.4 3058.6,829.7 3059,834.8 3059.4,836 3059.9,833.4 3060.3,836.7 3060.7,835.6 3061.1,834.1 3061.5,832.4 3061.9,839.9 3062.4,833 3062.8,835.6 3063.2,834 3063.6,837.6 3064,840.6 3064.5,839.9 3064.9,837.8 3065.3,836.1 3065.7,841.8 3066.1,835.3 3066.5,840.3 3067,840.3 3067.4,840.8 3067.8,837.6 3068.2,838.7 3068.6,835.9 3069,835.8 3069.5,839.1 3069.9,838.9 3070.3,835.5 3070.7,838.6 3071.1,833.3 3071.5,836.4 3072,834.8 3072.4,834.7 3072.8,836.2 3073.2,836.2 3073.6,839.2 3074.1,836.9 3074.5,835 3074.9,839 3075.3,838.9 3075.7,840.8 3076.1,838.6 3076.6,841.9 3077,840.1 3077.4,837.3 3077.8,842.2 3078.2,841.7 3078.6,839.3 3079.1,836.8 3079.5,838 3079.9,841 3080.3,837.3 3080.7,841 3081.2,837.7 3081.6,840.4 3082,838.8 3082.4,837.2 3082.8,838.9 3083.2,839.5 3083.7,839.6 3084.1,835.9 3084.5,833.5 3084.9,835.8 3085.3,836.1 3085.7,833.4 3086.2,834.7 3086.6,837.3 3087,835.9 3087.4,838.4 3087.8,836.6 3088.3,834.5 3088.7,837.2 3089.1,835.9 3089.5,836.1 3089.9,837.4 3090.3,836.1 3090.8,836.6 3091.2,838.4 3091.6,837.7 3092,836.6 3092.4,837.5 3092.8,836 3093.3,836.4 3093.7,834.9 3094.1,831.4 3094.5,835.1 3094.9,836.4 3095.4,836.1 3095.8,836.8 3096.2,835.8 3096.6,833.2 3097,836 3097.4,839.7 3097.9,838.4 3098.3,840 3098.7,838.9 3099.1,842 3099.5,838.2 3099.9,841.5 3100.4,841.1 3100.8,842.8 3101.2,839.8 3101.6,840.2 3102,841.2 3102.5,836.5 3102.9,837.6 3103.3,840.3 3103.7,837.9 3104.1,836.5 3104.5,838 3105,833 3105.4,832.6 3105.8,837.7 3106.2,836.7 3106.6,837 3107,833.7 3107.5,831.9 3107.9,837.4 3108.3,834.2 3108.7,834.2 3109.1,838.6 3109.6,839.3 3110,838.2 3110.4,839 3110.8,840.7 3111.2,836.4 3111.6,835.6 3112.1,835.6 3112.5,839.4 3112.9,836.5 3113.3,835.6 3113.7,835.3 3114.1,837.7 3114.6,835.8 3115,832.9 3115.4,833 3115.8,833.3 3116.2,836.6 3116.7,832.1 3117.1,835.1 3117.5,832.2 3117.9,830.5 3118.3,834.4 3118.7,832.9 3119.2,832.4 3119.6,831.4 3120,829.9 3120.4,834.8 3120.8,832.4 3121.2,830.6 3121.7,834.9 3122.1,835 3122.5,834.4 3122.9,834.1 3123.3,835.5 3123.7,833.5 3124.2,837.9 3124.6,838.3 3125,836.3 3125.4,836.7 3125.8,835.4 3126.3,835.9 3126.7,835 3127.1,836.5 3127.5,837.5 3127.9,835.7 3128.3,837.3 3128.8,834.2 3129.2,831.5 3129.6,827.9 3130,830.5 3130.4,820.2 3130.8,817.6 3131.3,821.9 3131.7,808.7 3132.1,812.6 3132.5,812.5 3132.9,825.9 3133.4,825.7 3133.8,809.8 3134.2,813.8 3134.6,823.9 3135,821.4 3135.4,814.3 3135.9,794.2 3136.3,812.3 3136.7,815.9 3137.1,818.7 3137.5,816.3 3137.9,815.4 3138.4,811 3138.8,815.9 3139.2,809 3139.6,820.7 3140,818.1 3140.5,812 3140.9,823.1 3141.3,810.9 3141.7,818.9 3142.1,821.4 3142.5,824.7 3143,825.8 3143.4,821 3143.8,823.5 3144.2,822.6 3144.6,829.9 3145,826.2 3145.5,832 3145.9,832.7 3146.3,834.5 3146.7,837.6 3147.1,835 3147.6,836.7 3148,838.7 3148.4,839.1 3148.8,837 3149.2,839.2 3149.6,836 3150.1,838 3150.5,836.8 3150.9,839.6 3151.3,838.7 3151.7,840.8 3152.1,836.7 3152.6,839.4 3153,838.1 3153.4,835.1 3153.8,839.7 3154.2,839.7 3154.7,839.8 3155.1,838.5 3155.5,838.3 3155.9,839 3156.3,839.1 3156.7,835.4 3157.2,838.1 3157.6,837.1 3158,839.9 3158.4,841 3158.8,838.4 3159.2,840.8 3159.7,836.5 3160.1,840.7 3160.5,836.3 3160.9,836.3 3161.3,839.2 3161.8,837.2 3162.2,837.6 3162.6,835.9 3163,837.6 3163.4,834.7 3163.8,837.5 3164.3,833.8 3164.7,835.3 3165.1,837.9 3165.5,836.2 3165.9,833.7 3166.3,835.4 3166.8,835.4 3167.2,834.2 3167.6,831 3168,834.2 3168.4,835.8 3168.9,834.3 3169.3,832.8 3169.7,836.4 3170.1,835.7 3170.5,838.3 3170.9,836 3171.4,839.7 3171.8,838.3 3172.2,837.8 3172.6,836.8 3173,836.4 3173.4,837.4 3173.9,838.6 3174.3,842.1 3174.7,838.7 3175.1,836.6 3175.5,840.9 3175.9,836.8 3176.4,837 3176.8,836.9 3177.2,839.2 3177.6,840.5 3178,835.8 3178.5,839.5 3178.9,839.5 3179.3,840.5 3179.7,839 3180.1,836.2 3180.5,836 3181,837.7 3181.4,834.2 3181.8,835 3182.2,835.5 3182.6,838.7 3183,839.4 3183.5,839.3 3183.9,839.4 3184.3,834.2 3184.7,828.4 3185.1,833.7 3185.6,837.3 3186,839.3 3186.4,838.1 3186.8,835.4 3187.2,837.8 3187.6,837.5 3188.1,837.3 3188.5,841.1 3188.9,840.4 3189.3,840.3 3189.7,840.6 3190.1,841.1 3190.6,840.8 3191,837.2 3191.4,840.8 3191.8,837.3 3192.2,839.7 3192.7,836.3 3193.1,839.5 3193.5,837.5 3193.9,834.9 3194.3,840.1 3194.7,839.4 3195.2,834.5 3195.6,835.3 3196,838.6 3196.4,838.6 3196.8,835 3197.2,839 3197.7,836 3198.1,833.5 3198.5,836.7" fill="none" stroke="#0072BD" stroke-width="4.25" stroke-linejoin="round" stroke-linecap="round"/>
<line x1="588.7" y1="1067.3" x2="1632.3" y2="1067.3" stroke="#262626" stroke-width="4.25" stroke-linecap="square"/>
<line x1="588.7" y1="1346.6" x2="1632.3" y2="1346.6" stroke="#262626" stroke-width="4.25" stroke-linecap="square"/>
<line x1="588.7" y1="1067.3" x2="588.7" y2="1346.6" stroke="#262626" stroke-width="4.25" stroke-linecap="square"/>
<line x1="1632.3" y1="1067.3" x2="1632.3" y2="1346.6" stroke="#262626" stroke-width="4.25" stroke-linecap="square"/>
<line x1="788.6" y1="1346.6" x2="788.6" y2="1333.9" stroke="#262626" stroke-width="4.25" stroke-linecap="butt"/>
<line x1="788.6" y1="1067.3" x2="788.6" y2="1080" stroke="#262626" stroke-width="4.25" stroke-linecap="butt"/>
<text x="786.3" y="1413.8" font-size="58.4" fill="#262626" text-anchor="middle" font-weight="normal">100</text>
<line x1="999.6" y1="1346.6" x2="999.6" y2="1333.9" stroke="#262626" stroke-width="4.25" stroke-linecap="butt"/>
<line x1="999.6" y1="1067.3" x2="999.6" y2="1080" stroke="#262626" stroke-width="4.25" stroke-linecap="butt"/>
<text x="997.3" y="1413.8" font-size="58.4" fill="#262626" text-anchor="middle" font-weight="normal">200</text>
<line x1="1210.5" y1="1346.6" x2="1210.5" y2="1333.9" stroke="#262626" stroke-width="4.25" stroke-linecap="butt"/>
<line x1="1210.5" y1="1067.3" x2="1210.5" y2="1080" stroke="#262626" stroke-width="4.25" stroke-linecap="butt"/>
<text x="1208.2" y="1413.8" font-size="58.4" fill="#262626" text-anchor="middle" font-weight="normal">300</text>
<line x1="1421.4" y1="1346.6" x2="1421.4" y2="1333.9" stroke="#262626" stroke-width="4.25" stroke-linecap="butt"/>
<line x1="1421.4" y1="1067.3" x2="1421.4" y2="1080" stroke="#262626" stroke-width="4.25" stroke-linecap="butt"/>
<text x="1419.1" y="1413.8" font-size="58.4" fill="#262626" text-anchor="middle" font-weight="normal">400</text>
<text x="1630" y="1413.8" font-size="58.4" fill="#262626" text-anchor="middle" font-weight="normal">500</text>
<text x="564.7" y="1366.6" font-size="58.4" fill="#262626" text-anchor="end" font-weight="normal">0</text>
<line x1="588.7" y1="1113.8" x2="601.4" y2="1113.8" stroke="#262626" stroke-width="4.25" stroke-linecap="butt"/>
<line x1="1632.3" y1="1113.8" x2="1619.6" y2="1113.8" stroke="#262626" stroke-width="4.25" stroke-linecap="butt"/>
<text x="564.7" y="1133.8" font-size="58.4" fill="#262626" text-anchor="end" font-weight="normal">5</text>
<text x="1103.8" y="1488" font-size="58.4" fill="#262626" text-anchor="middle" font-weight="normal">Confocal frequency (Hz)</text>
<text x="507" y="1355.8" font-size="58.4" fill="#262626" text-anchor="start" font-weight="normal" transform="rotate(-90 507 1355.8)">PSD<tspan font-size="32.2" dy="-18">1/2</tspan><tspan dy="18" dx="1.5"> (nm)</tspan></text>
<text x="611.2" y="1131.8" font-size="83.3" font-weight="bold" fill="#000000">e</text>
<line x1="2154.5" y1="1067.3" x2="3198.5" y2="1067.3" stroke="#262626" stroke-width="4.25" stroke-linecap="square"/>
<line x1="2154.5" y1="1346.6" x2="3198.5" y2="1346.6" stroke="#262626" stroke-width="4.25" stroke-linecap="square"/>
<line x1="2154.5" y1="1067.3" x2="2154.5" y2="1346.6" stroke="#262626" stroke-width="4.25" stroke-linecap="square"/>
<line x1="3198.5" y1="1067.3" x2="3198.5" y2="1346.6" stroke="#262626" stroke-width="4.25" stroke-linecap="square"/>
<line x1="2354.5" y1="1346.6" x2="2354.5" y2="1333.9" stroke="#262626" stroke-width="4.25" stroke-linecap="butt"/>
<line x1="2354.5" y1="1067.3" x2="2354.5" y2="1080" stroke="#262626" stroke-width="4.25" stroke-linecap="butt"/>
<text x="2356.2" y="1413.8" font-size="58.4" fill="#262626" text-anchor="middle" font-weight="normal">100</text>
<line x1="2565.5" y1="1346.6" x2="2565.5" y2="1333.9" stroke="#262626" stroke-width="4.25" stroke-linecap="butt"/>
<line x1="2565.5" y1="1067.3" x2="2565.5" y2="1080" stroke="#262626" stroke-width="4.25" stroke-linecap="butt"/>
<text x="2567.2" y="1413.8" font-size="58.4" fill="#262626" text-anchor="middle" font-weight="normal">200</text>
<line x1="2776.5" y1="1346.6" x2="2776.5" y2="1333.9" stroke="#262626" stroke-width="4.25" stroke-linecap="butt"/>
<line x1="2776.5" y1="1067.3" x2="2776.5" y2="1080" stroke="#262626" stroke-width="4.25" stroke-linecap="butt"/>
<text x="2778.2" y="1413.8" font-size="58.4" fill="#262626" text-anchor="middle" font-weight="normal">300</text>
<line x1="2987.5" y1="1346.6" x2="2987.5" y2="1333.9" stroke="#262626" stroke-width="4.25" stroke-linecap="butt"/>
<line x1="2987.5" y1="1067.3" x2="2987.5" y2="1080" stroke="#262626" stroke-width="4.25" stroke-linecap="butt"/>
<text x="2989.2" y="1413.8" font-size="58.4" fill="#262626" text-anchor="middle" font-weight="normal">400</text>
<text x="3200.2" y="1413.8" font-size="58.4" fill="#262626" text-anchor="middle" font-weight="normal">500</text>
<text x="2130.5" y="1366.6" font-size="58.4" fill="#262626" text-anchor="end" font-weight="normal">0</text>
<line x1="2154.5" y1="1113.8" x2="2167.2" y2="1113.8" stroke="#262626" stroke-width="4.25" stroke-linecap="butt"/>
<line x1="3198.5" y1="1113.8" x2="3185.8" y2="1113.8" stroke="#262626" stroke-width="4.25" stroke-linecap="butt"/>
<text x="2130.5" y="1133.8" font-size="58.4" fill="#262626" text-anchor="end" font-weight="normal">5</text>
<text x="2675.5" y="1488" font-size="58.4" fill="#262626" text-anchor="middle" font-weight="normal">Confocal frequency (Hz)</text>
<text x="2072.8" y="1356.6" font-size="58.4" fill="#262626" text-anchor="start" font-weight="normal" transform="rotate(-90 2072.8 1356.6)">PSD<tspan font-size="32.2" dy="-18">1/2</tspan><tspan dy="18" dx="1.5"> (nm)</tspan></text>
<text x="2177" y="1131.8" font-size="83.3" font-weight="bold" fill="#000000">f</text>
<polyline points="587.5,1254.6 588.5,1244.5 589.5,1235.7 590.5,1229.3 591.5,1226.4 592.5,1226.4 593.5,1226.6 594.5,1226.8 595.5,1227.1 596.5,1227.7 597.5,1229.3 598.5,1231.7 599.5,1234.8 600.5,1236.3 601.5,1240.4 602.5,1249.5 603.5,1255 604.5,1254.6 605.5,1254.1 606.5,1257 607.5,1265.2 608.5,1273.1 609.5,1274.9 610.5,1271.8 611.5,1267.2 612.5,1264.3 613.5,1262.5 614.5,1261.1 615.5,1262.4 616.5,1269.2 617.5,1276.4 618.5,1278.6 619.5,1278 620.5,1277.4 621.5,1276.9 622.5,1278 623.5,1282 624.5,1286.8 625.5,1289.5 626.5,1288.6 627.5,1286.8 628.5,1285.7 629.5,1284.2 630.5,1284.1 631.5,1286.1 632.5,1288.5 633.5,1290.7 634.5,1293 635.5,1295 636.5,1295.5 637.5,1293.9 638.5,1291.5 639.5,1289.8 640.5,1289.6 641.5,1289.7 642.5,1290.7 643.5,1292 644.5,1293.4 645.5,1294.5 646.5,1295.3 647.5,1295.7 648.5,1294.6 649.5,1292.8 650.5,1292.1 651.5,1292.1 652.5,1291.5 653.5,1293.2 654.5,1296.4 655.5,1299.2 656.5,1300.5 657.5,1301.9 658.5,1303 659.5,1301.9 660.5,1299.7 661.5,1298.9 662.5,1299.8 663.5,1299.6 664.5,1297.8 665.5,1296 666.5,1294.7 667.5,1296.4 668.5,1299.5 669.5,1301.9 670.5,1304.8 671.5,1306.3 672.5,1305.5 673.5,1305.8 674.5,1307 675.5,1306.8 676.5,1305.3 677.5,1304.4 678.5,1304.6 679.5,1306.6 680.5,1309.9 681.5,1312.2 682.5,1312.3 683.5,1311.1 684.5,1308.8 685.5,1305.9 686.5,1302.8 687.5,1300.6 688.5,1300.2 689.5,1300.3 690.5,1301.2 691.5,1302.5 692.5,1303.7 693.5,1305.5 694.5,1307.3 695.5,1308.7 696.5,1309.6 697.5,1310.7 698.5,1310.9 699.5,1309.8 700.5,1308.9 701.5,1309 702.5,1308.3 703.5,1307.7 704.5,1308.7 705.5,1311.1 706.5,1313.3 707.5,1314.9 708.5,1315.8 709.5,1316 710.5,1315.5 711.5,1314 712.5,1312.3 713.5,1310.9 714.5,1312.1 715.5,1314.8 716.5,1317.1 717.5,1319.3 718.5,1319.8 719.5,1319.2 720.5,1319 721.5,1318.9 722.5,1318.6 723.5,1319 724.5,1320 725.5,1320.2 726.5,1318.4 727.5,1315.3 728.5,1312.6 729.5,1312.3 730.5,1314.2 731.5,1316.8 732.5,1318.9 733.5,1320.1 734.5,1319.8 735.5,1317.8 736.5,1317 737.5,1316.8 738.5,1315.7 739.5,1315.5 740.5,1316.1 741.5,1317.4 742.5,1318.6 743.5,1319.3 744.5,1319.4 745.5,1318.6 746.5,1317.6 747.5,1317.3 748.5,1316.6 749.5,1316.2 750.5,1316.2 751.5,1316.7 752.5,1317.1 753.5,1317.8 754.5,1318.8 755.5,1320.1 756.5,1322.2 759.4,1321 760.5,1321.9 761.5,1322.2 762.6,1321.6 763.6,1320.5 764.7,1319.5 765.7,1318.7 766.8,1318.3 767.8,1318.6 768.9,1319.4 770,1320.6 771,1321.5 772.1,1321.8 773.1,1321.4 774.2,1320.6 775.2,1319.6 776.3,1318.8 777.3,1318.4 778.4,1318.4 779.4,1318.8 780.5,1319.2 781.6,1319.5 782.6,1319.7 783.7,1319.9 784.7,1320 785.8,1320 786.8,1320.2 787.9,1320.5 788.9,1320.8 790,1321 791,1321.2 792.1,1321.2 793.2,1321.1 794.2,1320.8 795.3,1320.4 796.3,1319.8 797.4,1319.2 798.4,1318.5 799.5,1318.1 800.5,1318.3 801.6,1319 802.6,1320 803.7,1321 804.8,1321.6 805.8,1321.9 806.9,1321.9 807.9,1322 809,1322.3 810,1322.6 811.1,1322.7 812.1,1322.6 813.2,1322.5 814.2,1322.4 815.3,1322.3 816.4,1322.3 817.4,1322.4 818.5,1322.6 819.5,1322.8 820.6,1322.7 821.6,1322.6 822.7,1322.6 823.7,1322.6 824.8,1322.4 825.8,1322.1 826.9,1321.8 828,1321.4 829,1320.9 830.1,1320.3 831.1,1319.8 832.2,1319.9 833.2,1320.3 834.3,1320.9 835.3,1321.3 836.4,1321.4 837.4,1321.6 838.5,1322.3 839.6,1323.3 840.6,1324.3 841.7,1325.1 842.7,1325.4 843.8,1325.2 844.8,1324.8 845.9,1324 846.9,1322.9 848,1321.8 849,1320.9 850.1,1320.6 851.2,1321 852.2,1322.1 853.3,1323.3 854.3,1324 855.4,1324.1 856.4,1323.6 857.5,1323 858.5,1322.3 859.6,1321.5 860.6,1320.7 861.7,1320.3 862.8,1320.6 863.8,1321.4 864.9,1322.3 865.9,1322.9 867,1323.1 868,1323 869.1,1322.7 870.1,1322.4 871.2,1322.2 872.2,1322.1 873.3,1321.9 874.4,1321.8 875.4,1321.6 876.5,1321.5 877.5,1321.4 878.6,1321.3 879.6,1321.3 880.7,1321.6 881.7,1322.3 882.8,1322.9 883.8,1323 884.9,1322.5 886,1321.8 887,1321.1 888.1,1320.6 889.1,1320.3 890.2,1320.3 891.2,1320.5 892.3,1321.3 893.3,1322.3 894.4,1323.3 895.4,1323.8 896.5,1323.8 897.6,1323.4 898.6,1323.3 899.7,1323.7 900.7,1324.5 901.8,1325 902.8,1324.7 903.9,1323.9 904.9,1323.1 906,1322.8 907,1323 908.1,1323.7 909.2,1324.2 910.2,1324.6 911.3,1324.5 912.3,1324.3 913.4,1324.2 914.4,1324.4 915.5,1324.8 916.5,1324.9 917.6,1324.5 918.6,1324 919.7,1323.7 920.8,1323.7 921.8,1323.7 922.9,1323.5 923.9,1323.3 925,1323.4 926,1323.8 927.1,1324.3 928.1,1324.4 929.2,1323.9 930.2,1322.8 931.3,1321.5 932.4,1320.6 933.4,1320.4 934.5,1320.9 935.5,1322 936.6,1323.1 937.6,1323.8 938.7,1323.9 939.7,1323.7 940.8,1323.3 941.8,1322.9 942.9,1322.9 944,1323.2 945,1324 946.1,1324.5 947.1,1324.5 948.2,1323.5 949.2,1322.1 950.3,1320.9 951.3,1320.3 952.4,1320.6 953.4,1321.5 954.5,1322.3 955.6,1322.6 956.6,1322.3 957.7,1321.5 958.7,1320.7 959.8,1320.4 960.8,1320.7 961.9,1321.5 962.9,1322.3 964,1322.8 965,1323.1 966.1,1323.2 967.2,1323.5 968.2,1323.8 969.3,1324.1 970.3,1324.3 971.4,1324.3 972.4,1323.9 973.5,1323.3 974.5,1322.8 975.6,1322.6 976.6,1322.4 977.7,1322 978.8,1321.3 979.8,1320.6 980.9,1320.3 981.9,1320.6 983,1321.2 984,1322.2 985.1,1323.2 986.1,1324 987.2,1324.6 988.2,1324.6 989.3,1324.4 990.4,1323.9 991.4,1323.3 992.5,1322.8 993.5,1322.5 994.6,1322.4 995.6,1322.4 996.7,1322.7 997.7,1323 998.8,1323.3 999.9,1323.4 1000.9,1323.1 1002,1322.9 1003,1322.9 1004.1,1323 1005.1,1323.1 1006.2,1323.1 1007.2,1323.1 1008.3,1323.3 1009.3,1323.8 1010.4,1324.3 1011.5,1324.6 1012.5,1324.4 1013.6,1323.8 1014.6,1323.2 1015.7,1322.8 1016.7,1322.5 1017.8,1322.4 1018.8,1322.5 1019.9,1322.6 1020.9,1322.6 1022,1322.5 1023.1,1322.3 1024.1,1322.2 1025.2,1322.3 1026.2,1322.5 1027.3,1322.5 1028.3,1322.4 1029.4,1322.2 1030.4,1322.1 1031.5,1322.1 1032.5,1322.3 1033.6,1322.6 1034.7,1323 1035.7,1323.3 1036.8,1323.5 1037.8,1323.7 1038.9,1323.7 1039.9,1323.9 1041,1324.2 1042,1324.5 1043.1,1324.7 1044.1,1324.7 1045.2,1324.6 1046.3,1324.4 1047.3,1324 1048.4,1323.7 1049.4,1323.4 1050.5,1322.9 1051.5,1322.4 1052.6,1322.1 1053.6,1322.4 1054.7,1323 1055.7,1323.8 1056.8,1324.2 1057.9,1324.1 1058.9,1323.7 1060,1323.5 1061,1323.4 1062.1,1323.3 1063.1,1323.3 1064.2,1323.2 1065.2,1323.3 1066.3,1323.4 1067.3,1323.3 1068.4,1322.9 1069.5,1321.9 1070.5,1320.6 1071.6,1319.5 1072.6,1319 1073.7,1319.3 1074.7,1320.3 1075.8,1321.8 1076.8,1323.1 1077.9,1323.9 1078.9,1323.9 1080,1323.5 1081.1,1323.3 1082.1,1323.8 1083.2,1324.8 1084.2,1325.9 1085.3,1326.7 1086.3,1327 1087.4,1326.9 1088.4,1326.6 1089.5,1326 1090.5,1325.2 1091.6,1324.3 1092.7,1323.6 1093.7,1323 1094.8,1322.8 1095.8,1322.8 1096.9,1323 1097.9,1323.6 1099,1324.1 1100,1324.4 1101.1,1324.3 1102.1,1324 1103.2,1323.9 1104.3,1324 1105.3,1324.1 1106.4,1323.8 1107.4,1323.2 1108.5,1322.6 1109.5,1322.4 1110.6,1322.6 1111.6,1323.2 1112.7,1323.8 1113.7,1324.4 1114.8,1324.8 1115.9,1324.9 1116.9,1324.7 1118,1324.5 1119,1324.3 1120.1,1324.3 1121.1,1324.2 1122.2,1323.9 1123.2,1323.2 1124.3,1322.2 1125.3,1321.3 1126.4,1320.9 1127.5,1320.8 1128.5,1321.1 1129.6,1321.4 1130.6,1321.7 1131.7,1322 1132.7,1322.2 1133.8,1322.3 1134.8,1322.4 1135.9,1322.5 1136.9,1322.5 1138,1322.5 1139.1,1322.4 1140.1,1322.4 1141.2,1322.8 1142.2,1323.5 1143.3,1324.2 1144.3,1324.8 1145.4,1325.5 1146.4,1326 1147.5,1326.2 1148.5,1325.6 1149.6,1324.5 1150.7,1323.3 1151.7,1322.5 1152.8,1322.1 1153.8,1321.7 1154.9,1321 1155.9,1320.3 1157,1319.8 1158,1319.8 1159.1,1320.3 1160.1,1321 1161.2,1321.6 1162.3,1322 1163.3,1322.3 1164.4,1322.8 1165.4,1323.4 1166.5,1323.8 1167.5,1323.8 1168.6,1323.4 1169.6,1323 1170.7,1322.7 1171.7,1322.2 1172.8,1321.8 1173.9,1321.4 1174.9,1321.2 1176,1321.1 1177,1321.2 1178.1,1321.6 1179.1,1322.2 1180.2,1322.9 1181.2,1323.5 1182.3,1323.6 1183.3,1323 1184.4,1321.7 1185.5,1320.2 1186.5,1319.2 1187.6,1319.2 1188.6,1320.3 1189.7,1321.7 1190.7,1322.8 1191.8,1323.4 1192.8,1323.5 1193.9,1323.4 1194.9,1323.4 1196,1323.7 1197.1,1324.2 1198.1,1324.3 1199.2,1323.8 1200.2,1322.9 1201.3,1322.2 1202.3,1322.1 1203.4,1322.6 1204.4,1323.3 1205.5,1323.6 1206.5,1323.6 1207.6,1323.5 1208.7,1323.5 1209.7,1323.6 1210.8,1323.8 1211.8,1324.1 1212.9,1324.5 1213.9,1324.6 1215,1324.4 1216,1324.2 1217.1,1324.4 1218.1,1325 1219.2,1325.5 1220.3,1325.5 1221.3,1325.1 1222.4,1324.8 1223.4,1324.8 1224.5,1325.2 1225.5,1325.9 1226.6,1326.8 1227.6,1327.7 1228.7,1328.3 1229.7,1328.1 1230.8,1327.2 1231.9,1326.4 1232.9,1326.2 1234,1326.5 1235,1327.3 1236.1,1328 1237.1,1328.4 1238.2,1328.3 1239.2,1327.8 1240.3,1327.1 1241.3,1326.3 1242.4,1325.4 1243.5,1324.6 1244.5,1323.9 1245.6,1323.6 1246.6,1323.6 1247.7,1323.9 1248.7,1324.4 1249.8,1324.9 1250.8,1325.2 1251.9,1325.3 1252.9,1325.3 1254,1325.4 1255.1,1326.1 1256.1,1327.2 1257.2,1328.3 1258.2,1328.9 1259.3,1328.9 1260.3,1328.1 1261.4,1326.8 1262.4,1325.1 1263.5,1323.4 1264.5,1322.3 1265.6,1322 1266.7,1322.4 1267.7,1323 1268.8,1323.6 1269.8,1323.8 1270.9,1323.8 1271.9,1323.6 1273,1323.4 1274,1323.7 1275.1,1324.9 1276.1,1326.9 1277.2,1328.7 1278.3,1329.5 1279.3,1329.2 1280.4,1328.1 1281.4,1327.1 1282.5,1326.4 1283.5,1326 1284.6,1325.5 1285.6,1324.7 1286.7,1323.8 1287.7,1323.2 1288.8,1323.2 1289.9,1323.6 1290.9,1324.1 1292,1324.5 1293,1324.7 1294.1,1325 1295.1,1325.3 1296.2,1325.7 1297.2,1326.1 1298.3,1326.3 1299.3,1326.4 1300.4,1326.5 1301.5,1327 1302.5,1327.7 1303.6,1328.3 1304.6,1328.5 1305.7,1328.2 1306.7,1327.7 1307.8,1327.1 1308.8,1326.3 1309.9,1325.3 1310.9,1324.4 1312,1323.9 1313.1,1324 1314.1,1324.7 1315.2,1325.4 1316.2,1326.1 1317.3,1326.4 1318.3,1326.5 1319.4,1326.5 1320.4,1326.5 1321.5,1326.4 1322.5,1326.4 1323.6,1326.3 1324.7,1325.9 1325.7,1325.1 1326.8,1324 1327.8,1323.2 1328.9,1322.9 1329.9,1322.9 1331,1323.2 1332,1323.8 1333.1,1324.6 1334.1,1325.6 1335.2,1326.4 1336.3,1326.7 1337.3,1326.7 1338.4,1326.6 1339.4,1326.3 1340.5,1326 1341.5,1325.5 1342.6,1325 1343.6,1324.8 1344.7,1324.9 1345.7,1325.1 1346.8,1325.7 1347.9,1326.3 1348.9,1327.1 1350,1327.5 1351,1327.5 1352.1,1327.1 1353.1,1326.6 1354.2,1326.3 1355.2,1326.4 1356.3,1326.5 1357.3,1326.7 1358.4,1326.9 1359.5,1327.3 1360.5,1327.8 1361.6,1328.4 1362.6,1328.5 1363.7,1328.1 1364.7,1327.1 1365.8,1326 1366.8,1325 1367.9,1324.5 1368.9,1324.6 1370,1325.2 1371.1,1326 1372.1,1326.9 1373.2,1327.8 1374.2,1328.5 1375.3,1329.1 1376.3,1329.5 1377.4,1329.4 1378.4,1329.2 1379.5,1329 1380.5,1329.3 1381.6,1329.8 1382.7,1330.3 1383.7,1330.5 1384.8,1330.3 1385.8,1329.7 1386.9,1328.5 1387.9,1327.2 1389,1326 1390,1325.3 1391.1,1325.3 1392.1,1325.7 1393.2,1326.1 1394.3,1326.5 1395.3,1326.9 1396.4,1327.3 1397.4,1327.5 1398.5,1327.5 1399.5,1327.2 1400.6,1327 1401.6,1326.9 1402.7,1326.8 1403.7,1326.7 1404.8,1326.5 1405.9,1326.5 1406.9,1326.8 1408,1327.2 1409,1327.6 1410.1,1327.8 1411.1,1328.1 1412.2,1328.2 1413.2,1327.9 1414.3,1327.4 1415.3,1327 1416.4,1326.9 1417.5,1327.3 1418.5,1327.9 1419.6,1328.5 1420.6,1329.1 1421.7,1329.4 1422.7,1329.1 1423.8,1328.4 1424.8,1327.7 1425.9,1327.5 1426.9,1327.9 1428,1328.6 1429.1,1329.2 1430.1,1329.5 1431.2,1329.6 1432.2,1329.5 1433.3,1329.3 1434.3,1328.9 1435.4,1328.2 1436.4,1327.6 1437.5,1327.2 1438.6,1327.2 1439.6,1327.5 1440.7,1328.1 1441.7,1328.9 1442.8,1329.7 1443.8,1330.3 1444.9,1330.3 1445.9,1329.8 1447,1329.1 1448,1329 1449.1,1329.4 1450.2,1329.9 1451.2,1330.2 1452.3,1329.9 1453.3,1329.3 1454.4,1328.5 1455.4,1327.8 1456.5,1327.4 1457.5,1327.4 1458.6,1327.6 1459.6,1327.9 1460.7,1328.1 1461.8,1328.4 1462.8,1328.6 1463.9,1328.8 1464.9,1328.8 1466,1328.6 1467,1327.8 1468.1,1326.7 1469.1,1325.6 1470.2,1325.3 1471.2,1325.8 1472.3,1326.8 1473.4,1327.8 1474.4,1328.3 1475.5,1328.3 1476.5,1328 1477.6,1327.9 1478.6,1328.2 1479.7,1328.6 1480.7,1328.8 1481.8,1328.5 1482.8,1327.8 1483.9,1327.3 1485,1327.3 1486,1327.8 1487.1,1328.5 1488.1,1329.2 1489.2,1329.8 1490.2,1330.5 1491.3,1331.2 1492.3,1331.6 1493.4,1331.2 1494.4,1330.3 1495.5,1329.4 1496.6,1328.8 1497.6,1328.5 1498.7,1328.6 1499.7,1329.1 1500.8,1329.9 1501.8,1331 1502.9,1332.1 1503.9,1332.8 1505,1332.9 1506,1332.4 1507.1,1331.4 1508.2,1330.3 1509.2,1329.8 1510.3,1330 1511.3,1330.8 1512.4,1331.5 1513.4,1331.6 1514.5,1331.2 1515.5,1330.4 1516.6,1329.7 1517.6,1329.4 1518.7,1329.5 1519.8,1329.7 1520.8,1329.9 1521.9,1330.1 1522.9,1330.4 1524,1330.4 1525,1329.8 1526.1,1328.5 1527.1,1327.3 1528.2,1326.9 1529.2,1327.4 1530.3,1328.3 1531.4,1329 1532.4,1329.6 1533.5,1330 1534.5,1330.3 1535.6,1330.2 1536.6,1330 1537.7,1329.9 1538.7,1330.1 1539.8,1330.4 1540.8,1330.3 1541.9,1329.9 1543,1329.3 1544,1329.1 1545.1,1329.1 1546.1,1329.3 1547.2,1329.6 1548.2,1329.8 1549.3,1329.8 1550.3,1329.6 1551.4,1329.2 1552.4,1328.6 1553.5,1328.3 1554.6,1328.2 1555.6,1328.6 1556.7,1329.6 1557.7,1330.7 1558.8,1331.3 1559.8,1331.4 1560.9,1331.1 1561.9,1330.9 1563,1330.7 1564,1330.6 1565.1,1330.6 1566.2,1331 1567.2,1331.6 1568.3,1332 1569.3,1332 1570.4,1331.8 1571.4,1331.5 1572.5,1331.4 1573.5,1331.3 1574.6,1331.1 1575.6,1330.5 1576.7,1329.5 1577.8,1328.5 1578.8,1327.7 1579.9,1327.4 1580.9,1327.6 1582,1328.4 1583,1329.6 1584.1,1330.9 1585.1,1332.2 1586.2,1333.1 1587.2,1333.1 1588.3,1332.4 1589.4,1331.1 1590.4,1329.8 1591.5,1328.9 1592.5,1329 1593.6,1329.9 1594.6,1331.1 1595.7,1332 1596.7,1332.6 1597.8,1333.1 1598.8,1333.5 1599.9,1333.7 1601,1333.7 1602,1333.4 1603.1,1332.8 1604.1,1331.9 1605.2,1331.1 1606.2,1330.5 1607.3,1330.1 1608.3,1330.1 1609.4,1330.4 1610.4,1330.9 1611.5,1331.4 1612.6,1331.4 1613.6,1331.1 1614.7,1330.8 1615.7,1330.6 1616.8,1330.3 1617.8,1329.8 1618.9,1329.1 1619.9,1328.4 1621,1327.9 1622,1327.6 1623.1,1327.8 1624.2,1328.4 1625.2,1329.2 1626.3,1330 1627.3,1330.5 1628.4,1330.8 1629.4,1330.8 1630.5,1330.6 1631.5,1330.2" fill="none" stroke="#0072BD" stroke-width="4.25" stroke-linejoin="round" stroke-linecap="round"/>
<polyline points="2153.9,1145.8 2155,1120.9 2156,1124.9 2157.1,1143.1 2158.1,1164.4 2159.2,1194 2160.2,1210.5 2161.3,1214.2 2162.3,1222.6 2163.4,1245.8 2164.4,1272.7 2165.5,1289.5 2166.5,1289 2167.6,1279.5 2168.6,1268.5 2169.7,1260.8 2170.7,1255.2 2171.8,1247.6 2172.8,1239.5 2173.9,1236.1 2174.9,1238.1 2176,1242.5 2177,1249.4 2178.1,1258.5 2179.1,1266.6 2180.2,1273.2 2181.2,1279.8 2182.3,1281.6 2183.3,1277.8 2184.4,1272.7 2185.4,1269 2186.5,1267.5 2187.5,1268.5 2188.6,1272.3 2189.6,1275.2 2190.7,1275.9 2191.7,1276.8 2192.8,1277 2193.8,1276.2 2194.9,1271.4 2195.9,1265.3 2197,1261.6 2198,1261.1 2199.1,1265.5 2200.1,1275.5 2201.2,1285.2 2202.2,1290 2203.3,1293.1 2204.3,1293.9 2205.4,1291.4 2206.4,1288.3 2207.5,1286.2 2208.5,1283.2 2209.6,1280.3 2210.6,1283.4 2211.7,1294.1 2212.7,1302.7 2213.8,1303.1 2214.8,1298.5 2215.9,1290.5 2216.9,1281.8 2218,1278.2 2219,1281.2 2220.1,1290.9 2221.1,1303.2 2222.2,1313 2223.2,1314.3 2224.3,1308.2 2225.3,1299 2226.4,1292.7 2227.4,1287.9 2228.5,1284.8 2229.5,1284 2230.6,1286 2231.6,1288.5 2232.7,1288.5 2233.7,1292.2 2234.8,1298.1 2235.8,1301.4 2236.9,1302.9 2237.9,1304.9 2239,1307.4 2240,1307.6 2241.1,1307.2 2242.1,1309.1 2243.2,1310.8 2244.2,1308.6 2245.3,1304.1 2246.3,1298.1 2247.4,1291.4 2248.4,1287.2 2249.5,1287.4 2250.5,1291.8 2251.6,1297.3 2252.6,1299.7 2253.7,1293.9 2254.7,1284.3 2255.8,1278.6 2256.8,1278.7 2257.9,1286.5 2258.9,1298.9 2260,1309.7 2261,1311.7 2262.1,1304.7 2263.1,1293.9 2264.2,1286.1 2265.2,1286 2266.3,1287.9 2267.3,1290.8 2268.4,1294.5 2269.4,1296.9 2270.5,1300.7 2271.5,1302.5 2272.6,1291.4 2273.6,1281.9 2274.7,1284.7 2275.7,1290.3 2276.8,1294.8 2277.8,1298.8 2278.9,1303 2279.9,1306.1 2281,1306 2282,1301.1 2283.1,1295.7 2284.1,1294.3 2285.2,1292.7 2286.2,1288 2287.3,1286.8 2288.3,1295.4 2289.4,1301 2290.4,1299.3 2291.5,1294.4 2292.5,1287.1 2293.6,1280.3 2294.6,1275.5 2295.7,1272.7 2296.7,1274.7 2297.8,1284 2298.8,1294 2299.9,1300.1 2300.9,1299.4 2302,1292.8 2303,1285.8 2304.1,1282.6 2305.1,1284.6 2306.2,1289.9 2307.2,1297.1 2308.3,1302 2309.3,1304.6 2310.4,1303.7 2311.4,1300.4 2312.5,1295.7 2313.5,1292.3 2314.6,1291.2 2315.6,1294 2316.7,1301.6 2317.7,1308.6 2318.8,1308.8 2319.8,1306.7 2320.9,1305.9 2321.9,1303.3 2323,1297.9 2324,1293.8 2325.1,1294.4 2326.1,1297.4 2327.2,1302.1 2328.2,1307.6 2329.3,1312.7 2330.3,1317.3 2331.4,1319.2 2332.4,1319.1 2333.5,1320.5 2334.5,1324.3 2335.6,1324.4 2336.6,1320.5 2337.7,1318.1 2338.7,1317.1 2339.8,1314.7 2340.8,1311.9 2341.9,1311.7 2342.9,1311.3 2344,1309.7 2345,1309.1 2346.1,1309 2347.1,1308.3 2348.2,1308.4 2349.2,1306.2 2350.3,1302.5 2351.3,1301.2 2352.4,1299.4 2353.4,1295 2354.5,1292.6 2355.5,1297 2356.6,1305.3 2357.6,1312.8 2358.7,1316.3 2359.7,1316.8 2360.8,1315.7 2361.8,1313.7 2362.9,1310.2 2363.9,1307 2365,1305.3 2366,1305.7 2367.1,1308.5 2368.1,1309.5 2369.2,1306.7 2370.2,1304.7 2371.3,1302.5 2372.3,1299.6 2373.4,1298.7 2374.4,1301.3 2375.5,1309.8 2376.5,1317.3 2377.6,1321 2378.6,1323.1 2379.7,1323.1 2380.7,1323.4 2381.8,1323.1 2382.8,1320.8 2383.9,1318.8 2384.9,1318.9 2386,1320.3 2387,1320.2 2388.1,1317.6 2389.1,1312.5 2390.2,1310 2391.2,1313 2392.3,1315.9 2393.3,1316.2 2394.4,1315.5 2395.4,1315.4 2396.5,1314.1 2397.5,1310.3 2398.6,1308.4 2399.6,1310.7 2400.7,1311.7 2401.7,1310.3 2402.8,1311.1 2403.8,1317.1 2404.9,1322.5 2405.9,1324.9 2407,1323.7 2408,1322.4 2409.1,1320.9 2410.1,1319 2411.2,1318 2412.2,1316.5 2413.3,1315.1 2414.3,1312.5 2415.4,1310.9 2416.4,1310.8 2417.5,1308.2 2418.5,1305.9 2419.6,1306 2420.6,1305.1 2421.7,1302 2422.7,1299.7 2423.8,1302.4 2424.8,1308.3 2425.9,1312.2 2426.9,1314.4 2428,1315.8 2429,1316.3 2430.1,1316.3 2431.1,1317.2 2432.2,1315.1 2433.2,1307.6 2434.3,1298.9 2435.3,1293.7 2436.4,1294 2437.4,1297.6 2438.5,1300.7 2439.5,1304.1 2440.6,1308.8 2441.6,1313.8 2442.7,1316 2443.7,1316 2444.8,1317.4 2445.8,1322 2446.9,1325.4 2447.9,1324.3 2449,1322.1 2450,1319.2 2451.1,1312.9 2452.1,1308.1 2453.2,1307.9 2454.2,1307.5 2455.3,1310.9 2456.3,1318.8 2457.4,1325.6 2458.4,1327.7 2459.5,1328.8 2460.5,1327.3 2461.6,1324.3 2462.6,1321 2463.7,1318.6 2464.7,1319.1 2465.8,1319.8 2466.8,1318.1 2467.9,1317.3 2468.9,1317.8 2470,1318.3 2471,1319 2472.1,1318.9 2473.1,1319.3 2474.2,1319.4 2475.2,1320.6 2476.3,1323.9 2477.3,1326.1 2478.4,1324 2479.4,1321.6 2480.5,1318.8 2481.5,1316 2482.6,1314.2 2483.6,1310.3 2484.7,1305.4 2485.7,1304.2 2486.8,1306.5 2487.8,1308.2 2488.9,1310.1 2489.9,1314.5 2491,1318.8 2492,1320.4 2493.1,1318.4 2494.1,1315.3 2495.2,1313.2 2496.2,1314.2 2497.3,1317.1 2498.3,1318 2499.4,1316.6 2500.4,1317.3 2501.5,1318 2502.5,1317.6 2503.6,1318.2 2504.6,1321.1 2505.7,1323.9 2506.7,1325.5 2507.8,1326.7 2508.8,1327.7 2509.9,1328.1 2510.9,1327.8 2512,1327.2 2513,1325.4 2514.1,1322 2515.1,1318.7 2516.2,1317.9 2517.2,1318.8 2518.3,1318.9 2519.3,1318.7 2520.4,1316.9 2521.4,1315.1 2522.5,1315.4 2523.5,1317.2 2524.6,1317.7 2525.6,1315.3 2526.7,1314.2 2527.7,1316.3 2528.8,1318.3 2529.8,1318.4 2530.9,1319.3 2531.9,1321.7 2533,1323.3 2534,1322.5 2535.1,1321.2 2536.1,1322 2537.2,1322.7 2538.2,1322.1 2539.3,1320.3 2540.3,1319.2 2541.4,1319.7 2542.4,1319.4 2543.5,1316.2 2544.5,1314.2 2545.6,1313.6 2546.6,1314.3 2547.7,1320 2548.7,1326.4 2549.8,1328.3 2550.8,1326.7 2551.9,1322.9 2552.9,1319.1 2554,1315.7 2555,1312.1 2556.1,1311.3 2557.1,1313.9 2558.2,1315.6 2559.2,1316 2560.3,1315.8 2561.3,1317.6 2562.4,1321.8 2563.4,1327.1 2564.5,1328.4 2565.5,1327 2566.6,1327.3 2567.6,1327.8 2568.7,1325.5 2569.7,1323.2 2570.8,1321.6 2571.8,1321.3 2572.9,1323.3 2573.9,1323.1 2575,1319.8 2576,1318.4 2577.1,1318.9 2578.1,1318.6 2579.2,1316.4 2580.2,1313.7 2581.3,1312.3 2582.3,1312.3 2583.4,1314.8 2584.4,1317.9 2585.5,1318 2586.5,1316.6 2587.6,1317.5 2588.6,1319.2 2589.7,1321.5 2590.7,1323.1 2591.8,1323.5 2592.8,1323.5 2593.9,1321.7 2594.9,1319.5 2596,1319.1 2597,1318.6 2598.1,1317.4 2599.1,1318.5 2600.2,1319.9 2601.2,1321 2602.3,1323.9 2603.3,1325.5 2604.4,1324.4 2605.4,1322.9 2606.5,1322.9 2607.5,1324.5 2608.6,1325.7 2609.6,1325.5 2610.7,1324.8 2611.7,1325.9 2612.8,1326.2 2613.8,1324.7 2614.9,1324.7 2615.9,1325.5 2617,1326.4 2618,1327.3 2619.1,1327.4 2620.1,1327.7 2621.2,1327.9 2622.2,1327 2623.3,1325.1 2624.3,1324.4 2625.4,1325.4 2626.4,1326 2627.5,1325.5 2628.5,1324 2629.6,1323.9 2630.6,1325.7 2631.7,1326.9 2632.7,1327.9 2633.8,1329.5 2634.8,1330.6 2635.9,1331.8 2636.9,1332.5 2638,1332.8 2639,1334.2 2640.1,1334.1 2641.1,1332.5 2642.2,1330.5 2643.2,1327.3 2644.3,1325 2645.3,1325.3 2646.4,1326.7 2647.4,1328.1 2648.5,1326.5 2649.5,1322.9 2650.6,1321.8 2651.6,1321.5 2652.7,1319.3 2653.7,1316.1 2654.8,1313.7 2655.8,1313.2 2656.9,1314.9 2657.9,1315.7 2659,1315.7 2660,1317.6 2661.1,1320.8 2662.1,1322.5 2663.2,1322.4 2664.2,1320.7 2665.3,1320.7 2666.3,1323.4 2667.4,1326.9 2668.4,1329.6 2669.5,1331.8 2670.5,1332.5 2671.6,1332.1 2672.6,1331.1 2673.7,1330.2 2674.7,1328.4 2675.8,1325.8 2676.8,1322.6 2677.9,1320.4 2678.9,1321.3 2680,1323.1 2681,1321.8 2682.1,1318.1 2683.1,1316 2684.2,1316.4 2685.2,1317.4 2686.3,1316.4 2687.3,1316 2688.4,1317.1 2689.4,1318.8 2690.5,1322 2691.5,1324.4 2692.6,1324.4 2693.6,1325.3 2694.7,1329.5 2695.7,1332.1 2696.8,1330.5 2697.8,1328.2 2698.9,1325 2699.9,1323 2701,1322.3 2702,1318.2 2703.1,1313.4 2704.1,1312.4 2705.2,1313.8 2706.2,1316.4 2707.3,1319.1 2708.3,1319.1 2709.4,1317.2 2710.4,1315 2711.5,1311.9 2712.5,1310 2713.6,1311.1 2714.6,1313.1 2715.7,1315.7 2716.7,1318.9 2717.8,1321.4 2718.8,1322.5 2719.9,1323 2720.9,1323.8 2722,1326 2723,1328.9 2724.1,1328.8 2725.1,1327.6 2726.2,1330.2 2727.2,1335.3 2728.3,1336.9 2729.3,1334.1 2730.4,1330.9 2731.4,1328.7 2732.5,1325.3 2733.5,1322.8 2734.6,1324 2735.6,1327 2736.7,1332.6 2737.7,1337.8 2738.8,1337.6 2739.8,1333.9 2740.9,1329.1 2741.9,1323.1 2743,1317.2 2744,1312 2745.1,1309.7 2746.1,1310.3 2747.2,1311 2748.2,1312.7 2749.3,1316.7 2750.3,1320.4 2751.4,1324.5 2752.4,1328.9 2753.5,1330.9 2754.5,1330.4 2755.6,1328.2 2756.6,1326.6 2757.7,1327.9 2758.7,1328.5 2759.8,1325.8 2760.8,1325.7 2761.9,1326.7 2762.9,1326.6 2764,1327 2765,1326.3 2766.1,1327 2767.1,1328.4 2768.2,1326.7 2769.2,1323.2 2770.3,1322 2771.3,1322.9 2772.4,1321.6 2773.4,1316.1 2774.5,1311.2 2775.5,1311.9 2776.6,1315.3 2777.6,1316.9 2778.7,1318.4 2779.7,1320.3 2780.8,1322.7 2781.8,1324.9 2782.9,1324.2 2783.9,1322.5 2785,1321.9 2786,1321.2 2787.1,1322.2 2788.1,1321.4 2789.2,1318 2790.2,1318.1 2791.3,1322.4 2792.3,1324.9 2793.4,1324.3 2794.4,1323.5 2795.5,1323.3 2796.5,1323.9 2797.6,1327 2798.6,1328.7 2799.7,1326.3 2800.7,1323.3 2801.8,1320.8 2802.8,1319.9 2803.9,1319.9 2804.9,1319.6 2806,1318 2807,1317.4 2808.1,1319 2809.1,1319.8 2810.2,1320.3 2811.2,1320.4 2812.3,1321.7 2813.3,1322.4 2814.4,1322.9 2815.4,1324.8 2816.5,1326.9 2817.5,1328.6 2818.6,1328.7 2819.6,1326.3 2820.7,1324.1 2821.7,1324.9 2822.8,1324.5 2823.8,1322.2 2824.9,1320.3 2825.9,1320.5 2827,1321.9 2828,1323.1 2829.1,1323.4 2830.1,1323.8 2831.2,1325.2 2832.2,1326 2833.3,1325.1 2834.3,1325.6 2835.4,1327.5 2836.4,1326.9 2837.5,1324.9 2838.5,1324.9 2839.6,1325.8 2840.6,1325.9 2841.7,1323.5 2842.7,1320 2843.8,1316.9 2844.8,1315.6 2845.9,1317 2846.9,1319.2 2848,1322.1 2849,1324.5 2850.1,1325.9 2851.1,1326.8 2852.2,1324.8 2853.2,1324.2 2854.3,1326.3 2855.3,1326.6 2856.4,1326.1 2857.4,1326.7 2858.5,1326.8 2859.5,1326.8 2860.6,1326.2 2861.6,1324.8 2862.7,1323.4 2863.7,1322.5 2864.8,1320.7 2865.8,1318.2 2866.9,1317.4 2867.9,1320 2869,1322.5 2870,1324.3 2871.1,1325.5 2872.1,1325.9 2873.2,1326.5 2874.2,1326.9 2875.3,1324.7 2876.3,1321.6 2877.4,1319 2878.4,1317.7 2879.5,1317.4 2880.5,1316.3 2881.6,1316.2 2882.6,1316.3 2883.7,1317.1 2884.7,1319.9 2885.8,1321.6 2886.8,1318.5 2887.9,1315.1 2888.9,1318 2890,1314.7 2891,1312.9 2892.1,1312.5 2893.1,1312.3 2894.2,1312 2895.2,1311.3 2896.3,1307.8 2897.3,1300.8 2898.4,1283.6 2899.4,1248.2 2900.5,1203.4 2901.5,1159.6 2902.6,1141.4 2903.6,1147.6 2904.7,1174.7 2905.7,1225.3 2906.8,1267.4 2907.8,1300.4 2908.9,1306 2909.9,1307.9 2911,1309.2 2912,1310.1 2913.1,1311.1 2914.1,1316.2 2915.2,1327.7 2916.2,1332.6 2917.3,1331.7 2918.3,1329.2 2919.4,1326.4 2920.4,1322.5 2921.5,1319.1 2922.5,1319.1 2923.6,1320.6 2924.6,1321.9 2925.7,1322.1 2926.7,1320.3 2927.8,1317.2 2928.8,1315.2 2929.9,1315.1 2930.9,1317.1 2932,1317.6 2933,1317.9 2934.1,1320.8 2935.1,1321.4 2936.2,1318.6 2937.2,1318.1 2938.3,1321.9 2939.3,1326.3 2940.4,1330.7 2941.4,1335.9 2942.5,1338.3 2943.5,1336 2944.6,1333.1 2945.6,1332.9 2946.7,1333.3 2947.7,1331 2948.8,1328.8 2949.8,1327.8 2950.9,1327.1 2951.9,1327.3 2953,1328.2 2954,1327.3 2955.1,1325.2 2956.1,1324.2 2957.2,1325.8 2958.2,1328.8 2959.3,1330.5 2960.3,1330.3 2961.4,1329.9 2962.4,1328.2 2963.5,1327.5 2964.5,1331.6 2965.6,1334.5 2966.6,1333.5 2967.7,1332.7 2968.7,1329.3 2969.8,1325.7 2970.8,1323.8 2971.9,1322.5 2972.9,1321.6 2974,1322 2975,1323.4 2976.1,1323.7 2977.1,1323.1 2978.2,1324.1 2979.2,1325.2 2980.3,1324.1 2981.3,1322.8 2982.4,1323.8 2983.4,1327 2984.5,1331.1 2985.5,1330.1 2986.6,1326.8 2987.6,1327 2988.7,1328.8 2989.7,1328.5 2990.8,1325.9 2991.8,1323.2 2992.9,1322.8 2993.9,1324.8 2995,1325.7 2996,1324.3 2997.1,1323.1 2998.1,1322.9 2999.2,1323.4 3000.2,1325.8 3001.3,1329.2 3002.3,1331.7 3003.4,1332.5 3004.4,1332.9 3005.5,1333.4 3006.5,1333.6 3007.6,1334.6 3008.6,1334.2 3009.7,1332.8 3010.7,1331.4 3011.8,1330.5 3012.8,1329.8 3013.9,1328.3 3014.9,1327.2 3016,1328.2 3017,1328 3018.1,1326.3 3019.1,1324.5 3020.2,1322.9 3021.2,1320.7 3022.3,1319.1 3023.3,1318.6 3024.4,1319.2 3025.4,1321 3026.5,1321.1 3027.5,1320.2 3028.6,1320.6 3029.6,1323.1 3030.7,1324.7 3031.7,1325 3032.8,1325.8 3033.8,1325.5 3034.9,1323.1 3035.9,1320.7 3037,1321.9 3038,1325.4 3039.1,1327.2 3040.1,1325.9 3041.2,1322.7 3042.2,1321.1 3043.3,1320.7 3044.3,1322.5 3045.4,1325.9 3046.4,1330.2 3047.5,1334.8 3048.5,1336.4 3049.6,1333.8 3050.6,1331.5 3051.7,1331.6 3052.7,1329.4 3053.8,1327.1 3054.8,1328 3055.9,1327.7 3056.9,1325.7 3058,1322.8 3059,1321.2 3060.1,1320 3061.1,1318.7 3062.2,1320.3 3063.2,1322.4 3064.3,1321.9 3065.3,1320.1 3066.4,1319 3067.4,1320.2 3068.5,1322.2 3069.5,1321.6 3070.6,1319.6 3071.6,1318.7 3072.7,1319.6 3073.7,1319 3074.8,1318.2 3075.8,1321.1 3076.9,1321.8 3077.9,1319 3079,1319.4 3080,1323.8 3081.1,1324.6 3082.1,1322.2 3083.2,1322.4 3084.2,1324.4 3085.3,1324.9 3086.3,1326.2 3087.4,1326.9 3088.4,1326.1 3089.5,1326.3 3090.5,1328.4 3091.6,1331 3092.6,1332.2 3093.7,1331.3 3094.7,1330.2 3095.8,1331.2 3096.8,1332.1 3097.9,1331.5 3098.9,1329.9 3100,1328.9 3101,1329.5 3102.1,1331.6 3103.1,1332 3104.2,1331.5 3105.2,1331.9 3106.3,1331.3 3107.3,1329.6 3108.4,1327.9 3109.4,1325.2 3110.5,1323.6 3111.5,1324.8 3112.6,1326.7 3113.6,1325.2 3114.7,1323.7 3115.7,1324.8 3116.8,1324.7 3117.8,1324.3 3118.9,1326 3119.9,1329 3121,1329.4 3122,1325.3 3123.1,1320.9 3124.1,1320 3125.2,1318.8 3126.2,1316.9 3127.3,1320.7 3128.3,1324.8 3129.4,1323.1 3130.4,1322.1 3131.5,1325.8 3132.5,1331.4 3133.6,1334.4 3134.6,1335.2 3135.7,1334.3 3136.7,1331.1 3137.8,1329.8 3138.8,1331.3 3139.9,1332.7 3140.9,1335.2 3142,1336.8 3143,1336.6 3144.1,1335.6 3145.1,1331.8 3146.2,1327.2 3147.2,1326.1 3148.3,1327 3149.3,1327.4 3150.4,1327.9 3151.4,1327.8 3152.5,1327 3153.5,1325.8 3154.6,1324.7 3155.6,1324.1 3156.7,1325.6 3157.7,1327.5 3158.8,1327 3159.8,1327.5 3160.9,1329.7 3161.9,1329.4 3163,1327.3 3164,1327.3 3165.1,1327 3166.1,1324.9 3167.2,1324.4 3168.2,1326.6 3169.3,1328.5 3170.3,1327 3171.4,1323.5 3172.4,1322.1 3173.5,1325.6 3174.5,1328.2 3175.6,1328.2 3176.6,1329.6 3177.7,1331 3178.7,1330.8 3179.8,1329.7 3180.8,1330.8 3181.9,1332.9 3182.9,1330.1 3184,1323.3 3185,1320.4 3186.1,1322.6 3187.1,1324.8 3188.2,1325.3 3189.2,1326.1 3190.3,1325.1 3191.3,1322.1 3192.4,1324.3 3193.4,1329.7 3194.5,1332.8 3195.5,1333.9" fill="none" stroke="#0072BD" stroke-width="4.25" stroke-linejoin="round" stroke-linecap="round"/>
</svg>
</body></html>
